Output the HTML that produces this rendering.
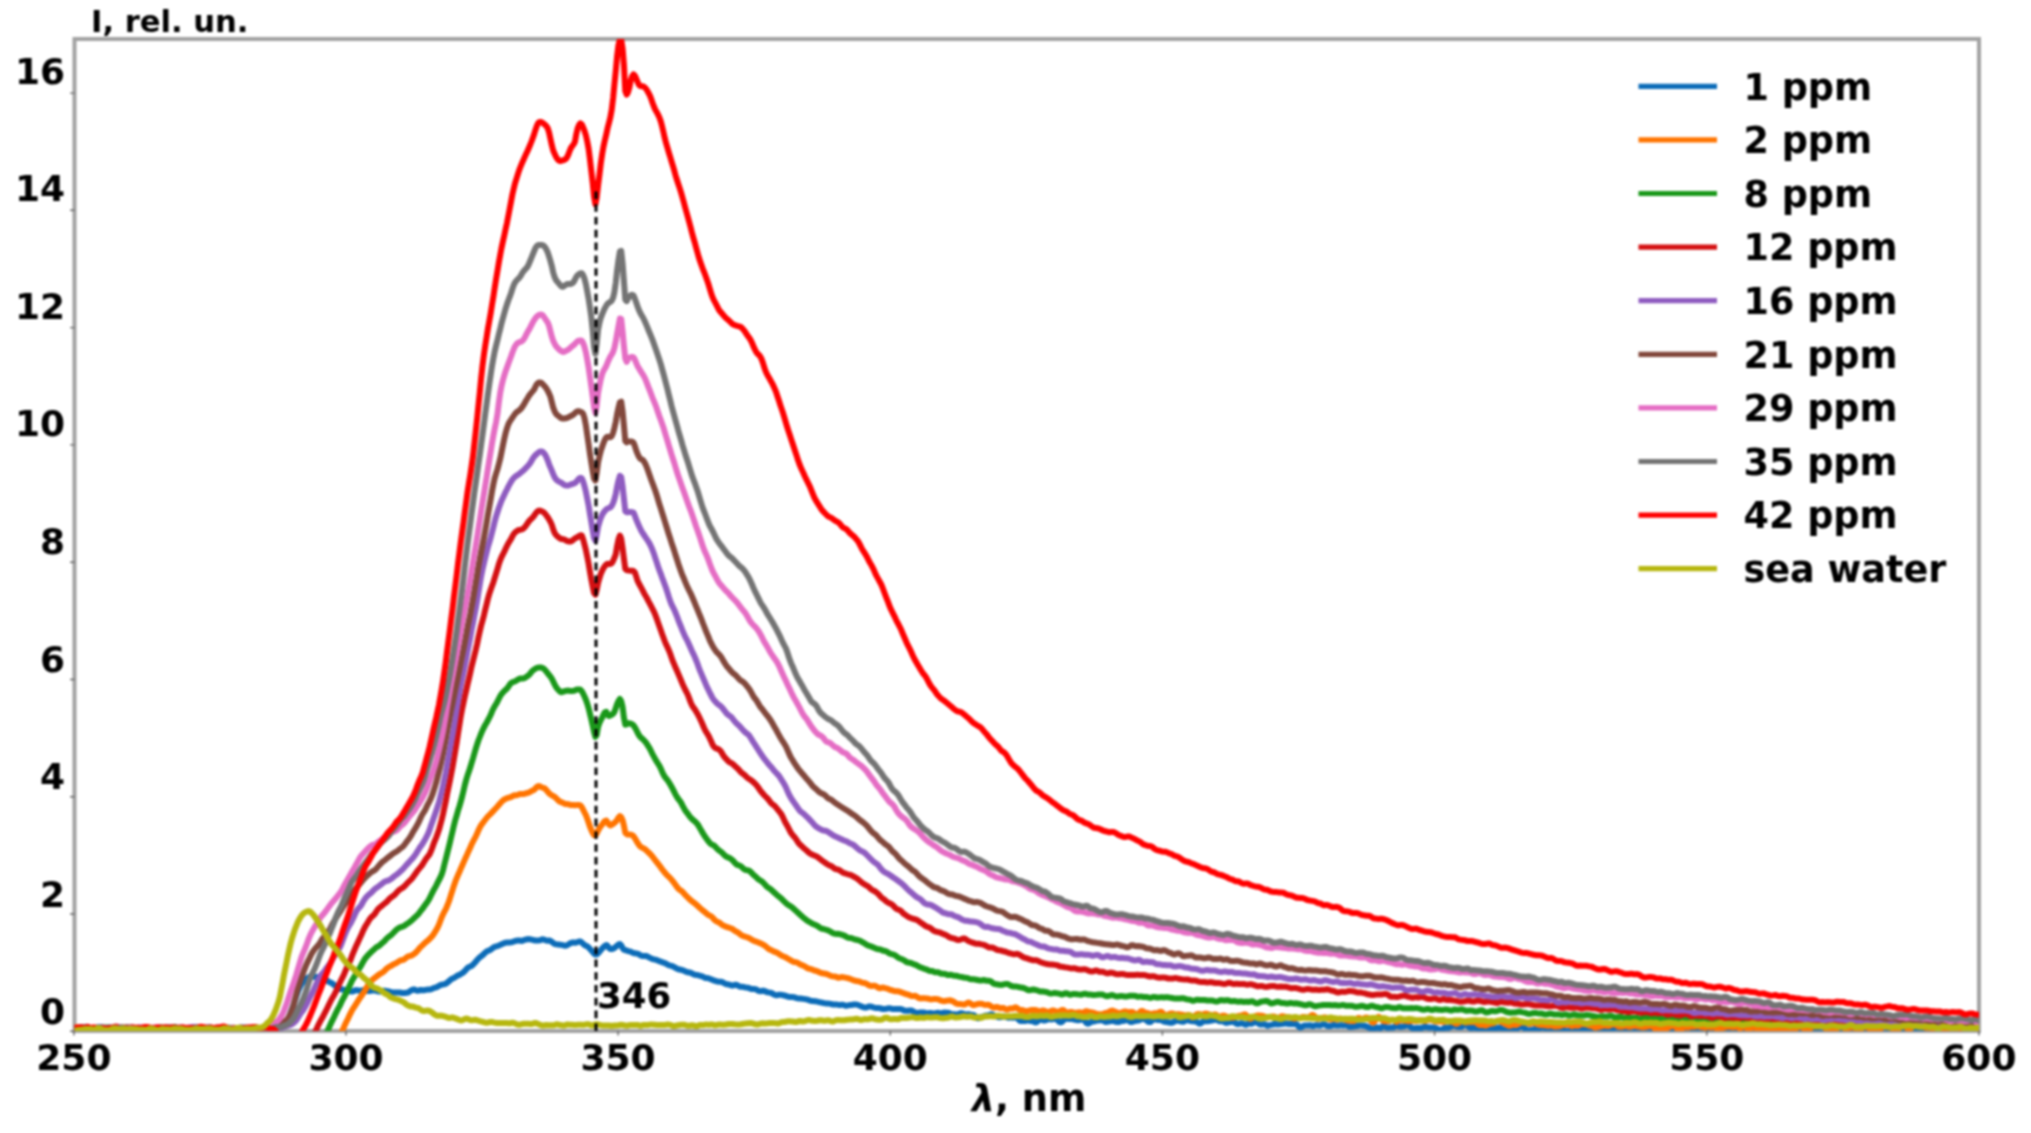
<!DOCTYPE html>
<html><head><meta charset="utf-8"><title>Fluorescence spectra</title>
<style>html,body{margin:0;padding:0;background:#fff;}body{width:2031px;height:1133px;overflow:hidden;}svg{display:block;filter:blur(1.1px);}</style>
</head><body>
<svg width="2031" height="1133" viewBox="0 0 2031 1133">
<defs><clipPath id="c"><rect x="74.5" y="39.0" width="1904.5" height="992.0"/></clipPath></defs>
<rect width="2031" height="1133" fill="#fff"/>
<rect x="74.5" y="39.0" width="1904.5" height="992.0" fill="none" stroke="#a2a2a2" stroke-width="4"/>
<g clip-path="url(#c)" fill="none" stroke-width="6.0" stroke-linejoin="round" stroke-linecap="round">
<path d="M74.5,1028.5 75.9,1028.4 77.2,1028.2 78.6,1027.9 79.9,1027.9 81.3,1028.1 82.7,1028.5 84.0,1028.7 85.4,1028.6 86.7,1028.5 88.1,1028.6 89.5,1028.6 90.8,1028.4 92.2,1028.3 93.5,1028.3 94.9,1028.2 96.3,1027.8 97.6,1027.4 99.0,1027.0 100.3,1026.9 101.7,1027.1 103.1,1027.4 104.4,1027.8 105.8,1028.1 107.1,1028.1 108.5,1027.7 109.9,1027.4 111.2,1027.6 112.6,1027.9 113.9,1027.9 115.3,1027.7 116.7,1027.6 118.0,1027.7 119.4,1028.1 120.7,1028.3 122.1,1028.5 123.5,1028.5 124.8,1028.6 126.2,1028.5 127.5,1028.4 128.9,1028.4 130.3,1028.2 131.6,1028.2 133.0,1028.4 134.3,1028.6 135.7,1028.5 137.1,1028.6 138.4,1028.7 139.8,1028.9 141.1,1029.1 142.5,1028.9 143.9,1028.6 145.2,1028.5 146.6,1028.6 147.9,1028.8 149.3,1028.8 150.7,1029.0 152.0,1029.1 153.4,1029.0 154.7,1028.7 156.1,1028.4 157.5,1028.2 158.8,1028.1 160.2,1027.9 161.5,1028.1 162.9,1028.5 164.3,1028.8 165.6,1028.7 167.0,1028.2 168.3,1028.0 169.7,1027.8 171.1,1027.7 172.4,1028.0 173.8,1028.5 175.1,1029.0 176.5,1028.9 177.9,1028.6 179.2,1028.5 180.6,1028.6 181.9,1028.8 183.3,1028.7 184.7,1028.5 186.0,1028.5 187.4,1028.3 188.7,1028.1 190.1,1028.0 191.5,1028.2 192.8,1028.6 194.2,1029.0 195.5,1029.1 196.9,1028.9 198.3,1028.9 199.6,1028.9 201.0,1028.9 202.3,1028.8 203.7,1028.5 205.1,1028.1 206.4,1027.7 207.8,1027.3 209.1,1027.2 210.5,1027.5 211.9,1028.1 213.2,1028.7 214.6,1028.9 215.9,1028.7 217.3,1028.4 218.7,1028.5 220.0,1028.6 221.4,1028.6 222.7,1028.7 224.1,1028.7 225.5,1028.6 226.8,1028.3 228.2,1028.2 229.5,1028.1 230.9,1028.1 232.3,1028.2 233.6,1028.4 235.0,1028.7 236.3,1028.7 237.7,1028.4 239.1,1028.1 240.4,1027.7 241.8,1027.4 243.1,1027.4 244.5,1027.6 245.9,1027.7 247.2,1027.8 248.6,1028.0 249.9,1028.2 251.3,1028.4 252.7,1028.5 254.0,1028.4 255.4,1028.5 256.7,1028.9 258.1,1029.1 259.5,1028.8 260.8,1028.4 262.2,1028.3 263.5,1028.3 264.9,1028.4 266.3,1028.4 267.6,1028.1 269.0,1027.9 270.3,1027.8 271.7,1028.1 273.1,1028.6 274.4,1028.9 275.8,1028.8 277.1,1028.5 278.5,1028.2 279.9,1027.9 281.2,1027.5 282.6,1026.9 283.9,1025.8 285.3,1024.2 286.7,1022.3 288.0,1019.7 289.4,1016.4 290.7,1012.6 292.1,1008.8 293.5,1005.0 294.8,1001.1 296.2,996.9 297.5,993.0 298.9,989.3 300.3,986.2 301.6,983.8 303.0,982.0 304.3,980.5 305.7,979.2 307.1,978.3 308.4,977.4 309.8,976.7 311.1,976.3 312.5,976.5 313.9,976.8 315.2,977.0 316.6,977.0 317.9,977.0 319.3,977.1 320.7,977.4 322.0,977.8 323.4,978.3 324.7,978.8 326.1,979.7 327.5,980.8 328.8,981.8 330.2,982.4 331.5,983.0 332.9,983.9 334.3,985.1 335.6,986.1 337.0,986.9 338.3,987.7 339.7,988.5 341.1,989.2 342.4,989.5 343.8,989.8 345.1,989.9 346.5,990.0 347.9,990.4 349.2,990.9 350.6,991.4 351.9,991.6 353.3,991.2 354.7,990.5 356.0,990.2 357.4,990.3 358.7,990.6 360.1,990.7 361.5,990.6 362.8,990.2 364.2,990.2 365.5,990.6 366.9,991.0 368.3,991.1 369.6,991.0 371.0,990.7 372.3,990.6 373.7,990.6 375.1,990.6 376.4,990.8 377.8,991.3 379.1,991.5 380.5,991.4 381.9,991.1 383.2,990.8 384.6,990.7 385.9,990.9 387.3,991.1 388.7,991.4 390.0,991.8 391.4,992.2 392.7,992.4 394.1,992.4 395.5,992.4 396.8,992.5 398.2,992.4 399.5,992.4 400.9,992.7 402.3,993.0 403.6,993.1 405.0,993.0 406.3,992.8 407.7,992.6 409.1,991.8 410.4,990.9 411.8,990.1 413.1,989.6 414.5,989.5 415.9,990.2 417.2,990.7 418.6,990.6 419.9,990.1 421.3,990.0 422.7,990.2 424.0,990.2 425.4,989.9 426.7,989.7 428.1,989.6 429.5,989.6 430.8,989.3 432.2,988.7 433.5,988.1 434.9,987.7 436.3,987.3 437.6,986.7 439.0,985.9 440.3,985.2 441.7,984.7 443.1,984.4 444.4,984.2 445.8,983.7 447.1,982.8 448.5,981.6 449.9,980.4 451.2,979.2 452.6,978.5 453.9,978.0 455.3,977.1 456.7,976.1 458.0,975.3 459.4,974.8 460.7,974.1 462.1,973.2 463.5,972.2 464.8,971.0 466.2,969.4 467.5,968.0 468.9,967.0 470.3,966.5 471.6,965.8 473.0,964.7 474.3,963.3 475.7,961.7 477.1,960.1 478.4,958.6 479.8,957.3 481.1,956.3 482.5,955.3 483.9,954.0 485.2,952.6 486.6,951.5 487.9,950.8 489.3,950.4 490.7,949.6 492.0,948.6 493.4,947.5 494.7,946.8 496.1,946.4 497.5,946.1 498.8,945.5 500.2,944.9 501.5,944.3 502.9,943.7 504.3,943.1 505.6,942.7 507.0,942.6 508.3,942.5 509.7,942.4 511.1,942.3 512.4,942.1 513.8,941.5 515.1,941.0 516.5,940.7 517.9,940.5 519.2,940.5 520.6,940.8 521.9,940.9 523.3,940.4 524.7,939.8 526.0,939.5 527.4,939.2 528.7,939.1 530.1,939.3 531.5,939.6 532.8,939.9 534.2,940.3 535.5,940.5 536.9,940.5 538.3,940.4 539.6,940.3 541.0,939.8 542.3,939.3 543.7,939.4 545.1,940.0 546.4,940.6 547.8,940.7 549.1,940.5 550.5,940.9 551.9,941.9 553.2,943.0 554.6,943.8 555.9,944.2 557.3,944.4 558.7,944.5 560.0,944.7 561.4,944.9 562.7,945.2 564.1,945.5 565.5,945.7 566.8,945.3 568.2,944.5 569.5,943.7 570.9,943.0 572.3,942.6 573.6,942.5 575.0,942.7 576.3,942.6 577.7,942.0 579.1,941.5 580.4,941.6 581.8,942.5 583.1,943.8 584.5,945.0 585.9,945.7 587.2,946.3 588.6,947.4 589.9,948.9 591.3,950.3 592.7,951.9 594.0,953.5 595.4,954.5 596.7,954.5 598.1,953.3 599.5,951.7 600.8,950.1 602.2,948.5 603.5,947.1 604.9,945.8 606.3,945.0 607.6,946.0 609.0,947.9 610.3,949.0 611.7,949.1 613.1,948.7 614.4,947.9 615.8,946.8 617.1,945.6 618.5,944.5 619.9,944.1 621.2,945.4 622.6,948.0 623.9,949.9 625.3,950.1 626.7,950.5 628.0,951.1 629.4,951.4 630.7,951.7 632.1,952.4 633.5,953.0 634.8,953.3 636.2,953.4 637.5,953.6 638.9,954.3 640.3,955.2 641.6,955.8 643.0,956.0 644.3,956.0 645.7,956.0 647.1,956.3 648.4,957.0 649.8,957.8 651.1,958.4 652.5,959.0 653.9,959.4 655.2,959.6 656.6,960.0 657.9,960.6 659.3,961.2 660.7,961.7 662.0,962.1 663.4,962.6 664.7,963.0 666.1,963.7 667.5,964.6 668.8,965.2 670.2,965.6 671.5,965.9 672.9,966.4 674.3,967.1 675.6,967.9 677.0,968.7 678.3,969.2 679.7,969.5 681.1,969.8 682.4,970.2 683.8,970.6 685.1,971.3 686.5,971.9 687.9,972.3 689.2,972.5 690.6,972.8 691.9,973.4 693.3,974.2 694.7,974.7 696.0,974.9 697.4,975.0 698.7,975.4 700.1,975.8 701.5,976.2 702.8,976.6 704.2,977.4 705.5,978.0 706.9,978.1 708.3,978.2 709.6,978.7 711.0,979.3 712.3,979.9 713.7,980.3 715.1,980.8 716.4,981.3 717.8,981.6 719.1,981.8 720.5,981.7 721.9,981.9 723.2,982.6 724.6,983.4 725.9,984.0 727.3,984.2 728.7,984.5 730.0,984.9 731.4,985.4 732.7,985.5 734.1,985.1 735.5,984.8 736.8,985.0 738.2,985.7 739.5,986.5 740.9,986.8 742.3,986.8 743.6,986.9 745.0,987.3 746.3,987.6 747.7,987.7 749.1,988.1 750.4,988.6 751.8,989.0 753.1,989.1 754.5,989.1 755.9,989.3 757.2,990.0 758.6,990.9 759.9,991.2 761.3,991.0 762.7,990.7 764.0,990.8 765.4,991.3 766.7,992.0 768.1,992.4 769.5,992.6 770.8,992.8 772.2,993.3 773.5,994.2 774.9,994.9 776.3,995.2 777.6,995.0 779.0,994.7 780.3,994.7 781.7,994.9 783.1,995.2 784.4,995.5 785.8,995.9 787.1,996.4 788.5,996.8 789.9,997.0 791.2,997.1 792.6,997.1 793.9,997.2 795.3,997.6 796.7,998.1 798.0,998.4 799.4,998.5 800.7,998.6 802.1,998.7 803.5,998.9 804.8,999.1 806.2,999.3 807.5,999.6 808.9,1000.2 810.3,1000.7 811.6,1001.0 813.0,1001.1 814.3,1001.2 815.7,1001.3 817.1,1001.6 818.4,1001.9 819.8,1002.2 821.1,1002.4 822.5,1002.8 823.9,1003.1 825.2,1003.3 826.6,1003.4 827.9,1003.4 829.3,1003.6 830.7,1003.9 832.0,1004.3 833.4,1004.5 834.7,1004.5 836.1,1004.4 837.5,1004.6 838.8,1004.9 840.2,1004.9 841.5,1004.8 842.9,1004.8 844.3,1005.2 845.6,1005.7 847.0,1005.7 848.3,1005.4 849.7,1005.1 851.1,1005.0 852.4,1004.8 853.8,1004.5 855.1,1004.5 856.5,1004.6 857.9,1004.9 859.2,1005.5 860.6,1006.1 861.9,1006.6 863.3,1007.1 864.7,1007.5 866.0,1007.5 867.4,1007.1 868.7,1006.5 870.1,1006.4 871.5,1006.7 872.8,1007.2 874.2,1007.6 875.5,1007.9 876.9,1007.9 878.3,1007.9 879.6,1008.1 881.0,1008.5 882.3,1008.9 883.7,1009.0 885.1,1008.9 886.4,1008.7 887.8,1008.4 889.1,1008.2 890.5,1008.4 891.9,1008.8 893.2,1009.1 894.6,1009.1 895.9,1008.9 897.3,1008.9 898.7,1008.9 900.0,1008.9 901.4,1009.1 902.7,1009.8 904.1,1010.5 905.5,1010.7 906.8,1010.7 908.2,1010.7 909.5,1010.5 910.9,1010.4 912.3,1010.9 913.6,1011.7 915.0,1012.4 916.3,1012.8 917.7,1012.9 919.1,1012.7 920.4,1012.5 921.8,1012.4 923.1,1012.4 924.5,1012.7 925.9,1013.1 927.2,1013.3 928.6,1013.1 929.9,1012.9 931.3,1013.1 932.7,1013.3 934.0,1013.4 935.4,1013.2 936.7,1012.9 938.1,1012.8 939.5,1013.1 940.8,1013.3 942.2,1013.1 943.5,1012.7 944.9,1012.6 946.3,1012.7 947.6,1012.7 949.0,1013.0 950.3,1013.6 951.7,1014.2 953.1,1014.2 954.4,1014.2 955.8,1014.4 957.1,1014.4 958.5,1014.1 959.9,1013.5 961.2,1013.2 962.6,1013.5 963.9,1014.0 965.3,1014.4 966.7,1014.4 968.0,1014.2 969.4,1014.3 970.7,1014.7 972.1,1014.9 973.5,1015.0 974.8,1015.8 976.2,1017.2 977.5,1018.3 978.9,1018.2 980.3,1017.4 981.6,1017.0 983.0,1016.7 984.3,1016.1 985.7,1015.6 987.1,1015.6 988.4,1015.4 989.8,1014.7 991.1,1014.2 992.5,1014.6 993.9,1015.4 995.2,1016.0 996.6,1016.5 997.9,1017.0 999.3,1017.3 1000.7,1017.2 1002.0,1016.9 1003.4,1016.6 1004.7,1016.5 1006.1,1017.0 1007.5,1017.6 1008.8,1017.7 1010.2,1017.4 1011.5,1017.5 1012.9,1017.7 1014.3,1017.6 1015.6,1017.2 1017.0,1017.7 1018.3,1019.2 1019.7,1020.7 1021.1,1021.0 1022.4,1020.8 1023.8,1021.0 1025.1,1021.0 1026.5,1020.6 1027.9,1020.4 1029.2,1020.7 1030.6,1021.0 1031.9,1021.0 1033.3,1021.4 1034.7,1022.2 1036.0,1022.4 1037.4,1021.6 1038.7,1020.4 1040.1,1019.6 1041.5,1019.8 1042.8,1020.3 1044.2,1020.6 1045.5,1020.4 1046.9,1019.7 1048.3,1019.2 1049.6,1019.2 1051.0,1019.4 1052.3,1019.3 1053.7,1019.1 1055.1,1018.9 1056.4,1019.3 1057.8,1020.5 1059.1,1021.7 1060.5,1022.4 1061.9,1022.1 1063.2,1020.6 1064.6,1019.1 1065.9,1018.4 1067.3,1018.6 1068.7,1019.0 1070.0,1019.1 1071.4,1019.0 1072.7,1019.1 1074.1,1019.5 1075.5,1019.9 1076.8,1020.2 1078.2,1020.2 1079.5,1020.0 1080.9,1019.6 1082.3,1019.2 1083.6,1019.6 1085.0,1021.1 1086.3,1022.9 1087.7,1023.7 1089.1,1023.3 1090.4,1022.4 1091.8,1021.8 1093.1,1021.6 1094.5,1021.3 1095.9,1020.9 1097.2,1020.6 1098.6,1020.5 1099.9,1020.3 1101.3,1020.1 1102.7,1020.3 1104.0,1021.2 1105.4,1022.0 1106.7,1021.9 1108.1,1021.5 1109.5,1021.4 1110.8,1021.1 1112.2,1020.8 1113.5,1021.0 1114.9,1021.5 1116.3,1021.9 1117.6,1022.0 1119.0,1021.9 1120.3,1021.4 1121.7,1021.0 1123.1,1021.0 1124.4,1020.7 1125.8,1020.0 1127.1,1019.8 1128.5,1020.6 1129.9,1021.6 1131.2,1022.1 1132.6,1021.8 1133.9,1021.2 1135.3,1020.9 1136.7,1020.8 1138.0,1020.6 1139.4,1020.3 1140.7,1019.5 1142.1,1018.9 1143.5,1018.9 1144.8,1019.3 1146.2,1020.2 1147.5,1021.3 1148.9,1022.1 1150.3,1022.1 1151.6,1021.0 1153.0,1019.9 1154.3,1019.4 1155.7,1019.4 1157.1,1019.8 1158.4,1020.1 1159.8,1020.0 1161.1,1020.1 1162.5,1020.8 1163.9,1021.5 1165.2,1021.8 1166.6,1022.1 1167.9,1022.3 1169.3,1022.6 1170.7,1022.8 1172.0,1022.7 1173.4,1022.2 1174.7,1021.4 1176.1,1020.7 1177.5,1020.7 1178.8,1020.9 1180.2,1021.2 1181.5,1021.5 1182.9,1021.8 1184.3,1021.3 1185.6,1020.3 1187.0,1019.8 1188.3,1020.2 1189.7,1020.8 1191.1,1021.0 1192.4,1021.2 1193.8,1021.4 1195.1,1021.6 1196.5,1021.8 1197.9,1022.6 1199.2,1023.5 1200.6,1023.5 1201.9,1022.4 1203.3,1021.4 1204.7,1021.3 1206.0,1021.3 1207.4,1021.2 1208.7,1021.0 1210.1,1020.9 1211.5,1020.6 1212.8,1020.3 1214.2,1019.8 1215.5,1019.5 1216.9,1019.9 1218.3,1020.8 1219.6,1021.3 1221.0,1021.2 1222.3,1021.1 1223.7,1021.7 1225.1,1022.6 1226.4,1022.9 1227.8,1022.5 1229.1,1022.2 1230.5,1022.0 1231.9,1021.7 1233.2,1021.6 1234.6,1022.3 1235.9,1023.4 1237.3,1023.9 1238.7,1023.9 1240.0,1023.5 1241.4,1023.3 1242.7,1023.4 1244.1,1024.1 1245.5,1024.8 1246.8,1024.5 1248.2,1023.7 1249.5,1023.4 1250.9,1023.7 1252.3,1023.5 1253.6,1022.6 1255.0,1021.9 1256.3,1022.2 1257.7,1023.1 1259.1,1024.0 1260.4,1024.6 1261.8,1024.5 1263.1,1024.2 1264.5,1024.2 1265.9,1025.0 1267.2,1025.7 1268.6,1025.5 1269.9,1025.1 1271.3,1024.9 1272.7,1024.6 1274.0,1024.1 1275.4,1024.0 1276.7,1024.3 1278.1,1024.4 1279.5,1024.2 1280.8,1024.0 1282.2,1023.9 1283.5,1023.7 1284.9,1023.4 1286.3,1023.4 1287.6,1023.8 1289.0,1024.0 1290.3,1023.9 1291.7,1023.9 1293.1,1023.9 1294.4,1023.8 1295.8,1023.9 1297.1,1024.7 1298.5,1026.3 1299.9,1027.4 1301.2,1027.3 1302.6,1026.4 1303.9,1025.7 1305.3,1025.5 1306.7,1025.5 1308.0,1025.4 1309.4,1025.3 1310.7,1025.5 1312.1,1025.9 1313.5,1025.9 1314.8,1025.5 1316.2,1025.2 1317.5,1025.3 1318.9,1025.6 1320.3,1025.5 1321.6,1025.0 1323.0,1024.2 1324.3,1024.2 1325.7,1025.1 1327.1,1025.9 1328.4,1026.1 1329.8,1026.0 1331.1,1025.8 1332.5,1025.3 1333.9,1025.0 1335.2,1025.3 1336.6,1025.6 1337.9,1025.6 1339.3,1025.4 1340.7,1025.3 1342.0,1025.3 1343.4,1025.6 1344.7,1025.4 1346.1,1025.1 1347.5,1025.6 1348.8,1026.6 1350.2,1026.9 1351.5,1026.7 1352.9,1026.5 1354.3,1026.4 1355.6,1026.1 1357.0,1026.0 1358.3,1025.8 1359.7,1025.5 1361.1,1025.5 1362.4,1025.7 1363.8,1025.8 1365.1,1025.9 1366.5,1026.3 1367.9,1027.1 1369.2,1027.6 1370.6,1028.1 1371.9,1028.5 1373.3,1028.6 1374.7,1028.3 1376.0,1027.7 1377.4,1027.4 1378.7,1027.8 1380.1,1028.2 1381.5,1027.5 1382.8,1026.2 1384.2,1026.0 1385.5,1026.8 1386.9,1027.6 1388.3,1027.8 1389.6,1027.6 1391.0,1027.6 1392.3,1027.5 1393.7,1027.2 1395.1,1026.6 1396.4,1026.0 1397.8,1026.0 1399.1,1026.5 1400.5,1026.8 1401.9,1026.7 1403.2,1026.4 1404.6,1026.1 1405.9,1025.6 1407.3,1025.3 1408.7,1025.5 1410.0,1026.5 1411.4,1027.6 1412.7,1028.2 1414.1,1028.2 1415.5,1028.1 1416.8,1027.9 1418.2,1027.9 1419.5,1028.1 1420.9,1028.1 1422.3,1027.6 1423.6,1027.2 1425.0,1027.0 1426.3,1027.1 1427.7,1027.3 1429.1,1027.6 1430.4,1027.6 1431.8,1027.5 1433.1,1027.4 1434.5,1027.7 1435.9,1028.1 1437.2,1028.7 1438.6,1029.5 1439.9,1029.9 1441.3,1029.8 1442.7,1029.0 1444.0,1028.1 1445.4,1027.7 1446.7,1027.8 1448.1,1027.8 1449.5,1027.4 1450.8,1026.7 1452.2,1026.0 1453.5,1025.7 1454.9,1025.9 1456.3,1026.4 1457.6,1026.8 1459.0,1027.0 1460.3,1027.1 1461.7,1026.8 1463.1,1025.9 1464.4,1025.2 1465.8,1025.1 1467.1,1025.6 1468.5,1026.8 1469.9,1027.8 1471.2,1028.0 1472.6,1027.8 1473.9,1027.6 1475.3,1027.7 1476.7,1028.1 1478.0,1028.8 1479.4,1029.5 1480.7,1029.9 1482.1,1029.4 1483.5,1028.6 1484.8,1028.2 1486.2,1028.4 1487.5,1028.9 1488.9,1029.2 1490.3,1029.3 1491.6,1028.8 1493.0,1028.1 1494.3,1028.1 1495.7,1028.3 1497.1,1028.1 1498.4,1027.7 1499.8,1027.5 1501.1,1028.0 1502.5,1029.4 1503.9,1030.4 1505.2,1029.9 1506.6,1028.6 1507.9,1027.9 1509.3,1028.2 1510.7,1028.5 1512.0,1028.5 1513.4,1028.7 1514.7,1029.3 1516.1,1029.2 1517.5,1028.3 1518.8,1027.2 1520.2,1026.5 1521.5,1026.5 1522.9,1027.0 1524.3,1028.0 1525.6,1029.1 1527.0,1030.2 1528.3,1030.8 1529.7,1030.5 1531.1,1029.9 1532.4,1029.8 1533.8,1029.6 1535.1,1028.8 1536.5,1028.1 1537.9,1027.9 1539.2,1028.0 1540.6,1027.9 1541.9,1027.4 1543.3,1027.3 1544.7,1028.0 1546.0,1028.8 1547.4,1029.3 1548.7,1029.5 1550.1,1029.4 1551.5,1028.9 1552.8,1028.3 1554.2,1028.2 1555.5,1028.6 1556.9,1028.9 1558.3,1028.9 1559.6,1028.7 1561.0,1029.0 1562.3,1029.6 1563.7,1030.1 1565.1,1030.7 1566.4,1031.5 1567.8,1031.4 1569.1,1030.8 1570.5,1031.0 1571.9,1031.6 1573.2,1031.4 1574.6,1030.4 1575.9,1029.5 1577.3,1029.0 1578.7,1029.0 1580.0,1029.3 1581.4,1029.4 1582.7,1029.1 1584.1,1028.6 1585.5,1028.3 1586.8,1028.5 1588.2,1028.9 1589.5,1029.7 1590.9,1030.4 1592.3,1030.7 1593.6,1030.6 1595.0,1030.3 1596.3,1030.0 1597.7,1029.7 1599.1,1029.7 1600.4,1029.8 1601.8,1030.0 1603.1,1030.1 1604.5,1029.8 1605.9,1029.2 1607.2,1028.8 1608.6,1029.0 1609.9,1029.3 1611.3,1029.6 1612.7,1029.4 1614.0,1028.4 1615.4,1027.4 1616.7,1027.2 1618.1,1027.9 1619.5,1029.2 1620.8,1030.2 1622.2,1030.1 1623.5,1029.6 1624.9,1029.9 1626.3,1030.8 1627.6,1031.2 1629.0,1031.6 1630.3,1032.4 1631.7,1032.9 1633.1,1032.5 1634.4,1031.6 1635.8,1030.9 1637.1,1030.2 1638.5,1029.5 1639.9,1029.0 1641.2,1029.0 1642.6,1029.3 1643.9,1030.0 1645.3,1030.9 1646.7,1031.2 1648.0,1030.7 1649.4,1030.2 1650.7,1030.3 1652.1,1030.7 1653.5,1030.5 1654.8,1029.6 1656.2,1028.6 1657.5,1028.2 1658.9,1028.8 1660.3,1029.5 1661.6,1029.6 1663.0,1029.4 1664.3,1029.6 1665.7,1030.0 1667.1,1030.0 1668.4,1029.5 1669.8,1028.8 1671.1,1028.5 1672.5,1028.8 1673.9,1029.2 1675.2,1029.2 1676.6,1029.2 1677.9,1029.5 1679.3,1029.6 1680.7,1029.6 1682.0,1029.7 1683.4,1029.7 1684.7,1029.2 1686.1,1028.8 1687.5,1028.8 1688.8,1029.1 1690.2,1029.7 1691.5,1030.6 1692.9,1031.2 1694.3,1031.4 1695.6,1031.4 1697.0,1031.9 1698.3,1032.5 1699.7,1032.6 1701.1,1032.2 1702.4,1031.4 1703.8,1030.8 1705.1,1030.3 1706.5,1029.9 1707.9,1029.7 1709.2,1029.4 1710.6,1028.9 1711.9,1028.6 1713.3,1029.1 1714.7,1030.3 1716.0,1031.3 1717.4,1031.5 1718.7,1030.9 1720.1,1030.3 1721.5,1030.1 1722.8,1030.5 1724.2,1031.1 1725.5,1031.7 1726.9,1031.7 1728.3,1030.5 1729.6,1029.2 1731.0,1028.4 1732.3,1028.5 1733.7,1029.4 1735.1,1030.4 1736.4,1030.5 1737.8,1030.5 1739.1,1030.9 1740.5,1031.2 1741.9,1030.7 1743.2,1030.2 1744.6,1030.4 1745.9,1031.2 1747.3,1032.1 1748.7,1032.8 1750.0,1033.1 1751.4,1033.1 1752.7,1032.5 1754.1,1031.4 1755.5,1030.3 1756.8,1030.2 1758.2,1030.6 1759.5,1030.9 1760.9,1030.9 1762.3,1030.7 1763.6,1031.0 1765.0,1031.6 1766.3,1032.1 1767.7,1032.2 1769.1,1032.2 1770.4,1031.7 1771.8,1030.3 1773.1,1029.1 1774.5,1028.8 1775.9,1029.2 1777.2,1030.0 1778.6,1030.7 1779.9,1031.1 1781.3,1030.9 1782.7,1030.9 1784.0,1031.1 1785.4,1030.7 1786.7,1030.3 1788.1,1030.5 1789.5,1030.7 1790.8,1030.8 1792.2,1030.7 1793.5,1030.4 1794.9,1030.3 1796.3,1030.7 1797.6,1031.0 1799.0,1031.1 1800.3,1031.4 1801.7,1032.2 1803.1,1032.7 1804.4,1032.5 1805.8,1032.0 1807.1,1031.7 1808.5,1031.7 1809.9,1032.1 1811.2,1032.5 1812.6,1032.4 1813.9,1031.6 1815.3,1030.8 1816.7,1030.8 1818.0,1031.5 1819.4,1032.3 1820.7,1032.7 1822.1,1032.9 1823.5,1032.9 1824.8,1032.4 1826.2,1031.0 1827.5,1029.6 1828.9,1029.1 1830.3,1029.8 1831.6,1030.8 1833.0,1031.6 1834.3,1032.3 1835.7,1032.9 1837.1,1033.1 1838.4,1032.6 1839.8,1031.7 1841.1,1031.1 1842.5,1030.9 1843.9,1030.9 1845.2,1030.9 1846.6,1031.2 1847.9,1031.1 1849.3,1030.6 1850.7,1030.2 1852.0,1030.5 1853.4,1031.1 1854.7,1031.5 1856.1,1031.5 1857.5,1031.1 1858.8,1030.8 1860.2,1030.9 1861.5,1031.1 1862.9,1030.8 1864.3,1029.9 1865.6,1029.2 1867.0,1029.7 1868.3,1031.1 1869.7,1032.0 1871.1,1031.9 1872.4,1031.3 1873.8,1031.4 1875.1,1032.2 1876.5,1032.6 1877.9,1031.8 1879.2,1030.8 1880.6,1031.0 1881.9,1032.3 1883.3,1033.6 1884.7,1033.7 1886.0,1033.0 1887.4,1032.0 1888.7,1031.4 1890.1,1031.0 1891.5,1030.7 1892.8,1030.8 1894.2,1031.5 1895.5,1031.9 1896.9,1031.8 1898.3,1031.0 1899.6,1030.2 1901.0,1029.7 1902.3,1029.6 1903.7,1029.3 1905.1,1028.9 1906.4,1028.7 1907.8,1028.5 1909.1,1028.2 1910.5,1028.3 1911.9,1029.1 1913.2,1030.5 1914.6,1031.7 1915.9,1031.7 1917.3,1031.0 1918.7,1030.7 1920.0,1031.0 1921.4,1031.3 1922.7,1031.6 1924.1,1031.6 1925.5,1030.8 1926.8,1029.8 1928.2,1029.7 1929.5,1030.2 1930.9,1030.2 1932.3,1029.9 1933.6,1030.1 1935.0,1030.8 1936.3,1031.3 1937.7,1031.3 1939.1,1031.2 1940.4,1030.7 1941.8,1030.1 1943.1,1030.1 1944.5,1030.1 1945.9,1029.6 1947.2,1029.4 1948.6,1030.3 1949.9,1031.4 1951.3,1031.7 1952.7,1031.6 1954.0,1031.7 1955.4,1032.0 1956.7,1032.4 1958.1,1032.7 1959.5,1032.3 1960.8,1031.4 1962.2,1030.6 1963.5,1030.2 1964.9,1030.0 1966.3,1030.7 1967.6,1032.2 1969.0,1033.2 1970.3,1033.0 1971.7,1032.7 1973.1,1033.1 1974.4,1033.4 1975.8,1032.8 1977.1,1031.3 1978.5,1030.1" stroke="#0c6cb8"/>
<path d="M74.5,1027.3 75.9,1027.1 77.2,1027.2 78.6,1027.6 79.9,1027.9 81.3,1028.4 82.7,1029.0 84.0,1029.5 85.4,1029.5 86.7,1029.3 88.1,1028.9 89.5,1028.6 90.8,1028.4 92.2,1028.3 93.5,1028.0 94.9,1027.9 96.3,1028.0 97.6,1028.5 99.0,1028.8 100.3,1028.6 101.7,1028.2 103.1,1027.8 104.4,1027.8 105.8,1028.3 107.1,1029.2 108.5,1029.6 109.9,1029.3 111.2,1028.8 112.6,1028.7 113.9,1028.8 115.3,1028.9 116.7,1028.9 118.0,1028.8 119.4,1028.6 120.7,1028.2 122.1,1027.7 123.5,1027.5 124.8,1027.4 126.2,1027.5 127.5,1027.7 128.9,1028.0 130.3,1028.2 131.6,1028.1 133.0,1027.8 134.3,1027.8 135.7,1028.2 137.1,1028.9 138.4,1029.4 139.8,1029.3 141.1,1029.1 142.5,1028.8 143.9,1028.6 145.2,1028.4 146.6,1028.1 147.9,1028.3 149.3,1029.0 150.7,1029.2 152.0,1028.8 153.4,1028.4 154.7,1028.3 156.1,1028.0 157.5,1027.9 158.8,1028.1 160.2,1028.5 161.5,1029.0 162.9,1029.3 164.3,1029.4 165.6,1029.3 167.0,1028.7 168.3,1028.1 169.7,1027.7 171.1,1027.8 172.4,1028.2 173.8,1028.4 175.1,1028.4 176.5,1028.2 177.9,1028.0 179.2,1027.9 180.6,1028.1 181.9,1028.4 183.3,1028.7 184.7,1028.6 186.0,1028.3 187.4,1028.2 188.7,1028.5 190.1,1029.0 191.5,1029.6 192.8,1029.9 194.2,1029.6 195.5,1028.9 196.9,1028.2 198.3,1027.8 199.6,1027.6 201.0,1027.7 202.3,1027.9 203.7,1028.3 205.1,1028.4 206.4,1028.4 207.8,1028.3 209.1,1028.5 210.5,1029.1 211.9,1029.6 213.2,1029.8 214.6,1029.7 215.9,1029.5 217.3,1029.4 218.7,1029.5 220.0,1029.5 221.4,1029.4 222.7,1029.4 224.1,1029.6 225.5,1029.5 226.8,1029.4 228.2,1029.1 229.5,1028.7 230.9,1028.3 232.3,1028.0 233.6,1027.9 235.0,1028.0 236.3,1028.2 237.7,1028.4 239.1,1028.5 240.4,1028.8 241.8,1029.3 243.1,1029.5 244.5,1029.2 245.9,1028.8 247.2,1028.6 248.6,1028.6 249.9,1028.5 251.3,1028.5 252.7,1029.0 254.0,1029.2 255.4,1029.0 256.7,1028.8 258.1,1028.9 259.5,1028.9 260.8,1028.8 262.2,1028.6 263.5,1028.8 264.9,1028.9 266.3,1028.8 267.6,1028.6 269.0,1028.7 270.3,1029.0 271.7,1029.1 273.1,1029.2 274.4,1029.8 275.8,1031.7 277.1,1034.7 278.5,1038.0 279.9,1041.1 281.2,1044.7 282.6,1048.8 283.9,1053.0 285.3,1057.1 286.7,1060.8 288.0,1064.7 289.4,1068.7 290.7,1072.4 292.1,1075.5 293.5,1077.8 294.8,1079.8 296.2,1081.9 297.5,1083.9 298.9,1085.5 300.3,1086.5 301.6,1087.3 303.0,1088.2 304.3,1089.2 305.7,1089.9 307.1,1090.0 308.4,1089.8 309.8,1089.9 311.1,1090.1 312.5,1089.9 313.9,1089.2 315.2,1088.2 316.6,1087.0 317.9,1085.9 319.3,1084.9 320.7,1084.1 322.0,1083.1 323.4,1081.9 324.7,1080.4 326.1,1078.7 327.5,1076.8 328.8,1074.4 330.2,1070.5 331.5,1065.4 332.9,1059.9 334.3,1054.1 335.6,1048.5 337.0,1043.5 338.3,1039.5 339.7,1036.2 341.1,1033.4 342.4,1030.5 343.8,1027.4 345.1,1024.3 346.5,1021.5 347.9,1018.8 349.2,1015.9 350.6,1013.1 351.9,1010.6 353.3,1008.2 354.7,1006.2 356.0,1004.1 357.4,1001.9 358.7,999.8 360.1,997.8 361.5,995.8 362.8,993.7 364.2,991.8 365.5,989.5 366.9,987.0 368.3,984.8 369.6,982.9 371.0,981.2 372.3,979.8 373.7,978.7 375.1,977.6 376.4,976.5 377.8,975.5 379.1,974.5 380.5,973.6 381.9,972.8 383.2,972.0 384.6,970.8 385.9,969.3 387.3,968.1 388.7,967.1 390.0,966.4 391.4,965.7 392.7,964.8 394.1,964.1 395.5,963.5 396.8,962.7 398.2,961.8 399.5,960.9 400.9,960.3 402.3,960.1 403.6,959.7 405.0,958.8 406.3,957.6 407.7,956.7 409.1,956.2 410.4,955.8 411.8,955.3 413.1,954.6 414.5,953.6 415.9,952.4 417.2,951.0 418.6,949.3 419.9,947.7 421.3,946.4 422.7,945.1 424.0,943.7 425.4,942.5 426.7,941.4 428.1,940.3 429.5,939.0 430.8,937.6 432.2,936.1 433.5,934.4 434.9,932.2 436.3,929.9 437.6,927.5 439.0,924.5 440.3,920.9 441.7,917.2 443.1,914.2 444.4,911.7 445.8,909.1 447.1,906.0 448.5,902.5 449.9,898.5 451.2,894.2 452.6,889.9 453.9,885.7 455.3,881.7 456.7,878.2 458.0,875.1 459.4,872.0 460.7,868.9 462.1,865.7 463.5,862.6 464.8,859.6 466.2,856.6 467.5,853.6 468.9,850.6 470.3,847.5 471.6,844.4 473.0,841.7 474.3,839.2 475.7,836.6 477.1,833.6 478.4,830.4 479.8,827.6 481.1,825.3 482.5,823.3 483.9,821.5 485.2,819.8 486.6,818.0 487.9,816.4 489.3,815.1 490.7,813.8 492.0,812.4 493.4,810.9 494.7,809.5 496.1,808.0 497.5,806.5 498.8,804.9 500.2,803.4 501.5,801.9 502.9,800.5 504.3,799.5 505.6,798.8 507.0,798.2 508.3,797.8 509.7,797.4 511.1,797.0 512.4,796.2 513.8,795.5 515.1,795.3 516.5,795.2 517.9,794.8 519.2,794.3 520.6,794.0 521.9,794.0 523.3,794.0 524.7,793.7 526.0,793.3 527.4,793.0 528.7,792.6 530.1,791.9 531.5,791.0 532.8,790.4 534.2,789.8 535.5,788.4 536.9,786.9 538.3,786.1 539.6,786.3 541.0,787.0 542.3,787.6 543.7,787.9 545.1,788.7 546.4,790.1 547.8,791.8 549.1,793.3 550.5,794.4 551.9,795.3 553.2,796.0 554.6,796.8 555.9,798.0 557.3,799.4 558.7,800.8 560.0,801.7 561.4,802.2 562.7,802.7 564.1,803.4 565.5,804.0 566.8,804.1 568.2,804.2 569.5,804.6 570.9,805.0 572.3,805.1 573.6,805.1 575.0,805.2 576.3,805.1 577.7,804.9 579.1,804.9 580.4,805.5 581.8,807.2 583.1,809.7 584.5,812.5 585.9,815.2 587.2,818.5 588.6,822.5 589.9,826.5 591.3,829.9 592.7,833.0 594.0,835.1 595.4,835.4 596.7,833.5 598.1,830.5 599.5,828.0 600.8,826.3 602.2,824.5 603.5,822.6 604.9,821.0 606.3,820.5 607.6,822.2 609.0,824.5 610.3,825.4 611.7,824.8 613.1,823.9 614.4,822.8 615.8,821.7 617.1,819.9 618.5,817.6 619.9,816.2 621.2,817.2 622.6,820.3 623.9,825.5 625.3,832.8 626.7,834.1 628.0,834.6 629.4,834.6 630.7,834.7 632.1,835.1 633.5,836.2 634.8,838.1 636.2,840.5 637.5,842.8 638.9,844.8 640.3,846.5 641.6,847.4 643.0,848.0 644.3,848.8 645.7,849.8 647.1,851.1 648.4,852.4 649.8,853.6 651.1,855.0 652.5,856.7 653.9,858.5 655.2,860.3 656.6,861.9 657.9,863.6 659.3,865.4 660.7,867.3 662.0,869.2 663.4,870.9 664.7,872.5 666.1,874.2 667.5,875.6 668.8,876.8 670.2,878.1 671.5,879.7 672.9,881.4 674.3,883.2 675.6,885.0 677.0,887.0 678.3,888.6 679.7,889.8 681.1,890.6 682.4,891.7 683.8,893.3 685.1,894.8 686.5,896.2 687.9,897.6 689.2,898.9 690.6,900.1 691.9,901.2 693.3,902.3 694.7,903.3 696.0,904.4 697.4,905.6 698.7,906.9 700.1,908.1 701.5,909.4 702.8,910.5 704.2,911.5 705.5,912.6 706.9,913.8 708.3,914.9 709.6,915.6 711.0,916.2 712.3,917.3 713.7,918.9 715.1,920.4 716.4,921.3 717.8,921.9 719.1,922.5 720.5,923.5 721.9,924.7 723.2,925.5 724.6,926.1 725.9,926.6 727.3,927.1 728.7,927.5 730.0,928.0 731.4,928.5 732.7,929.2 734.1,930.3 735.5,931.2 736.8,931.8 738.2,932.6 739.5,933.7 740.9,934.8 742.3,935.6 743.6,936.2 745.0,936.6 746.3,937.0 747.7,937.5 749.1,938.1 750.4,938.8 751.8,939.7 753.1,940.5 754.5,941.1 755.9,941.5 757.2,942.0 758.6,942.6 759.9,943.1 761.3,943.7 762.7,944.5 764.0,945.2 765.4,946.1 766.7,947.3 768.1,948.5 769.5,949.4 770.8,949.9 772.2,950.6 773.5,951.3 774.9,951.8 776.3,952.3 777.6,953.0 779.0,953.9 780.3,954.9 781.7,955.7 783.1,956.3 784.4,956.8 785.8,957.3 787.1,958.2 788.5,959.1 789.9,959.8 791.2,960.6 792.6,961.4 793.9,962.0 795.3,962.1 796.7,962.4 798.0,963.0 799.4,963.9 800.7,964.7 802.1,965.2 803.5,965.8 804.8,966.4 806.2,967.3 807.5,968.2 808.9,968.7 810.3,968.9 811.6,969.3 813.0,969.9 814.3,970.5 815.7,970.8 817.1,971.2 818.4,971.8 819.8,972.5 821.1,973.0 822.5,973.3 823.9,973.6 825.2,973.7 826.6,974.0 827.9,974.6 829.3,975.2 830.7,975.8 832.0,976.2 833.4,976.4 834.7,976.4 836.1,976.8 837.5,977.5 838.8,977.7 840.2,977.4 841.5,977.1 842.9,977.2 844.3,977.4 845.6,977.7 847.0,977.9 848.3,978.3 849.7,978.7 851.1,979.3 852.4,979.8 853.8,980.3 855.1,980.8 856.5,981.1 857.9,981.2 859.2,981.4 860.6,982.0 861.9,982.6 863.3,982.9 864.7,983.0 866.0,983.5 867.4,984.3 868.7,985.2 870.1,985.8 871.5,986.0 872.8,985.8 874.2,985.7 875.5,986.0 876.9,986.8 878.3,987.8 879.6,988.3 881.0,988.0 882.3,987.6 883.7,987.7 885.1,988.1 886.4,988.4 887.8,988.8 889.1,989.4 890.5,990.0 891.9,990.3 893.2,990.7 894.6,991.0 895.9,991.2 897.3,991.2 898.7,991.4 900.0,991.8 901.4,992.3 902.7,992.8 904.1,993.3 905.5,993.9 906.8,994.3 908.2,994.6 909.5,995.1 910.9,995.8 912.3,996.1 913.6,995.9 915.0,995.8 916.3,996.3 917.7,997.4 919.1,998.2 920.4,998.4 921.8,998.3 923.1,998.2 924.5,998.2 925.9,998.4 927.2,998.5 928.6,998.8 929.9,999.2 931.3,999.4 932.7,999.1 934.0,998.9 935.4,999.0 936.7,999.1 938.1,999.3 939.5,999.9 940.8,1000.5 942.2,1000.9 943.5,1001.2 944.9,1001.1 946.3,1000.8 947.6,1000.6 949.0,1000.5 950.3,1000.3 951.7,1000.8 953.1,1001.3 954.4,1002.2 955.8,1003.2 957.1,1003.8 958.5,1003.9 959.9,1003.9 961.2,1004.1 962.6,1004.4 963.9,1004.5 965.3,1004.2 966.7,1003.3 968.0,1002.6 969.4,1002.7 970.7,1003.6 972.1,1004.7 973.5,1005.2 974.8,1004.9 976.2,1004.4 977.5,1004.0 978.9,1003.8 980.3,1003.7 981.6,1003.8 983.0,1004.2 984.3,1004.7 985.7,1004.9 987.1,1004.8 988.4,1004.7 989.8,1005.4 991.1,1006.4 992.5,1007.1 993.9,1007.5 995.2,1007.4 996.6,1006.9 997.9,1007.1 999.3,1007.9 1000.7,1008.3 1002.0,1007.9 1003.4,1008.0 1004.7,1008.7 1006.1,1009.4 1007.5,1009.5 1008.8,1008.9 1010.2,1008.5 1011.5,1008.6 1012.9,1008.5 1014.3,1007.8 1015.6,1007.3 1017.0,1007.9 1018.3,1009.2 1019.7,1010.0 1021.1,1010.1 1022.4,1010.1 1023.8,1010.7 1025.1,1011.1 1026.5,1011.1 1027.9,1011.0 1029.2,1010.6 1030.6,1010.2 1031.9,1010.0 1033.3,1009.9 1034.7,1010.0 1036.0,1010.2 1037.4,1010.6 1038.7,1011.2 1040.1,1011.3 1041.5,1010.8 1042.8,1010.4 1044.2,1010.6 1045.5,1011.3 1046.9,1011.8 1048.3,1011.9 1049.6,1011.6 1051.0,1011.1 1052.3,1010.5 1053.7,1010.5 1055.1,1011.0 1056.4,1011.4 1057.8,1011.7 1059.1,1011.7 1060.5,1010.9 1061.9,1009.9 1063.2,1009.9 1064.6,1011.0 1065.9,1012.5 1067.3,1013.2 1068.7,1012.7 1070.0,1012.0 1071.4,1011.9 1072.7,1012.4 1074.1,1012.8 1075.5,1012.8 1076.8,1012.6 1078.2,1012.4 1079.5,1012.3 1080.9,1012.6 1082.3,1012.9 1083.6,1012.5 1085.0,1011.6 1086.3,1011.2 1087.7,1011.5 1089.1,1012.0 1090.4,1012.3 1091.8,1012.3 1093.1,1012.6 1094.5,1013.2 1095.9,1013.6 1097.2,1014.0 1098.6,1014.2 1099.9,1014.3 1101.3,1014.2 1102.7,1014.0 1104.0,1013.5 1105.4,1012.9 1106.7,1012.7 1108.1,1012.4 1109.5,1011.6 1110.8,1010.9 1112.2,1010.6 1113.5,1011.1 1114.9,1011.7 1116.3,1012.2 1117.6,1012.7 1119.0,1013.2 1120.3,1013.2 1121.7,1012.6 1123.1,1011.9 1124.4,1011.5 1125.8,1011.5 1127.1,1011.9 1128.5,1012.2 1129.9,1012.1 1131.2,1011.9 1132.6,1012.0 1133.9,1012.8 1135.3,1013.9 1136.7,1014.7 1138.0,1014.2 1139.4,1012.7 1140.7,1011.4 1142.1,1011.0 1143.5,1011.6 1144.8,1012.5 1146.2,1013.0 1147.5,1013.1 1148.9,1013.5 1150.3,1014.0 1151.6,1014.2 1153.0,1013.7 1154.3,1013.3 1155.7,1013.2 1157.1,1013.2 1158.4,1012.6 1159.8,1011.9 1161.1,1011.8 1162.5,1012.8 1163.9,1014.5 1165.2,1015.4 1166.6,1015.3 1167.9,1014.7 1169.3,1014.2 1170.7,1013.6 1172.0,1013.5 1173.4,1013.8 1174.7,1014.3 1176.1,1014.4 1177.5,1014.2 1178.8,1014.2 1180.2,1014.4 1181.5,1014.6 1182.9,1015.0 1184.3,1015.4 1185.6,1015.5 1187.0,1015.2 1188.3,1014.9 1189.7,1015.1 1191.1,1016.3 1192.4,1017.3 1193.8,1017.1 1195.1,1015.8 1196.5,1014.6 1197.9,1014.0 1199.2,1014.0 1200.6,1014.5 1201.9,1014.7 1203.3,1014.4 1204.7,1013.8 1206.0,1013.6 1207.4,1014.0 1208.7,1014.4 1210.1,1014.7 1211.5,1015.1 1212.8,1015.3 1214.2,1014.7 1215.5,1014.4 1216.9,1015.3 1218.3,1016.7 1219.6,1017.3 1221.0,1016.7 1222.3,1015.8 1223.7,1015.6 1225.1,1016.0 1226.4,1016.6 1227.8,1017.2 1229.1,1017.6 1230.5,1017.4 1231.9,1017.4 1233.2,1017.5 1234.6,1017.2 1235.9,1016.7 1237.3,1016.3 1238.7,1015.9 1240.0,1015.6 1241.4,1015.4 1242.7,1015.1 1244.1,1014.5 1245.5,1014.6 1246.8,1015.8 1248.2,1017.6 1249.5,1018.7 1250.9,1018.5 1252.3,1017.8 1253.6,1016.9 1255.0,1016.4 1256.3,1015.9 1257.7,1015.5 1259.1,1015.4 1260.4,1015.7 1261.8,1015.8 1263.1,1016.0 1264.5,1016.5 1265.9,1017.1 1267.2,1017.4 1268.6,1017.2 1269.9,1016.9 1271.3,1016.7 1272.7,1016.5 1274.0,1016.5 1275.4,1017.0 1276.7,1017.8 1278.1,1018.1 1279.5,1017.5 1280.8,1016.6 1282.2,1016.2 1283.5,1016.5 1284.9,1016.8 1286.3,1016.9 1287.6,1017.2 1289.0,1017.5 1290.3,1017.6 1291.7,1017.8 1293.1,1018.3 1294.4,1018.5 1295.8,1018.3 1297.1,1018.0 1298.5,1018.0 1299.9,1018.0 1301.2,1017.6 1302.6,1017.0 1303.9,1016.9 1305.3,1017.1 1306.7,1017.6 1308.0,1017.7 1309.4,1017.1 1310.7,1015.8 1312.1,1015.0 1313.5,1015.4 1314.8,1016.5 1316.2,1017.8 1317.5,1018.7 1318.9,1018.7 1320.3,1018.2 1321.6,1017.9 1323.0,1017.7 1324.3,1017.5 1325.7,1017.5 1327.1,1018.1 1328.4,1018.9 1329.8,1019.3 1331.1,1019.3 1332.5,1019.0 1333.9,1018.8 1335.2,1019.0 1336.6,1019.4 1337.9,1019.5 1339.3,1019.0 1340.7,1018.6 1342.0,1018.9 1343.4,1019.4 1344.7,1019.6 1346.1,1019.9 1347.5,1020.5 1348.8,1020.8 1350.2,1020.6 1351.5,1020.7 1352.9,1021.0 1354.3,1020.8 1355.6,1019.8 1357.0,1018.7 1358.3,1017.9 1359.7,1018.0 1361.1,1018.8 1362.4,1019.1 1363.8,1018.6 1365.1,1017.8 1366.5,1017.6 1367.9,1017.9 1369.2,1019.0 1370.6,1020.6 1371.9,1022.2 1373.3,1022.6 1374.7,1021.4 1376.0,1019.3 1377.4,1017.4 1378.7,1016.8 1380.1,1017.7 1381.5,1019.4 1382.8,1020.7 1384.2,1021.2 1385.5,1021.3 1386.9,1021.3 1388.3,1021.3 1389.6,1020.9 1391.0,1019.9 1392.3,1019.5 1393.7,1020.1 1395.1,1021.3 1396.4,1021.9 1397.8,1021.3 1399.1,1020.4 1400.5,1020.1 1401.9,1020.3 1403.2,1020.5 1404.6,1020.7 1405.9,1020.9 1407.3,1021.1 1408.7,1021.3 1410.0,1021.1 1411.4,1020.8 1412.7,1020.6 1414.1,1020.8 1415.5,1021.1 1416.8,1021.1 1418.2,1020.7 1419.5,1020.3 1420.9,1020.2 1422.3,1020.5 1423.6,1020.9 1425.0,1021.1 1426.3,1020.6 1427.7,1019.9 1429.1,1019.5 1430.4,1019.6 1431.8,1019.9 1433.1,1020.4 1434.5,1021.1 1435.9,1021.6 1437.2,1021.6 1438.6,1021.5 1439.9,1021.4 1441.3,1021.4 1442.7,1021.7 1444.0,1021.9 1445.4,1021.7 1446.7,1021.2 1448.1,1021.1 1449.5,1021.5 1450.8,1021.8 1452.2,1021.8 1453.5,1022.3 1454.9,1023.2 1456.3,1023.8 1457.6,1023.4 1459.0,1022.5 1460.3,1021.5 1461.7,1020.8 1463.1,1021.2 1464.4,1022.1 1465.8,1022.6 1467.1,1022.4 1468.5,1022.0 1469.9,1022.0 1471.2,1022.1 1472.6,1022.0 1473.9,1021.7 1475.3,1021.8 1476.7,1022.7 1478.0,1024.1 1479.4,1024.9 1480.7,1024.9 1482.1,1024.8 1483.5,1025.0 1484.8,1025.4 1486.2,1025.5 1487.5,1024.9 1488.9,1024.2 1490.3,1023.7 1491.6,1023.6 1493.0,1023.4 1494.3,1022.8 1495.7,1021.7 1497.1,1020.9 1498.4,1020.8 1499.8,1021.3 1501.1,1022.0 1502.5,1022.5 1503.9,1022.9 1505.2,1023.8 1506.6,1024.7 1507.9,1025.4 1509.3,1025.8 1510.7,1025.6 1512.0,1024.9 1513.4,1024.7 1514.7,1024.9 1516.1,1024.9 1517.5,1024.4 1518.8,1023.6 1520.2,1022.9 1521.5,1022.6 1522.9,1022.6 1524.3,1022.6 1525.6,1022.6 1527.0,1023.0 1528.3,1023.8 1529.7,1024.0 1531.1,1023.5 1532.4,1022.8 1533.8,1022.7 1535.1,1023.2 1536.5,1023.9 1537.9,1024.4 1539.2,1024.8 1540.6,1024.9 1541.9,1024.9 1543.3,1025.0 1544.7,1025.2 1546.0,1025.4 1547.4,1025.7 1548.7,1025.7 1550.1,1025.5 1551.5,1025.6 1552.8,1026.0 1554.2,1026.5 1555.5,1026.6 1556.9,1026.5 1558.3,1026.3 1559.6,1026.2 1561.0,1025.8 1562.3,1025.0 1563.7,1024.6 1565.1,1024.9 1566.4,1024.9 1567.8,1024.5 1569.1,1024.6 1570.5,1025.5 1571.9,1026.2 1573.2,1025.9 1574.6,1025.2 1575.9,1025.3 1577.3,1025.8 1578.7,1025.6 1580.0,1024.6 1581.4,1023.8 1582.7,1024.0 1584.1,1024.3 1585.5,1024.1 1586.8,1024.4 1588.2,1025.3 1589.5,1025.8 1590.9,1025.8 1592.3,1026.1 1593.6,1026.9 1595.0,1027.5 1596.3,1027.4 1597.7,1027.0 1599.1,1026.9 1600.4,1026.6 1601.8,1026.2 1603.1,1025.8 1604.5,1025.4 1605.9,1025.6 1607.2,1026.1 1608.6,1026.1 1609.9,1025.6 1611.3,1025.0 1612.7,1024.3 1614.0,1024.2 1615.4,1024.7 1616.7,1025.5 1618.1,1026.3 1619.5,1026.8 1620.8,1026.8 1622.2,1026.7 1623.5,1026.4 1624.9,1026.0 1626.3,1025.9 1627.6,1026.3 1629.0,1026.8 1630.3,1026.8 1631.7,1026.2 1633.1,1025.6 1634.4,1025.7 1635.8,1026.1 1637.1,1026.4 1638.5,1026.5 1639.9,1026.7 1641.2,1027.1 1642.6,1027.3 1643.9,1027.2 1645.3,1027.1 1646.7,1026.8 1648.0,1026.4 1649.4,1026.2 1650.7,1026.0 1652.1,1026.4 1653.5,1027.4 1654.8,1028.4 1656.2,1028.7 1657.5,1028.5 1658.9,1028.3 1660.3,1028.1 1661.6,1028.1 1663.0,1028.4 1664.3,1028.8 1665.7,1028.8 1667.1,1028.1 1668.4,1027.3 1669.8,1027.0 1671.1,1026.4 1672.5,1025.6 1673.9,1025.6 1675.2,1026.8 1676.6,1028.2 1677.9,1028.9 1679.3,1029.2 1680.7,1029.1 1682.0,1028.5 1683.4,1027.8 1684.7,1027.3 1686.1,1027.3 1687.5,1027.6 1688.8,1027.3 1690.2,1026.8 1691.5,1026.7 1692.9,1026.7 1694.3,1026.7 1695.6,1026.6 1697.0,1026.1 1698.3,1025.8 1699.7,1026.3 1701.1,1027.0 1702.4,1027.2 1703.8,1027.4 1705.1,1027.7 1706.5,1027.4 1707.9,1026.9 1709.2,1026.9 1710.6,1027.4 1711.9,1027.4 1713.3,1027.1 1714.7,1027.3 1716.0,1028.1 1717.4,1028.5 1718.7,1028.2 1720.1,1027.8 1721.5,1027.8 1722.8,1027.9 1724.2,1027.6 1725.5,1027.2 1726.9,1026.9 1728.3,1026.8 1729.6,1026.8 1731.0,1027.1 1732.3,1027.3 1733.7,1027.3 1735.1,1027.0 1736.4,1026.9 1737.8,1027.3 1739.1,1028.0 1740.5,1028.2 1741.9,1027.7 1743.2,1026.8 1744.6,1026.7 1745.9,1027.6 1747.3,1028.9 1748.7,1029.5 1750.0,1029.0 1751.4,1028.1 1752.7,1027.5 1754.1,1027.3 1755.5,1027.9 1756.8,1029.0 1758.2,1029.5 1759.5,1029.6 1760.9,1029.7 1762.3,1029.8 1763.6,1029.4 1765.0,1028.5 1766.3,1027.6 1767.7,1027.7 1769.1,1028.8 1770.4,1029.6 1771.8,1029.3 1773.1,1028.7 1774.5,1028.3 1775.9,1028.5 1777.2,1029.1 1778.6,1029.4 1779.9,1029.3 1781.3,1029.3 1782.7,1029.3 1784.0,1029.1 1785.4,1028.6 1786.7,1028.4 1788.1,1028.9 1789.5,1029.2 1790.8,1028.9 1792.2,1028.8 1793.5,1029.0 1794.9,1029.0 1796.3,1028.3 1797.6,1027.4 1799.0,1027.0 1800.3,1026.9 1801.7,1027.2 1803.1,1027.9 1804.4,1029.0 1805.8,1030.2 1807.1,1031.0 1808.5,1030.4 1809.9,1029.0 1811.2,1027.5 1812.6,1026.7 1813.9,1026.4 1815.3,1026.3 1816.7,1026.4 1818.0,1026.5 1819.4,1026.5 1820.7,1026.1 1822.1,1026.0 1823.5,1026.5 1824.8,1027.7 1826.2,1028.7 1827.5,1029.3 1828.9,1029.2 1830.3,1028.8 1831.6,1028.4 1833.0,1028.8 1834.3,1029.5 1835.7,1029.4 1837.1,1028.4 1838.4,1027.3 1839.8,1026.8 1841.1,1026.6 1842.5,1027.1 1843.9,1027.8 1845.2,1028.2 1846.6,1028.2 1847.9,1028.1 1849.3,1027.8 1850.7,1027.6 1852.0,1027.4 1853.4,1027.4 1854.7,1027.8 1856.1,1028.4 1857.5,1029.0 1858.8,1029.3 1860.2,1029.0 1861.5,1028.4 1862.9,1027.5 1864.3,1026.9 1865.6,1026.9 1867.0,1027.5 1868.3,1027.9 1869.7,1028.0 1871.1,1028.1 1872.4,1028.1 1873.8,1028.3 1875.1,1028.4 1876.5,1028.2 1877.9,1028.2 1879.2,1028.6 1880.6,1028.5 1881.9,1027.5 1883.3,1026.3 1884.7,1025.9 1886.0,1026.3 1887.4,1027.0 1888.7,1027.2 1890.1,1027.3 1891.5,1027.9 1892.8,1028.5 1894.2,1028.5 1895.5,1028.6 1896.9,1029.0 1898.3,1028.8 1899.6,1028.0 1901.0,1026.9 1902.3,1026.1 1903.7,1026.2 1905.1,1026.9 1906.4,1027.7 1907.8,1028.4 1909.1,1028.7 1910.5,1028.4 1911.9,1027.5 1913.2,1026.4 1914.6,1025.8 1915.9,1025.9 1917.3,1026.3 1918.7,1026.6 1920.0,1026.5 1921.4,1026.4 1922.7,1026.6 1924.1,1027.2 1925.5,1027.6 1926.8,1027.8 1928.2,1027.8 1929.5,1027.7 1930.9,1027.8 1932.3,1028.5 1933.6,1029.1 1935.0,1029.5 1936.3,1029.9 1937.7,1030.2 1939.1,1030.0 1940.4,1029.6 1941.8,1029.4 1943.1,1028.9 1944.5,1028.4 1945.9,1028.2 1947.2,1028.4 1948.6,1028.5 1949.9,1028.5 1951.3,1028.3 1952.7,1027.9 1954.0,1027.8 1955.4,1028.5 1956.7,1029.1 1958.1,1029.0 1959.5,1028.8 1960.8,1029.0 1962.2,1029.4 1963.5,1029.0 1964.9,1028.2 1966.3,1027.5 1967.6,1026.9 1969.0,1026.7 1970.3,1027.1 1971.7,1027.7 1973.1,1027.9 1974.4,1028.2 1975.8,1028.9 1977.1,1029.7 1978.5,1030.0" stroke="#ff7400"/>
<path d="M74.5,1028.1 75.9,1028.4 77.2,1028.5 78.6,1028.4 79.9,1028.5 81.3,1028.8 82.7,1028.6 84.0,1027.7 85.4,1026.9 86.7,1026.9 88.1,1027.4 89.5,1028.1 90.8,1028.4 92.2,1028.4 93.5,1028.2 94.9,1028.1 96.3,1028.1 97.6,1028.4 99.0,1029.0 100.3,1029.4 101.7,1029.1 103.1,1028.3 104.4,1027.7 105.8,1027.4 107.1,1027.4 108.5,1027.6 109.9,1028.0 111.2,1028.2 112.6,1028.1 113.9,1027.7 115.3,1027.4 116.7,1027.6 118.0,1028.0 119.4,1028.5 120.7,1028.8 122.1,1028.9 123.5,1028.9 124.8,1028.6 126.2,1028.0 127.5,1027.6 128.9,1027.8 130.3,1028.6 131.6,1029.2 133.0,1029.2 134.3,1028.8 135.7,1028.5 137.1,1028.3 138.4,1028.4 139.8,1028.7 141.1,1028.7 142.5,1028.6 143.9,1028.6 145.2,1028.6 146.6,1028.7 147.9,1028.8 149.3,1029.1 150.7,1029.2 152.0,1029.3 153.4,1029.4 154.7,1029.3 156.1,1028.9 157.5,1028.4 158.8,1027.9 160.2,1027.5 161.5,1027.5 162.9,1027.8 164.3,1027.9 165.6,1028.0 167.0,1027.9 168.3,1027.9 169.7,1028.3 171.1,1028.8 172.4,1029.3 173.8,1029.5 175.1,1029.4 176.5,1029.1 177.9,1028.8 179.2,1028.7 180.6,1028.6 181.9,1028.4 183.3,1028.4 184.7,1028.5 186.0,1028.6 187.4,1028.5 188.7,1028.3 190.1,1028.1 191.5,1028.0 192.8,1027.9 194.2,1028.0 195.5,1027.9 196.9,1027.7 198.3,1027.7 199.6,1028.1 201.0,1028.4 202.3,1028.6 203.7,1028.7 205.1,1029.1 206.4,1029.5 207.8,1029.3 209.1,1028.9 210.5,1028.5 211.9,1028.4 213.2,1028.3 214.6,1028.2 215.9,1028.3 217.3,1028.3 218.7,1028.2 220.0,1028.1 221.4,1028.1 222.7,1028.3 224.1,1028.5 225.5,1028.4 226.8,1028.0 228.2,1027.8 229.5,1027.8 230.9,1028.0 232.3,1028.1 233.6,1028.4 235.0,1028.6 236.3,1028.7 237.7,1028.8 239.1,1028.9 240.4,1028.7 241.8,1028.3 243.1,1028.0 244.5,1028.2 245.9,1028.9 247.2,1029.6 248.6,1030.0 249.9,1029.8 251.3,1029.2 252.7,1028.8 254.0,1028.8 255.4,1029.1 256.7,1029.2 258.1,1029.0 259.5,1028.6 260.8,1028.6 262.2,1028.8 263.5,1029.0 264.9,1029.0 266.3,1028.9 267.6,1028.7 269.0,1028.3 270.3,1028.1 271.7,1028.1 273.1,1028.5 274.4,1029.3 275.8,1031.1 277.1,1034.5 278.5,1038.6 279.9,1042.1 281.2,1045.6 282.6,1049.4 283.9,1053.5 285.3,1057.9 286.7,1062.5 288.0,1066.8 289.4,1070.7 290.7,1073.9 292.1,1076.1 293.5,1077.6 294.8,1078.9 296.2,1080.1 297.5,1081.1 298.9,1081.7 300.3,1081.9 301.6,1082.2 303.0,1082.3 304.3,1081.8 305.7,1080.6 307.1,1079.3 308.4,1078.3 309.8,1077.3 311.1,1075.7 312.5,1073.5 313.9,1071.3 315.2,1068.6 316.6,1064.5 317.9,1059.5 319.3,1054.4 320.7,1049.4 322.0,1044.7 323.4,1040.8 324.7,1037.7 326.1,1034.5 327.5,1031.2 328.8,1028.0 330.2,1025.0 331.5,1022.1 332.9,1019.3 334.3,1016.5 335.6,1013.6 337.0,1010.8 338.3,1008.4 339.7,1005.9 341.1,1002.8 342.4,999.9 343.8,997.5 345.1,995.1 346.5,992.4 347.9,989.5 349.2,986.6 350.6,983.7 351.9,980.8 353.3,978.4 354.7,976.2 356.0,974.1 357.4,971.8 358.7,969.5 360.1,967.2 361.5,964.9 362.8,962.4 364.2,960.0 365.5,958.0 366.9,956.4 368.3,954.9 369.6,953.5 371.0,952.2 372.3,950.9 373.7,949.7 375.1,948.4 376.4,947.2 377.8,946.5 379.1,945.8 380.5,944.6 381.9,943.3 383.2,942.2 384.6,941.0 385.9,939.4 387.3,938.0 388.7,936.9 390.0,935.9 391.4,934.8 392.7,933.5 394.1,932.1 395.5,930.7 396.8,929.4 398.2,928.4 399.5,927.7 400.9,927.2 402.3,926.7 403.6,926.2 405.0,925.4 406.3,924.3 407.7,923.4 409.1,922.5 410.4,921.4 411.8,920.3 413.1,919.0 414.5,917.7 415.9,916.4 417.2,915.2 418.6,913.8 419.9,912.0 421.3,910.2 422.7,908.5 424.0,906.5 425.4,904.6 426.7,902.9 428.1,900.8 429.5,898.4 430.8,895.7 432.2,892.9 433.5,890.3 434.9,887.9 436.3,885.3 437.6,882.7 439.0,880.0 440.3,877.5 441.7,874.3 443.1,869.8 444.4,864.4 445.8,859.0 447.1,853.7 448.5,848.2 449.9,842.5 451.2,836.9 452.6,831.1 453.9,825.4 455.3,820.0 456.7,815.3 458.0,810.7 459.4,806.3 460.7,801.8 462.1,796.6 463.5,790.9 464.8,785.1 466.2,779.9 467.5,775.5 468.9,771.6 470.3,767.3 471.6,762.8 473.0,758.3 474.3,753.7 475.7,748.9 477.1,744.4 478.4,740.5 479.8,737.0 481.1,733.7 482.5,730.4 483.9,727.5 485.2,725.0 486.6,722.7 487.9,720.3 489.3,717.7 490.7,714.8 492.0,711.6 493.4,708.6 494.7,706.2 496.1,704.0 497.5,701.5 498.8,698.8 500.2,696.2 501.5,694.2 502.9,692.5 504.3,691.0 505.6,689.8 507.0,688.6 508.3,686.8 509.7,684.7 511.1,683.0 512.4,682.2 513.8,681.8 515.1,681.3 516.5,680.5 517.9,679.6 519.2,678.9 520.6,678.5 521.9,678.6 523.3,678.5 524.7,678.0 526.0,677.1 527.4,676.2 528.7,675.2 530.1,673.7 531.5,671.9 532.8,670.4 534.2,669.5 535.5,668.6 536.9,667.9 538.3,667.6 539.6,667.5 541.0,667.5 542.3,667.8 543.7,668.6 545.1,670.0 546.4,671.6 547.8,673.4 549.1,675.1 550.5,676.7 551.9,678.8 553.2,681.5 554.6,684.4 555.9,686.8 557.3,688.8 558.7,690.3 560.0,691.5 561.4,692.2 562.7,691.9 564.1,691.3 565.5,690.9 566.8,690.7 568.2,690.6 569.5,690.8 570.9,690.9 572.3,690.9 573.6,690.8 575.0,690.3 576.3,689.7 577.7,689.4 579.1,689.4 580.4,689.7 581.8,691.2 583.1,693.7 584.5,696.5 585.9,699.7 587.2,703.5 588.6,708.1 589.9,713.5 591.3,719.4 592.7,725.5 594.0,731.9 595.4,736.9 596.7,734.9 598.1,726.8 599.5,722.8 600.8,720.1 602.2,717.6 603.5,714.8 604.9,712.3 606.3,711.8 607.6,715.0 609.0,715.9 610.3,715.4 611.7,714.7 613.1,713.8 614.4,711.9 615.8,707.9 617.1,704.0 618.5,701.0 619.9,699.0 621.2,701.1 622.6,707.0 623.9,717.5 625.3,724.6 626.7,724.3 628.0,723.3 629.4,723.3 630.7,723.6 632.1,724.2 633.5,725.4 634.8,727.3 636.2,729.7 637.5,732.5 638.9,735.1 640.3,737.0 641.6,738.2 643.0,739.3 644.3,740.7 645.7,742.3 647.1,744.3 648.4,746.4 649.8,748.6 651.1,751.3 652.5,754.1 653.9,756.6 655.2,759.0 656.6,761.4 657.9,763.5 659.3,765.7 660.7,768.3 662.0,771.4 663.4,774.4 664.7,776.7 666.1,778.5 667.5,780.2 668.8,782.2 670.2,784.4 671.5,786.8 672.9,789.3 674.3,792.0 675.6,794.7 677.0,797.0 678.3,799.0 679.7,800.7 681.1,802.7 682.4,805.3 683.8,807.9 685.1,810.2 686.5,812.1 687.9,813.9 689.2,815.8 690.6,817.5 691.9,818.9 693.3,820.1 694.7,821.3 696.0,822.5 697.4,824.0 698.7,826.0 700.1,828.4 701.5,830.9 702.8,833.1 704.2,835.3 705.5,837.3 706.9,839.2 708.3,841.1 709.6,842.8 711.0,844.1 712.3,844.7 713.7,845.3 715.1,846.5 716.4,848.0 717.8,849.4 719.1,850.5 720.5,851.4 721.9,852.5 723.2,853.9 724.6,855.3 725.9,856.4 727.3,857.2 728.7,857.7 730.0,858.3 731.4,859.2 732.7,860.4 734.1,861.9 735.5,863.5 736.8,864.6 738.2,865.1 739.5,865.5 740.9,866.3 742.3,867.5 743.6,868.8 745.0,869.7 746.3,870.1 747.7,870.3 749.1,870.7 750.4,871.7 751.8,873.0 753.1,874.5 754.5,875.7 755.9,876.8 757.2,878.2 758.6,879.4 759.9,880.2 761.3,881.1 762.7,882.2 764.0,883.5 765.4,885.0 766.7,886.5 768.1,887.6 769.5,888.4 770.8,889.4 772.2,890.6 773.5,891.9 774.9,893.1 776.3,894.3 777.6,895.6 779.0,896.7 780.3,897.7 781.7,898.9 783.1,900.3 784.4,901.6 785.8,903.0 787.1,904.1 788.5,905.1 789.9,905.9 791.2,906.7 792.6,907.8 793.9,909.0 795.3,910.3 796.7,911.5 798.0,912.7 799.4,914.0 800.7,915.2 802.1,916.4 803.5,917.7 804.8,918.8 806.2,919.8 807.5,920.8 808.9,921.6 810.3,922.5 811.6,923.3 813.0,923.9 814.3,924.5 815.7,925.1 817.1,925.8 818.4,926.6 819.8,927.7 821.1,928.5 822.5,928.8 823.9,929.1 825.2,929.5 826.6,929.9 827.9,930.3 829.3,930.9 830.7,931.8 832.0,932.6 833.4,933.3 834.7,933.7 836.1,933.9 837.5,933.8 838.8,933.9 840.2,934.3 841.5,934.7 842.9,935.1 844.3,935.6 845.6,936.4 847.0,937.3 848.3,937.8 849.7,937.9 851.1,938.0 852.4,938.5 853.8,939.1 855.1,939.5 856.5,939.8 857.9,940.1 859.2,940.5 860.6,941.1 861.9,941.8 863.3,942.6 864.7,943.5 866.0,944.4 867.4,945.2 868.7,945.7 870.1,946.2 871.5,946.6 872.8,947.1 874.2,947.8 875.5,948.4 876.9,948.9 878.3,949.2 879.6,949.3 881.0,949.7 882.3,950.3 883.7,950.8 885.1,951.0 886.4,951.4 887.8,952.3 889.1,953.2 890.5,953.8 891.9,954.2 893.2,954.5 894.6,955.0 895.9,955.9 897.3,957.0 898.7,957.9 900.0,958.5 901.4,959.0 902.7,959.5 904.1,960.3 905.5,961.3 906.8,962.2 908.2,962.6 909.5,962.7 910.9,963.0 912.3,963.6 913.6,964.2 915.0,964.6 916.3,965.1 917.7,965.9 919.1,966.8 920.4,967.4 921.8,967.8 923.1,968.3 924.5,968.9 925.9,969.2 927.2,969.8 928.6,970.5 929.9,971.0 931.3,970.9 932.7,971.2 934.0,971.9 935.4,972.3 936.7,972.2 938.1,972.3 939.5,972.8 940.8,973.5 942.2,973.8 943.5,973.8 944.9,973.9 946.3,974.4 947.6,975.0 949.0,975.0 950.3,974.7 951.7,975.0 953.1,975.5 954.4,975.7 955.8,975.7 957.1,976.0 958.5,976.4 959.9,976.7 961.2,976.9 962.6,977.2 963.9,977.5 965.3,977.7 966.7,977.9 968.0,978.2 969.4,978.8 970.7,979.2 972.1,979.3 973.5,979.3 974.8,979.4 976.2,979.7 977.5,980.0 978.9,980.3 980.3,980.5 981.6,980.4 983.0,980.1 984.3,980.1 985.7,980.5 987.1,980.8 988.4,980.8 989.8,980.9 991.1,981.5 992.5,982.7 993.9,983.7 995.2,984.1 996.6,984.3 997.9,984.5 999.3,984.7 1000.7,984.9 1002.0,984.8 1003.4,984.5 1004.7,984.1 1006.1,983.9 1007.5,984.0 1008.8,984.5 1010.2,985.3 1011.5,986.0 1012.9,986.4 1014.3,986.4 1015.6,986.4 1017.0,986.6 1018.3,987.0 1019.7,987.3 1021.1,987.5 1022.4,987.7 1023.8,988.0 1025.1,988.6 1026.5,989.3 1027.9,990.0 1029.2,990.3 1030.6,990.1 1031.9,989.7 1033.3,989.5 1034.7,989.8 1036.0,990.1 1037.4,990.4 1038.7,991.0 1040.1,991.5 1041.5,991.5 1042.8,991.6 1044.2,991.7 1045.5,991.9 1046.9,992.2 1048.3,992.8 1049.6,993.4 1051.0,993.6 1052.3,993.4 1053.7,993.1 1055.1,993.0 1056.4,993.2 1057.8,993.4 1059.1,993.7 1060.5,994.1 1061.9,994.5 1063.2,994.2 1064.6,993.5 1065.9,993.2 1067.3,993.5 1068.7,994.2 1070.0,994.7 1071.4,994.5 1072.7,994.0 1074.1,993.9 1075.5,994.0 1076.8,994.2 1078.2,994.4 1079.5,994.6 1080.9,994.7 1082.3,994.4 1083.6,993.9 1085.0,993.7 1086.3,994.0 1087.7,994.5 1089.1,994.6 1090.4,994.6 1091.8,994.8 1093.1,995.0 1094.5,995.1 1095.9,994.9 1097.2,994.7 1098.6,994.6 1099.9,994.6 1101.3,994.5 1102.7,994.6 1104.0,995.2 1105.4,995.8 1106.7,996.2 1108.1,996.1 1109.5,995.7 1110.8,995.2 1112.2,995.0 1113.5,995.5 1114.9,996.1 1116.3,996.4 1117.6,996.5 1119.0,996.3 1120.3,996.1 1121.7,996.1 1123.1,996.2 1124.4,996.4 1125.8,996.5 1127.1,996.4 1128.5,996.1 1129.9,995.8 1131.2,995.7 1132.6,995.8 1133.9,995.8 1135.3,995.9 1136.7,996.4 1138.0,996.8 1139.4,996.6 1140.7,996.4 1142.1,996.6 1143.5,997.0 1144.8,997.1 1146.2,997.1 1147.5,997.2 1148.9,997.6 1150.3,997.9 1151.6,997.6 1153.0,997.0 1154.3,996.9 1155.7,997.2 1157.1,997.5 1158.4,997.6 1159.8,997.4 1161.1,997.2 1162.5,997.3 1163.9,997.4 1165.2,997.3 1166.6,997.2 1167.9,997.3 1169.3,997.6 1170.7,997.8 1172.0,998.0 1173.4,998.3 1174.7,998.4 1176.1,998.4 1177.5,998.4 1178.8,998.6 1180.2,998.5 1181.5,998.3 1182.9,998.2 1184.3,998.5 1185.6,999.0 1187.0,999.4 1188.3,999.6 1189.7,999.7 1191.1,1000.1 1192.4,1000.7 1193.8,1000.8 1195.1,1000.3 1196.5,999.7 1197.9,999.7 1199.2,1000.0 1200.6,1000.1 1201.9,1000.0 1203.3,1000.0 1204.7,1000.0 1206.0,1000.3 1207.4,1000.5 1208.7,1000.4 1210.1,1000.4 1211.5,1000.4 1212.8,1000.7 1214.2,1001.1 1215.5,1001.5 1216.9,1001.5 1218.3,1001.1 1219.6,1000.5 1221.0,1000.1 1222.3,1000.3 1223.7,1000.5 1225.1,1000.5 1226.4,1000.3 1227.8,1000.2 1229.1,1000.6 1230.5,1001.1 1231.9,1001.3 1233.2,1001.1 1234.6,1001.0 1235.9,1001.3 1237.3,1001.6 1238.7,1001.7 1240.0,1001.6 1241.4,1001.5 1242.7,1001.8 1244.1,1001.9 1245.5,1001.8 1246.8,1001.8 1248.2,1002.0 1249.5,1001.8 1250.9,1001.4 1252.3,1001.3 1253.6,1001.9 1255.0,1002.7 1256.3,1003.3 1257.7,1003.3 1259.1,1002.7 1260.4,1002.0 1261.8,1001.6 1263.1,1001.4 1264.5,1001.2 1265.9,1001.0 1267.2,1001.1 1268.6,1001.8 1269.9,1002.8 1271.3,1003.4 1272.7,1003.3 1274.0,1002.8 1275.4,1002.3 1276.7,1002.0 1278.1,1001.8 1279.5,1002.2 1280.8,1002.8 1282.2,1003.0 1283.5,1002.9 1284.9,1003.1 1286.3,1003.5 1287.6,1003.6 1289.0,1003.3 1290.3,1003.0 1291.7,1003.1 1293.1,1003.4 1294.4,1003.5 1295.8,1003.3 1297.1,1003.4 1298.5,1003.7 1299.9,1004.0 1301.2,1004.3 1302.6,1004.7 1303.9,1005.1 1305.3,1005.3 1306.7,1005.1 1308.0,1004.6 1309.4,1004.2 1310.7,1004.4 1312.1,1005.1 1313.5,1005.8 1314.8,1006.3 1316.2,1006.2 1317.5,1005.9 1318.9,1005.6 1320.3,1005.4 1321.6,1005.2 1323.0,1004.9 1324.3,1004.9 1325.7,1004.9 1327.1,1005.0 1328.4,1005.0 1329.8,1005.0 1331.1,1005.2 1332.5,1005.3 1333.9,1005.2 1335.2,1005.1 1336.6,1005.3 1337.9,1005.6 1339.3,1005.6 1340.7,1005.4 1342.0,1005.1 1343.4,1005.0 1344.7,1005.4 1346.1,1005.8 1347.5,1005.8 1348.8,1005.8 1350.2,1005.7 1351.5,1005.7 1352.9,1006.0 1354.3,1006.5 1355.6,1006.8 1357.0,1006.7 1358.3,1006.6 1359.7,1006.3 1361.1,1005.8 1362.4,1005.8 1363.8,1006.2 1365.1,1006.8 1366.5,1007.1 1367.9,1007.1 1369.2,1006.6 1370.6,1005.9 1371.9,1005.7 1373.3,1006.1 1374.7,1006.6 1376.0,1007.0 1377.4,1007.2 1378.7,1007.5 1380.1,1008.1 1381.5,1008.3 1382.8,1007.9 1384.2,1007.3 1385.5,1007.0 1386.9,1007.0 1388.3,1007.1 1389.6,1007.3 1391.0,1007.7 1392.3,1008.0 1393.7,1008.1 1395.1,1008.2 1396.4,1008.1 1397.8,1007.6 1399.1,1007.1 1400.5,1007.3 1401.9,1007.9 1403.2,1008.3 1404.6,1008.3 1405.9,1008.2 1407.3,1008.2 1408.7,1008.3 1410.0,1008.2 1411.4,1008.1 1412.7,1008.2 1414.1,1008.3 1415.5,1008.1 1416.8,1008.1 1418.2,1008.4 1419.5,1008.7 1420.9,1009.1 1422.3,1009.6 1423.6,1009.8 1425.0,1009.6 1426.3,1009.2 1427.7,1008.9 1429.1,1009.2 1430.4,1009.7 1431.8,1010.1 1433.1,1009.8 1434.5,1009.3 1435.9,1009.2 1437.2,1009.5 1438.6,1009.8 1439.9,1009.8 1441.3,1009.9 1442.7,1009.9 1444.0,1009.7 1445.4,1009.6 1446.7,1009.6 1448.1,1009.8 1449.5,1010.2 1450.8,1010.5 1452.2,1010.4 1453.5,1009.8 1454.9,1009.5 1456.3,1009.7 1457.6,1009.9 1459.0,1009.7 1460.3,1009.4 1461.7,1009.3 1463.1,1009.6 1464.4,1010.2 1465.8,1010.7 1467.1,1010.8 1468.5,1010.6 1469.9,1010.6 1471.2,1010.6 1472.6,1010.7 1473.9,1011.1 1475.3,1011.5 1476.7,1011.5 1478.0,1011.2 1479.4,1010.7 1480.7,1010.3 1482.1,1010.3 1483.5,1011.0 1484.8,1011.9 1486.2,1012.4 1487.5,1012.3 1488.9,1011.8 1490.3,1011.3 1491.6,1011.0 1493.0,1011.1 1494.3,1011.2 1495.7,1011.2 1497.1,1011.0 1498.4,1010.5 1499.8,1010.0 1501.1,1009.9 1502.5,1010.1 1503.9,1010.7 1505.2,1011.4 1506.6,1011.9 1507.9,1012.3 1509.3,1012.6 1510.7,1012.7 1512.0,1012.6 1513.4,1012.6 1514.7,1012.5 1516.1,1012.3 1517.5,1011.9 1518.8,1011.6 1520.2,1011.7 1521.5,1012.1 1522.9,1012.4 1524.3,1012.6 1525.6,1012.9 1527.0,1013.5 1528.3,1013.8 1529.7,1013.9 1531.1,1013.6 1532.4,1013.2 1533.8,1013.0 1535.1,1013.0 1536.5,1013.1 1537.9,1013.4 1539.2,1013.6 1540.6,1013.6 1541.9,1013.6 1543.3,1014.0 1544.7,1014.5 1546.0,1014.6 1547.4,1014.3 1548.7,1013.9 1550.1,1013.6 1551.5,1013.8 1552.8,1014.2 1554.2,1014.6 1555.5,1014.6 1556.9,1014.6 1558.3,1014.5 1559.6,1014.6 1561.0,1014.9 1562.3,1015.0 1563.7,1014.6 1565.1,1014.4 1566.4,1014.6 1567.8,1015.2 1569.1,1015.6 1570.5,1015.5 1571.9,1015.0 1573.2,1014.6 1574.6,1014.5 1575.9,1014.8 1577.3,1015.3 1578.7,1015.5 1580.0,1015.5 1581.4,1015.4 1582.7,1015.5 1584.1,1015.5 1585.5,1015.2 1586.8,1014.9 1588.2,1015.1 1589.5,1015.3 1590.9,1015.6 1592.3,1016.0 1593.6,1016.1 1595.0,1016.3 1596.3,1016.6 1597.7,1017.0 1599.1,1017.0 1600.4,1016.5 1601.8,1016.2 1603.1,1016.2 1604.5,1016.5 1605.9,1016.6 1607.2,1016.5 1608.6,1016.2 1609.9,1016.0 1611.3,1015.9 1612.7,1016.4 1614.0,1017.1 1615.4,1017.3 1616.7,1017.2 1618.1,1017.0 1619.5,1016.8 1620.8,1016.8 1622.2,1017.3 1623.5,1017.8 1624.9,1017.8 1626.3,1017.6 1627.6,1017.5 1629.0,1017.5 1630.3,1017.7 1631.7,1017.9 1633.1,1018.0 1634.4,1017.9 1635.8,1017.9 1637.1,1018.0 1638.5,1018.4 1639.9,1018.6 1641.2,1018.3 1642.6,1017.7 1643.9,1017.4 1645.3,1017.7 1646.7,1017.8 1648.0,1017.4 1649.4,1017.0 1650.7,1017.3 1652.1,1017.7 1653.5,1017.9 1654.8,1018.2 1656.2,1018.6 1657.5,1018.9 1658.9,1018.8 1660.3,1018.7 1661.6,1019.0 1663.0,1019.4 1664.3,1019.3 1665.7,1018.7 1667.1,1018.3 1668.4,1018.3 1669.8,1018.7 1671.1,1019.0 1672.5,1019.3 1673.9,1019.5 1675.2,1019.6 1676.6,1019.6 1677.9,1019.4 1679.3,1019.3 1680.7,1019.5 1682.0,1019.7 1683.4,1019.5 1684.7,1019.4 1686.1,1019.5 1687.5,1019.3 1688.8,1019.0 1690.2,1019.2 1691.5,1019.8 1692.9,1020.4 1694.3,1020.7 1695.6,1020.5 1697.0,1020.1 1698.3,1019.8 1699.7,1019.6 1701.1,1019.8 1702.4,1020.2 1703.8,1020.5 1705.1,1020.5 1706.5,1020.4 1707.9,1020.2 1709.2,1019.9 1710.6,1019.6 1711.9,1019.5 1713.3,1019.6 1714.7,1020.0 1716.0,1020.3 1717.4,1020.5 1718.7,1020.5 1720.1,1020.3 1721.5,1020.1 1722.8,1019.9 1724.2,1019.9 1725.5,1020.0 1726.9,1020.2 1728.3,1020.3 1729.6,1020.1 1731.0,1019.8 1732.3,1019.8 1733.7,1020.4 1735.1,1021.0 1736.4,1021.6 1737.8,1021.9 1739.1,1021.9 1740.5,1021.6 1741.9,1021.0 1743.2,1020.5 1744.6,1020.5 1745.9,1020.8 1747.3,1021.2 1748.7,1021.4 1750.0,1021.4 1751.4,1021.5 1752.7,1021.7 1754.1,1021.8 1755.5,1021.7 1756.8,1021.5 1758.2,1021.2 1759.5,1021.3 1760.9,1021.5 1762.3,1021.8 1763.6,1021.9 1765.0,1022.1 1766.3,1022.3 1767.7,1022.0 1769.1,1021.7 1770.4,1021.6 1771.8,1021.8 1773.1,1022.3 1774.5,1022.9 1775.9,1023.1 1777.2,1023.0 1778.6,1022.8 1779.9,1022.7 1781.3,1022.5 1782.7,1022.3 1784.0,1022.3 1785.4,1022.5 1786.7,1022.7 1788.1,1022.7 1789.5,1022.4 1790.8,1022.5 1792.2,1023.2 1793.5,1023.8 1794.9,1023.6 1796.3,1022.8 1797.6,1022.4 1799.0,1022.3 1800.3,1022.4 1801.7,1022.7 1803.1,1023.0 1804.4,1023.2 1805.8,1022.9 1807.1,1022.5 1808.5,1022.2 1809.9,1022.0 1811.2,1022.0 1812.6,1022.2 1813.9,1022.7 1815.3,1023.0 1816.7,1023.2 1818.0,1023.8 1819.4,1024.2 1820.7,1024.1 1822.1,1023.7 1823.5,1023.2 1824.8,1023.1 1826.2,1023.4 1827.5,1024.0 1828.9,1024.5 1830.3,1024.9 1831.6,1024.7 1833.0,1024.3 1834.3,1023.8 1835.7,1023.1 1837.1,1022.7 1838.4,1022.9 1839.8,1023.3 1841.1,1023.8 1842.5,1024.3 1843.9,1024.8 1845.2,1024.9 1846.6,1024.6 1847.9,1024.3 1849.3,1024.2 1850.7,1024.0 1852.0,1023.9 1853.4,1024.1 1854.7,1024.4 1856.1,1024.8 1857.5,1024.9 1858.8,1024.7 1860.2,1024.2 1861.5,1023.9 1862.9,1023.8 1864.3,1024.0 1865.6,1024.2 1867.0,1024.5 1868.3,1024.7 1869.7,1024.6 1871.1,1024.3 1872.4,1024.3 1873.8,1024.7 1875.1,1025.1 1876.5,1025.3 1877.9,1025.4 1879.2,1025.5 1880.6,1025.6 1881.9,1025.5 1883.3,1025.0 1884.7,1024.7 1886.0,1024.6 1887.4,1024.6 1888.7,1024.7 1890.1,1024.8 1891.5,1025.0 1892.8,1024.9 1894.2,1024.5 1895.5,1024.4 1896.9,1024.7 1898.3,1024.9 1899.6,1025.0 1901.0,1025.0 1902.3,1025.1 1903.7,1025.3 1905.1,1025.3 1906.4,1025.0 1907.8,1024.7 1909.1,1024.7 1910.5,1025.0 1911.9,1025.2 1913.2,1025.2 1914.6,1024.7 1915.9,1024.0 1917.3,1023.6 1918.7,1023.8 1920.0,1024.4 1921.4,1024.9 1922.7,1025.2 1924.1,1025.4 1925.5,1025.3 1926.8,1024.9 1928.2,1024.7 1929.5,1024.9 1930.9,1025.1 1932.3,1025.1 1933.6,1025.4 1935.0,1025.8 1936.3,1025.8 1937.7,1025.7 1939.1,1025.8 1940.4,1026.1 1941.8,1026.1 1943.1,1026.0 1944.5,1026.1 1945.9,1026.4 1947.2,1026.6 1948.6,1026.4 1949.9,1025.8 1951.3,1025.7 1952.7,1026.1 1954.0,1026.7 1955.4,1026.9 1956.7,1026.9 1958.1,1026.8 1959.5,1026.4 1960.8,1026.1 1962.2,1026.0 1963.5,1026.1 1964.9,1026.3 1966.3,1026.2 1967.6,1025.8 1969.0,1025.4 1970.3,1025.3 1971.7,1025.6 1973.1,1025.9 1974.4,1025.9 1975.8,1025.9 1977.1,1026.2 1978.5,1026.6" stroke="#1a981a"/>
<path d="M74.5,1028.7 75.9,1028.7 77.2,1028.6 78.6,1028.3 79.9,1028.2 81.3,1028.5 82.7,1028.6 84.0,1028.2 85.4,1027.4 86.7,1026.8 88.1,1027.0 89.5,1027.7 90.8,1028.5 92.2,1028.8 93.5,1028.8 94.9,1028.8 96.3,1028.8 97.6,1028.7 99.0,1028.4 100.3,1028.0 101.7,1027.8 103.1,1028.1 104.4,1028.5 105.8,1028.5 107.1,1028.3 108.5,1028.2 109.9,1028.4 111.2,1028.4 112.6,1028.0 113.9,1027.2 115.3,1026.7 116.7,1026.6 118.0,1026.9 119.4,1027.4 120.7,1028.1 122.1,1028.3 123.5,1028.3 124.8,1028.4 126.2,1028.5 127.5,1028.4 128.9,1028.0 130.3,1027.5 131.6,1027.2 133.0,1027.3 134.3,1027.6 135.7,1027.8 137.1,1027.7 138.4,1027.6 139.8,1027.8 141.1,1028.1 142.5,1028.4 143.9,1028.4 145.2,1028.0 146.6,1027.8 147.9,1027.8 149.3,1028.0 150.7,1028.3 152.0,1028.8 153.4,1029.0 154.7,1028.9 156.1,1028.8 157.5,1028.7 158.8,1028.3 160.2,1027.9 161.5,1028.0 162.9,1028.4 164.3,1028.6 165.6,1028.7 167.0,1028.9 168.3,1029.0 169.7,1028.8 171.1,1028.4 172.4,1028.3 173.8,1028.5 175.1,1028.6 176.5,1028.3 177.9,1027.9 179.2,1027.6 180.6,1027.6 181.9,1027.8 183.3,1028.0 184.7,1028.1 186.0,1027.9 187.4,1027.7 188.7,1027.7 190.1,1027.9 191.5,1028.2 192.8,1028.3 194.2,1028.2 195.5,1028.0 196.9,1027.7 198.3,1027.6 199.6,1027.8 201.0,1028.1 202.3,1028.5 203.7,1028.7 205.1,1028.7 206.4,1028.9 207.8,1029.0 209.1,1029.0 210.5,1028.9 211.9,1028.6 213.2,1028.5 214.6,1028.5 215.9,1028.6 217.3,1028.9 218.7,1029.1 220.0,1028.8 221.4,1028.3 222.7,1028.0 224.1,1028.1 225.5,1028.5 226.8,1028.7 228.2,1028.6 229.5,1028.5 230.9,1028.5 232.3,1028.6 233.6,1029.0 235.0,1029.4 236.3,1029.6 237.7,1029.2 239.1,1028.7 240.4,1028.4 241.8,1028.5 243.1,1028.5 244.5,1028.4 245.9,1028.3 247.2,1028.4 248.6,1028.6 249.9,1028.9 251.3,1028.9 252.7,1028.4 254.0,1027.7 255.4,1027.2 256.7,1027.3 258.1,1027.8 259.5,1028.3 260.8,1028.5 262.2,1028.3 263.5,1028.1 264.9,1027.7 266.3,1027.4 267.6,1027.6 269.0,1028.1 270.3,1028.7 271.7,1029.1 273.1,1029.7 274.4,1030.6 275.8,1031.9 277.1,1034.8 278.5,1038.5 279.9,1042.2 281.2,1046.4 282.6,1050.9 283.9,1055.4 285.3,1059.6 286.7,1063.3 288.0,1066.5 289.4,1069.0 290.7,1070.9 292.1,1072.2 293.5,1073.3 294.8,1074.0 296.2,1074.2 297.5,1073.8 298.9,1072.7 300.3,1071.2 301.6,1069.3 303.0,1067.2 304.3,1064.8 305.7,1061.9 307.1,1056.5 308.4,1050.0 309.8,1043.9 311.1,1039.9 312.5,1037.3 313.9,1034.6 315.2,1031.7 316.6,1028.8 317.9,1025.9 319.3,1023.1 320.7,1020.5 322.0,1018.2 323.4,1015.7 324.7,1013.1 326.1,1010.5 327.5,1007.7 328.8,1004.8 330.2,1002.0 331.5,999.4 332.9,997.0 334.3,994.7 335.6,992.2 337.0,989.3 338.3,986.2 339.7,983.1 341.1,980.2 342.4,977.6 343.8,974.8 345.1,971.6 346.5,968.3 347.9,965.4 349.2,962.7 350.6,959.7 351.9,956.2 353.3,952.7 354.7,949.3 356.0,946.3 357.4,943.4 358.7,940.6 360.1,937.6 361.5,934.5 362.8,931.4 364.2,928.5 365.5,926.0 366.9,923.8 368.3,921.5 369.6,919.3 371.0,917.5 372.3,916.3 373.7,915.2 375.1,913.5 376.4,911.4 377.8,909.4 379.1,908.0 380.5,906.9 381.9,905.8 383.2,904.6 384.6,903.5 385.9,902.5 387.3,901.2 388.7,899.6 390.0,898.2 391.4,897.2 392.7,896.3 394.1,895.3 395.5,893.9 396.8,892.3 398.2,890.9 399.5,889.7 400.9,888.8 402.3,888.0 403.6,887.0 405.0,885.7 406.3,884.2 407.7,882.7 409.1,881.4 410.4,880.1 411.8,878.8 413.1,877.0 414.5,875.0 415.9,873.1 417.2,871.1 418.6,869.4 419.9,867.9 421.3,866.2 422.7,864.2 424.0,862.0 425.4,859.8 426.7,857.9 428.1,856.2 429.5,854.4 430.8,851.6 432.2,848.0 433.5,844.2 434.9,840.6 436.3,837.3 437.6,833.7 439.0,829.6 440.3,825.0 441.7,819.8 443.1,813.9 444.4,807.7 445.8,801.1 447.1,794.3 448.5,787.4 449.9,780.7 451.2,773.9 452.6,766.7 453.9,759.0 455.3,750.8 456.7,742.4 458.0,733.8 459.4,725.1 460.7,716.6 462.1,709.2 463.5,702.6 464.8,696.4 466.2,690.5 467.5,684.7 468.9,678.8 470.3,672.6 471.6,666.4 473.0,660.9 474.3,655.7 475.7,650.2 477.1,644.1 478.4,637.6 479.8,631.4 481.1,625.8 482.5,620.7 483.9,615.4 485.2,609.8 486.6,604.2 487.9,598.8 489.3,593.9 490.7,589.7 492.0,586.1 493.4,582.2 494.7,577.9 496.1,573.4 497.5,568.8 498.8,564.3 500.2,560.3 501.5,557.1 502.9,554.3 504.3,551.7 505.6,548.8 507.0,545.9 508.3,543.4 509.7,541.2 511.1,538.9 512.4,536.2 513.8,533.9 515.1,532.4 516.5,531.3 517.9,530.4 519.2,529.9 520.6,529.7 521.9,529.4 523.3,528.6 524.7,527.3 526.0,525.5 527.4,523.5 528.7,521.5 530.1,519.9 531.5,518.7 532.8,517.4 534.2,515.6 535.5,513.6 536.9,511.9 538.3,510.8 539.6,510.6 541.0,511.0 542.3,511.5 543.7,512.3 545.1,513.8 546.4,515.5 547.8,517.4 549.1,519.5 550.5,521.9 551.9,525.1 553.2,529.3 554.6,532.9 555.9,534.9 557.3,536.2 558.7,537.4 560.0,538.4 561.4,539.0 562.7,539.1 564.1,539.4 565.5,540.2 566.8,540.9 568.2,541.3 569.5,541.5 570.9,541.4 572.3,540.6 573.6,539.5 575.0,538.4 576.3,537.7 577.7,537.0 579.1,536.0 580.4,535.2 581.8,535.5 583.1,539.2 584.5,544.5 585.9,550.1 587.2,556.4 588.6,563.5 589.9,571.6 591.3,579.5 592.7,586.8 594.0,592.9 595.4,594.6 596.7,590.0 598.1,583.0 599.5,578.0 600.8,573.9 602.2,570.7 603.5,568.2 604.9,566.0 606.3,564.4 607.6,563.8 609.0,563.9 610.3,564.1 611.7,563.2 613.1,560.9 614.4,557.9 615.8,554.0 617.1,546.0 618.5,539.3 619.9,535.5 621.2,538.6 622.6,548.1 623.9,558.5 625.3,568.8 626.7,570.2 628.0,570.4 629.4,570.6 630.7,570.8 632.1,570.8 633.5,571.0 634.8,572.3 636.2,576.4 637.5,580.6 638.9,583.5 640.3,586.0 641.6,588.4 643.0,591.1 644.3,593.7 645.7,596.0 647.1,598.4 648.4,601.1 649.8,603.6 651.1,606.1 652.5,608.8 653.9,611.6 655.2,614.7 656.6,618.3 657.9,622.1 659.3,626.0 660.7,629.9 662.0,633.8 663.4,637.5 664.7,641.1 666.1,644.4 667.5,647.3 668.8,650.2 670.2,653.6 671.5,657.5 672.9,661.4 674.3,664.7 675.6,667.7 677.0,670.8 678.3,673.9 679.7,677.2 681.1,680.5 682.4,683.7 683.8,686.7 685.1,689.5 686.5,692.2 687.9,695.0 689.2,698.4 690.6,702.1 691.9,705.2 693.3,707.4 694.7,709.2 696.0,711.3 697.4,713.7 698.7,716.2 700.1,718.9 701.5,721.9 702.8,725.0 704.2,728.2 705.5,730.9 706.9,733.1 708.3,735.3 709.6,737.9 711.0,740.9 712.3,744.0 713.7,746.5 715.1,747.9 716.4,748.5 717.8,748.9 719.1,749.6 720.5,750.9 721.9,753.0 723.2,755.4 724.6,757.2 725.9,758.7 727.3,760.1 728.7,761.6 730.0,762.5 731.4,763.1 732.7,764.0 734.1,765.3 735.5,766.6 736.8,767.7 738.2,769.0 739.5,770.6 740.9,772.2 742.3,773.3 743.6,774.2 745.0,775.4 746.3,776.8 747.7,778.0 749.1,778.9 750.4,779.8 751.8,780.8 753.1,781.9 754.5,783.1 755.9,784.5 757.2,786.1 758.6,788.0 759.9,790.0 761.3,791.9 762.7,793.4 764.0,795.0 765.4,796.4 766.7,797.6 768.1,799.1 769.5,801.0 770.8,802.8 772.2,804.1 773.5,805.0 774.9,806.1 776.3,807.8 777.6,809.5 779.0,811.2 780.3,812.8 781.7,814.8 783.1,817.6 784.4,820.6 785.8,823.3 787.1,825.6 788.5,828.1 789.9,830.8 791.2,833.2 792.6,835.0 793.9,836.5 795.3,838.1 796.7,840.1 798.0,842.3 799.4,844.0 800.7,845.2 802.1,846.5 803.5,847.9 804.8,849.0 806.2,850.1 807.5,851.4 808.9,852.6 810.3,853.7 811.6,854.4 813.0,854.9 814.3,855.5 815.7,856.1 817.1,856.7 818.4,857.7 819.8,858.7 821.1,859.8 822.5,860.9 823.9,861.9 825.2,862.7 826.6,863.7 827.9,864.6 829.3,865.3 830.7,865.8 832.0,866.5 833.4,867.6 834.7,868.7 836.1,869.2 837.5,869.4 838.8,869.8 840.2,870.6 841.5,871.6 842.9,872.6 844.3,873.2 845.6,873.5 847.0,874.0 848.3,874.4 849.7,874.7 851.1,875.1 852.4,875.8 853.8,876.6 855.1,877.4 856.5,878.1 857.9,879.2 859.2,880.3 860.6,881.5 861.9,882.6 863.3,883.6 864.7,884.5 866.0,885.3 867.4,885.9 868.7,886.9 870.1,888.2 871.5,889.5 872.8,890.3 874.2,890.8 875.5,891.7 876.9,892.8 878.3,894.0 879.6,895.5 881.0,897.1 882.3,898.2 883.7,899.1 885.1,900.3 886.4,901.5 887.8,902.3 889.1,903.0 890.5,903.7 891.9,904.4 893.2,905.6 894.6,907.1 895.9,908.4 897.3,909.3 898.7,909.7 900.0,910.2 901.4,911.4 902.7,912.9 904.1,914.1 905.5,915.0 906.8,915.9 908.2,916.8 909.5,917.5 910.9,918.1 912.3,918.5 913.6,919.0 915.0,919.3 916.3,919.7 917.7,920.4 919.1,921.4 920.4,922.5 921.8,923.3 923.1,924.2 924.5,925.2 925.9,926.2 927.2,926.8 928.6,927.2 929.9,927.8 931.3,928.8 932.7,930.0 934.0,930.9 935.4,931.4 936.7,931.8 938.1,932.1 939.5,932.4 940.8,932.9 942.2,933.5 943.5,934.1 944.9,934.6 946.3,935.2 947.6,936.0 949.0,937.0 950.3,937.6 951.7,938.0 953.1,938.2 954.4,938.7 955.8,939.2 957.1,939.8 958.5,940.0 959.9,939.8 961.2,939.3 962.6,938.7 963.9,938.4 965.3,938.9 966.7,939.9 968.0,940.8 969.4,941.4 970.7,942.0 972.1,942.5 973.5,942.9 974.8,943.4 976.2,943.7 977.5,943.8 978.9,943.8 980.3,944.1 981.6,944.4 983.0,944.6 984.3,945.0 985.7,945.7 987.1,946.5 988.4,947.2 989.8,947.5 991.1,947.6 992.5,947.6 993.9,948.1 995.2,948.8 996.6,949.6 997.9,950.1 999.3,950.3 1000.7,950.4 1002.0,950.9 1003.4,951.3 1004.7,951.5 1006.1,951.9 1007.5,952.5 1008.8,953.0 1010.2,953.4 1011.5,953.7 1012.9,954.1 1014.3,954.3 1015.6,954.1 1017.0,953.8 1018.3,954.1 1019.7,954.9 1021.1,955.8 1022.4,956.7 1023.8,957.4 1025.1,957.9 1026.5,958.2 1027.9,958.7 1029.2,959.2 1030.6,959.5 1031.9,960.0 1033.3,960.3 1034.7,960.3 1036.0,960.2 1037.4,960.6 1038.7,961.2 1040.1,961.9 1041.5,962.5 1042.8,962.9 1044.2,963.3 1045.5,963.6 1046.9,964.0 1048.3,964.2 1049.6,964.4 1051.0,964.5 1052.3,964.6 1053.7,964.7 1055.1,964.9 1056.4,965.1 1057.8,965.5 1059.1,966.2 1060.5,966.5 1061.9,966.7 1063.2,966.9 1064.6,967.2 1065.9,967.4 1067.3,967.6 1068.7,967.9 1070.0,968.2 1071.4,968.4 1072.7,968.3 1074.1,968.2 1075.5,968.5 1076.8,969.0 1078.2,969.3 1079.5,969.4 1080.9,969.5 1082.3,969.4 1083.6,969.3 1085.0,969.3 1086.3,969.7 1087.7,970.3 1089.1,970.9 1090.4,971.3 1091.8,971.4 1093.1,971.3 1094.5,970.8 1095.9,970.4 1097.2,970.7 1098.6,971.5 1099.9,971.8 1101.3,971.7 1102.7,971.8 1104.0,972.2 1105.4,972.8 1106.7,973.3 1108.1,973.3 1109.5,972.8 1110.8,972.6 1112.2,972.8 1113.5,973.2 1114.9,973.7 1116.3,974.0 1117.6,974.2 1119.0,974.2 1120.3,974.0 1121.7,973.9 1123.1,974.0 1124.4,974.3 1125.8,974.7 1127.1,974.9 1128.5,974.9 1129.9,974.9 1131.2,974.9 1132.6,974.9 1133.9,975.0 1135.3,974.9 1136.7,974.8 1138.0,974.8 1139.4,974.9 1140.7,974.9 1142.1,974.9 1143.5,974.9 1144.8,975.2 1146.2,975.5 1147.5,975.9 1148.9,976.3 1150.3,976.5 1151.6,976.3 1153.0,976.1 1154.3,976.4 1155.7,976.9 1157.1,977.3 1158.4,977.6 1159.8,977.7 1161.1,977.6 1162.5,977.4 1163.9,977.4 1165.2,977.6 1166.6,978.0 1167.9,978.4 1169.3,978.5 1170.7,978.5 1172.0,978.5 1173.4,978.4 1174.7,978.1 1176.1,978.1 1177.5,978.4 1178.8,978.8 1180.2,979.0 1181.5,979.2 1182.9,979.4 1184.3,979.6 1185.6,979.6 1187.0,979.5 1188.3,979.6 1189.7,980.1 1191.1,980.4 1192.4,980.5 1193.8,980.5 1195.1,980.6 1196.5,980.8 1197.9,981.3 1199.2,981.7 1200.6,981.9 1201.9,982.0 1203.3,981.9 1204.7,982.0 1206.0,982.3 1207.4,982.4 1208.7,982.3 1210.1,982.1 1211.5,982.2 1212.8,982.5 1214.2,982.8 1215.5,983.1 1216.9,983.1 1218.3,982.9 1219.6,983.1 1221.0,983.4 1222.3,983.7 1223.7,983.9 1225.1,983.9 1226.4,983.6 1227.8,983.0 1229.1,982.7 1230.5,983.0 1231.9,983.6 1233.2,984.0 1234.6,984.0 1235.9,983.7 1237.3,983.8 1238.7,984.0 1240.0,984.0 1241.4,984.0 1242.7,983.9 1244.1,984.0 1245.5,984.4 1246.8,984.7 1248.2,984.6 1249.5,984.3 1250.9,984.3 1252.3,984.5 1253.6,985.0 1255.0,985.4 1256.3,985.9 1257.7,986.3 1259.1,986.2 1260.4,985.9 1261.8,985.9 1263.1,986.3 1264.5,986.7 1265.9,986.9 1267.2,986.8 1268.6,986.5 1269.9,986.2 1271.3,986.0 1272.7,985.9 1274.0,986.0 1275.4,986.4 1276.7,986.7 1278.1,986.8 1279.5,986.7 1280.8,986.6 1282.2,986.7 1283.5,986.8 1284.9,986.7 1286.3,986.8 1287.6,987.2 1289.0,987.5 1290.3,988.0 1291.7,988.2 1293.1,988.1 1294.4,987.9 1295.8,988.0 1297.1,988.3 1298.5,988.7 1299.9,989.2 1301.2,989.5 1302.6,989.7 1303.9,989.7 1305.3,989.4 1306.7,989.1 1308.0,989.1 1309.4,989.2 1310.7,989.4 1312.1,989.7 1313.5,989.8 1314.8,989.7 1316.2,989.6 1317.5,989.8 1318.9,989.9 1320.3,989.9 1321.6,989.7 1323.0,989.7 1324.3,989.7 1325.7,989.5 1327.1,989.3 1328.4,989.5 1329.8,990.0 1331.1,990.5 1332.5,990.7 1333.9,991.0 1335.2,991.5 1336.6,992.2 1337.9,992.5 1339.3,992.3 1340.7,991.9 1342.0,991.7 1343.4,991.8 1344.7,991.9 1346.1,991.7 1347.5,991.3 1348.8,991.0 1350.2,990.9 1351.5,991.1 1352.9,991.3 1354.3,991.5 1355.6,991.9 1357.0,992.3 1358.3,992.6 1359.7,992.5 1361.1,992.6 1362.4,992.9 1363.8,993.1 1365.1,993.4 1366.5,993.9 1367.9,994.3 1369.2,994.5 1370.6,994.8 1371.9,995.1 1373.3,995.1 1374.7,994.8 1376.0,994.6 1377.4,994.6 1378.7,994.6 1380.1,994.6 1381.5,994.5 1382.8,994.3 1384.2,994.1 1385.5,994.0 1386.9,994.2 1388.3,995.0 1389.6,996.0 1391.0,996.7 1392.3,996.8 1393.7,996.7 1395.1,996.8 1396.4,996.9 1397.8,996.9 1399.1,996.6 1400.5,996.2 1401.9,995.9 1403.2,995.7 1404.6,995.6 1405.9,995.9 1407.3,996.5 1408.7,996.9 1410.0,997.2 1411.4,997.6 1412.7,997.7 1414.1,997.4 1415.5,997.2 1416.8,997.3 1418.2,997.5 1419.5,997.3 1420.9,997.1 1422.3,997.0 1423.6,997.2 1425.0,997.8 1426.3,998.4 1427.7,998.8 1429.1,998.9 1430.4,998.9 1431.8,998.9 1433.1,998.6 1434.5,998.4 1435.9,998.6 1437.2,999.2 1438.6,999.8 1439.9,1000.0 1441.3,999.6 1442.7,999.2 1444.0,999.1 1445.4,999.6 1446.7,1000.0 1448.1,1000.1 1449.5,999.9 1450.8,1000.0 1452.2,1000.2 1453.5,1000.4 1454.9,1000.6 1456.3,1000.9 1457.6,1001.2 1459.0,1001.5 1460.3,1001.7 1461.7,1001.7 1463.1,1001.6 1464.4,1001.3 1465.8,1001.0 1467.1,1000.7 1468.5,1000.7 1469.9,1000.9 1471.2,1001.3 1472.6,1001.6 1473.9,1001.6 1475.3,1001.1 1476.7,1000.7 1478.0,1000.6 1479.4,1000.8 1480.7,1001.1 1482.1,1001.5 1483.5,1001.9 1484.8,1001.9 1486.2,1001.8 1487.5,1001.6 1488.9,1001.6 1490.3,1001.7 1491.6,1001.9 1493.0,1002.2 1494.3,1002.4 1495.7,1002.8 1497.1,1003.1 1498.4,1002.6 1499.8,1001.9 1501.1,1001.8 1502.5,1002.1 1503.9,1002.3 1505.2,1002.5 1506.6,1002.6 1507.9,1002.7 1509.3,1002.5 1510.7,1002.4 1512.0,1002.6 1513.4,1003.1 1514.7,1003.6 1516.1,1003.8 1517.5,1003.8 1518.8,1003.9 1520.2,1004.3 1521.5,1004.5 1522.9,1004.4 1524.3,1004.3 1525.6,1004.2 1527.0,1004.1 1528.3,1004.1 1529.7,1004.3 1531.1,1004.6 1532.4,1005.0 1533.8,1005.3 1535.1,1005.4 1536.5,1005.4 1537.9,1005.5 1539.2,1005.5 1540.6,1005.4 1541.9,1005.4 1543.3,1005.6 1544.7,1005.8 1546.0,1005.9 1547.4,1006.0 1548.7,1006.2 1550.1,1006.3 1551.5,1006.1 1552.8,1005.9 1554.2,1005.8 1555.5,1005.8 1556.9,1005.9 1558.3,1006.2 1559.6,1007.0 1561.0,1007.7 1562.3,1008.0 1563.7,1007.7 1565.1,1007.4 1566.4,1007.3 1567.8,1007.3 1569.1,1007.5 1570.5,1007.7 1571.9,1007.7 1573.2,1007.7 1574.6,1007.7 1575.9,1007.6 1577.3,1007.6 1578.7,1007.8 1580.0,1008.2 1581.4,1008.5 1582.7,1008.4 1584.1,1008.0 1585.5,1007.8 1586.8,1007.7 1588.2,1007.7 1589.5,1007.9 1590.9,1008.1 1592.3,1008.2 1593.6,1008.2 1595.0,1008.4 1596.3,1008.6 1597.7,1008.8 1599.1,1009.3 1600.4,1009.8 1601.8,1009.7 1603.1,1009.2 1604.5,1009.0 1605.9,1009.1 1607.2,1009.3 1608.6,1009.5 1609.9,1009.6 1611.3,1009.3 1612.7,1008.8 1614.0,1008.8 1615.4,1009.4 1616.7,1010.1 1618.1,1010.3 1619.5,1010.4 1620.8,1010.8 1622.2,1011.1 1623.5,1011.2 1624.9,1011.3 1626.3,1011.7 1627.6,1012.0 1629.0,1012.0 1630.3,1011.8 1631.7,1011.6 1633.1,1011.4 1634.4,1011.4 1635.8,1011.6 1637.1,1011.9 1638.5,1012.2 1639.9,1012.6 1641.2,1012.7 1642.6,1012.5 1643.9,1012.3 1645.3,1012.2 1646.7,1012.1 1648.0,1012.2 1649.4,1012.6 1650.7,1013.1 1652.1,1013.2 1653.5,1012.8 1654.8,1012.7 1656.2,1012.9 1657.5,1013.3 1658.9,1013.3 1660.3,1012.9 1661.6,1012.7 1663.0,1013.0 1664.3,1013.6 1665.7,1014.2 1667.1,1014.7 1668.4,1014.8 1669.8,1014.3 1671.1,1013.7 1672.5,1013.7 1673.9,1014.2 1675.2,1014.7 1676.6,1015.0 1677.9,1015.2 1679.3,1015.4 1680.7,1015.4 1682.0,1015.0 1683.4,1014.5 1684.7,1014.0 1686.1,1013.9 1687.5,1014.3 1688.8,1015.2 1690.2,1016.0 1691.5,1016.3 1692.9,1016.0 1694.3,1015.6 1695.6,1015.6 1697.0,1015.8 1698.3,1016.0 1699.7,1016.1 1701.1,1016.1 1702.4,1016.0 1703.8,1015.9 1705.1,1016.0 1706.5,1016.2 1707.9,1016.4 1709.2,1016.9 1710.6,1017.6 1711.9,1017.9 1713.3,1017.5 1714.7,1016.9 1716.0,1016.6 1717.4,1016.5 1718.7,1016.3 1720.1,1016.3 1721.5,1016.8 1722.8,1017.6 1724.2,1018.0 1725.5,1017.9 1726.9,1017.6 1728.3,1017.4 1729.6,1017.4 1731.0,1017.6 1732.3,1017.8 1733.7,1017.8 1735.1,1017.8 1736.4,1017.9 1737.8,1018.1 1739.1,1018.2 1740.5,1018.0 1741.9,1017.6 1743.2,1017.3 1744.6,1017.5 1745.9,1017.8 1747.3,1017.8 1748.7,1017.6 1750.0,1017.6 1751.4,1018.1 1752.7,1018.5 1754.1,1018.6 1755.5,1018.5 1756.8,1018.4 1758.2,1018.2 1759.5,1018.2 1760.9,1018.4 1762.3,1018.8 1763.6,1019.1 1765.0,1019.3 1766.3,1019.3 1767.7,1019.0 1769.1,1018.6 1770.4,1018.5 1771.8,1018.7 1773.1,1018.9 1774.5,1019.0 1775.9,1019.2 1777.2,1019.6 1778.6,1019.8 1779.9,1019.6 1781.3,1019.4 1782.7,1019.5 1784.0,1019.8 1785.4,1020.1 1786.7,1020.3 1788.1,1020.4 1789.5,1020.4 1790.8,1020.0 1792.2,1019.6 1793.5,1019.5 1794.9,1019.8 1796.3,1020.0 1797.6,1020.1 1799.0,1020.1 1800.3,1020.1 1801.7,1020.2 1803.1,1020.3 1804.4,1020.6 1805.8,1020.9 1807.1,1021.3 1808.5,1021.5 1809.9,1021.4 1811.2,1021.3 1812.6,1021.6 1813.9,1022.1 1815.3,1022.3 1816.7,1022.2 1818.0,1022.0 1819.4,1022.0 1820.7,1022.0 1822.1,1021.6 1823.5,1020.9 1824.8,1020.5 1826.2,1020.9 1827.5,1021.3 1828.9,1021.3 1830.3,1021.4 1831.6,1021.9 1833.0,1022.2 1834.3,1022.2 1835.7,1021.8 1837.1,1021.8 1838.4,1021.9 1839.8,1022.0 1841.1,1022.5 1842.5,1023.0 1843.9,1023.0 1845.2,1022.2 1846.6,1021.6 1847.9,1021.7 1849.3,1022.2 1850.7,1022.6 1852.0,1023.1 1853.4,1023.4 1854.7,1023.0 1856.1,1022.5 1857.5,1022.3 1858.8,1022.4 1860.2,1022.5 1861.5,1022.8 1862.9,1022.9 1864.3,1022.7 1865.6,1022.5 1867.0,1022.6 1868.3,1022.9 1869.7,1023.2 1871.1,1023.4 1872.4,1023.4 1873.8,1023.4 1875.1,1023.7 1876.5,1024.3 1877.9,1024.3 1879.2,1023.9 1880.6,1023.4 1881.9,1023.0 1883.3,1022.9 1884.7,1023.2 1886.0,1023.6 1887.4,1023.7 1888.7,1023.7 1890.1,1023.6 1891.5,1023.6 1892.8,1023.8 1894.2,1024.0 1895.5,1023.9 1896.9,1023.5 1898.3,1023.3 1899.6,1023.6 1901.0,1024.4 1902.3,1024.7 1903.7,1024.3 1905.1,1023.8 1906.4,1023.6 1907.8,1023.7 1909.1,1023.8 1910.5,1023.8 1911.9,1024.0 1913.2,1024.2 1914.6,1024.1 1915.9,1023.9 1917.3,1023.8 1918.7,1024.0 1920.0,1024.3 1921.4,1024.3 1922.7,1024.4 1924.1,1024.7 1925.5,1025.0 1926.8,1025.0 1928.2,1024.9 1929.5,1024.7 1930.9,1024.5 1932.3,1024.3 1933.6,1024.2 1935.0,1024.3 1936.3,1024.4 1937.7,1024.2 1939.1,1024.1 1940.4,1024.0 1941.8,1023.8 1943.1,1023.7 1944.5,1023.9 1945.9,1024.2 1947.2,1024.4 1948.6,1024.2 1949.9,1024.2 1951.3,1024.4 1952.7,1024.8 1954.0,1025.2 1955.4,1025.2 1956.7,1024.9 1958.1,1024.8 1959.5,1025.0 1960.8,1025.2 1962.2,1025.0 1963.5,1024.7 1964.9,1024.8 1966.3,1025.4 1967.6,1025.7 1969.0,1025.5 1970.3,1025.1 1971.7,1024.7 1973.1,1024.4 1974.4,1024.4 1975.8,1024.4 1977.1,1024.2 1978.5,1023.9" stroke="#d41012"/>
<path d="M74.5,1028.4 75.9,1028.4 77.2,1028.2 78.6,1027.8 79.9,1027.6 81.3,1027.6 82.7,1027.7 84.0,1027.5 85.4,1027.6 86.7,1027.9 88.1,1028.2 89.5,1028.4 90.8,1028.5 92.2,1028.4 93.5,1028.1 94.9,1027.9 96.3,1028.0 97.6,1028.3 99.0,1028.5 100.3,1028.5 101.7,1028.7 103.1,1029.1 104.4,1029.4 105.8,1029.5 107.1,1029.5 108.5,1029.4 109.9,1029.3 111.2,1029.2 112.6,1029.1 113.9,1029.1 115.3,1029.3 116.7,1029.4 118.0,1029.1 119.4,1028.6 120.7,1028.4 122.1,1028.3 123.5,1028.0 124.8,1027.6 126.2,1027.4 127.5,1027.6 128.9,1027.9 130.3,1028.3 131.6,1028.9 133.0,1029.4 134.3,1029.4 135.7,1028.9 137.1,1028.2 138.4,1027.8 139.8,1027.6 141.1,1027.6 142.5,1027.7 143.9,1028.0 145.2,1028.4 146.6,1028.6 147.9,1028.5 149.3,1028.2 150.7,1027.9 152.0,1027.7 153.4,1027.9 154.7,1028.4 156.1,1028.9 157.5,1029.0 158.8,1028.7 160.2,1028.6 161.5,1028.7 162.9,1028.7 164.3,1028.7 165.6,1028.6 167.0,1028.5 168.3,1028.7 169.7,1028.8 171.1,1028.8 172.4,1028.7 173.8,1028.6 175.1,1028.5 176.5,1028.5 177.9,1028.3 179.2,1028.1 180.6,1027.8 181.9,1027.5 183.3,1027.7 184.7,1028.1 186.0,1028.4 187.4,1028.4 188.7,1028.0 190.1,1027.5 191.5,1027.2 192.8,1027.1 194.2,1027.0 195.5,1026.9 196.9,1027.2 198.3,1027.8 199.6,1028.2 201.0,1028.5 202.3,1028.7 203.7,1029.0 205.1,1028.9 206.4,1028.9 207.8,1029.1 209.1,1029.1 210.5,1029.1 211.9,1029.1 213.2,1029.0 214.6,1028.9 215.9,1028.6 217.3,1028.5 218.7,1028.5 220.0,1028.4 221.4,1028.2 222.7,1028.2 224.1,1028.5 225.5,1028.6 226.8,1028.7 228.2,1028.6 229.5,1028.4 230.9,1028.4 232.3,1028.7 233.6,1029.3 235.0,1029.6 236.3,1029.7 237.7,1029.6 239.1,1029.5 240.4,1029.5 241.8,1029.6 243.1,1029.9 244.5,1030.0 245.9,1030.0 247.2,1029.8 248.6,1029.3 249.9,1029.0 251.3,1029.0 252.7,1029.0 254.0,1029.0 255.4,1029.1 256.7,1029.2 258.1,1029.0 259.5,1028.7 260.8,1028.7 262.2,1028.6 263.5,1028.3 264.9,1028.1 266.3,1028.1 267.6,1028.4 269.0,1028.9 270.3,1029.6 271.7,1029.9 273.1,1030.0 274.4,1029.9 275.8,1029.7 277.1,1029.4 278.5,1028.9 279.9,1028.5 281.2,1028.1 282.6,1027.5 283.9,1026.9 285.3,1026.4 286.7,1025.9 288.0,1025.5 289.4,1025.2 290.7,1024.7 292.1,1024.0 293.5,1023.1 294.8,1021.9 296.2,1020.4 297.5,1018.4 298.9,1016.1 300.3,1013.9 301.6,1012.1 303.0,1010.3 304.3,1008.2 305.7,1005.8 307.1,1003.2 308.4,1000.4 309.8,997.7 311.1,995.2 312.5,992.5 313.9,989.6 315.2,986.4 316.6,983.3 317.9,980.5 319.3,977.8 320.7,975.4 322.0,973.8 323.4,972.4 324.7,970.7 326.1,968.7 327.5,966.9 328.8,965.1 330.2,963.2 331.5,960.9 332.9,958.5 334.3,956.1 335.6,954.1 337.0,952.3 338.3,950.3 339.7,947.7 341.1,944.7 342.4,941.2 343.8,937.5 345.1,934.0 346.5,930.7 347.9,927.8 349.2,925.5 350.6,923.3 351.9,920.8 353.3,917.9 354.7,914.8 356.0,911.9 357.4,909.7 358.7,908.1 360.1,906.6 361.5,904.7 362.8,902.3 364.2,900.0 365.5,898.1 366.9,896.5 368.3,895.1 369.6,894.0 371.0,893.0 372.3,891.6 373.7,890.1 375.1,888.8 376.4,887.8 377.8,886.9 379.1,886.0 380.5,884.9 381.9,883.8 383.2,882.7 384.6,881.7 385.9,881.1 387.3,880.8 388.7,880.3 390.0,879.6 391.4,878.7 392.7,877.6 394.1,876.4 395.5,875.4 396.8,874.5 398.2,873.4 399.5,872.2 400.9,870.9 402.3,869.7 403.6,868.3 405.0,866.6 406.3,865.1 407.7,863.6 409.1,862.1 410.4,860.6 411.8,859.2 413.1,857.7 414.5,855.9 415.9,853.9 417.2,851.7 418.6,849.5 419.9,847.4 421.3,845.5 422.7,843.5 424.0,841.3 425.4,838.9 426.7,836.4 428.1,833.6 429.5,830.1 430.8,826.1 432.2,822.2 433.5,818.5 434.9,814.6 436.3,810.6 437.6,806.5 439.0,802.2 440.3,797.1 441.7,791.4 443.1,785.4 444.4,779.2 445.8,772.6 447.1,765.1 448.5,757.0 449.9,749.0 451.2,741.7 452.6,734.7 453.9,727.0 455.3,718.3 456.7,709.4 458.0,701.1 459.4,693.2 460.7,685.7 462.1,678.8 463.5,672.4 464.8,665.7 466.2,658.6 467.5,651.5 468.9,644.4 470.3,637.1 471.6,629.7 473.0,622.8 474.3,616.0 475.7,609.0 477.1,601.1 478.4,592.8 479.8,584.3 481.1,576.3 482.5,569.3 483.9,563.3 485.2,557.7 486.6,552.2 487.9,547.0 489.3,542.3 490.7,537.6 492.0,532.4 493.4,526.9 494.7,521.5 496.1,516.4 497.5,512.0 498.8,508.0 500.2,504.2 501.5,500.8 502.9,497.7 504.3,494.7 505.6,491.9 507.0,489.3 508.3,486.7 509.7,484.1 511.1,481.7 512.4,479.6 513.8,477.9 515.1,476.7 516.5,475.7 517.9,474.9 519.2,474.0 520.6,472.8 521.9,471.7 523.3,470.6 524.7,469.3 526.0,467.8 527.4,466.4 528.7,465.0 530.1,463.2 531.5,460.9 532.8,458.5 534.2,456.5 535.5,455.1 536.9,453.9 538.3,452.6 539.6,451.7 541.0,451.4 542.3,451.7 543.7,452.8 545.1,454.6 546.4,457.1 547.8,460.6 549.1,464.3 550.5,467.7 551.9,470.9 553.2,474.3 554.6,477.3 555.9,479.2 557.3,480.6 558.7,481.5 560.0,482.1 561.4,482.8 562.7,483.8 564.1,484.8 565.5,485.4 566.8,485.6 568.2,485.5 569.5,485.0 570.9,484.4 572.3,484.0 573.6,483.6 575.0,483.0 576.3,481.8 577.7,480.0 579.1,478.5 580.4,477.8 581.8,478.3 583.1,481.4 584.5,486.1 585.9,491.8 587.2,498.3 588.6,505.5 589.9,513.7 591.3,522.0 592.7,530.4 594.0,537.9 595.4,540.5 596.7,534.8 598.1,526.7 599.5,521.9 600.8,517.9 602.2,514.8 603.5,512.6 604.9,510.8 606.3,509.4 607.6,508.5 609.0,508.0 610.3,507.4 611.7,505.8 613.1,503.0 614.4,499.3 615.8,493.6 617.1,486.7 618.5,480.5 619.9,475.9 621.2,477.0 622.6,486.5 623.9,498.4 625.3,511.1 626.7,512.3 628.0,512.2 629.4,512.1 630.7,512.1 632.1,512.2 633.5,512.6 634.8,515.4 636.2,519.4 637.5,522.6 638.9,525.7 640.3,528.7 641.6,531.4 643.0,533.5 644.3,535.5 645.7,537.6 647.1,539.7 648.4,541.6 649.8,543.9 651.1,546.7 652.5,550.0 653.9,553.7 655.2,557.8 656.6,561.9 657.9,566.0 659.3,569.9 660.7,573.6 662.0,577.3 663.4,580.9 664.7,584.5 666.1,588.3 667.5,592.6 668.8,596.9 670.2,601.0 671.5,604.4 672.9,607.2 674.3,609.9 675.6,613.0 677.0,616.5 678.3,620.1 679.7,623.6 681.1,627.0 682.4,630.4 683.8,633.6 685.1,636.6 686.5,639.2 687.9,641.9 689.2,644.8 690.6,648.0 691.9,651.0 693.3,653.9 694.7,656.8 696.0,660.0 697.4,663.5 698.7,667.2 700.1,670.9 701.5,674.2 702.8,677.3 704.2,680.4 705.5,683.6 706.9,686.9 708.3,689.7 709.6,692.3 711.0,695.0 712.3,697.6 713.7,699.7 715.1,701.3 716.4,702.8 717.8,704.1 719.1,705.0 720.5,706.0 721.9,707.4 723.2,709.0 724.6,710.8 725.9,712.6 727.3,714.1 728.7,715.2 730.0,716.1 731.4,717.2 732.7,718.8 734.1,720.6 735.5,722.3 736.8,723.7 738.2,724.8 739.5,726.1 740.9,727.7 742.3,729.3 743.6,730.7 745.0,732.0 746.3,733.2 747.7,734.1 749.1,735.4 750.4,737.5 751.8,739.7 753.1,741.8 754.5,743.9 755.9,746.1 757.2,748.2 758.6,750.3 759.9,752.4 761.3,754.5 762.7,756.6 764.0,758.4 765.4,760.1 766.7,761.8 768.1,763.6 769.5,765.2 770.8,766.6 772.2,768.2 773.5,769.9 774.9,771.5 776.3,773.0 777.6,774.4 779.0,775.9 780.3,777.9 781.7,780.2 783.1,782.3 784.4,784.5 785.8,787.1 787.1,790.2 788.5,793.3 789.9,796.1 791.2,798.4 792.6,800.5 793.9,802.4 795.3,804.4 796.7,806.3 798.0,808.3 799.4,810.2 800.7,811.6 802.1,812.6 803.5,813.6 804.8,814.9 806.2,816.2 807.5,817.4 808.9,818.9 810.3,820.4 811.6,821.8 813.0,823.3 814.3,824.9 815.7,826.2 817.1,827.2 818.4,828.1 819.8,828.9 821.1,829.6 822.5,830.2 823.9,830.5 825.2,830.7 826.6,831.2 827.9,831.8 829.3,832.7 830.7,833.7 832.0,834.7 833.4,835.5 834.7,836.2 836.1,836.8 837.5,837.4 838.8,838.0 840.2,838.7 841.5,839.3 842.9,840.0 844.3,840.6 845.6,841.0 847.0,841.6 848.3,842.3 849.7,843.2 851.1,843.8 852.4,844.3 853.8,845.1 855.1,846.2 856.5,847.5 857.9,848.7 859.2,849.8 860.6,850.6 861.9,851.3 863.3,851.9 864.7,852.8 866.0,854.1 867.4,855.5 868.7,856.8 870.1,858.3 871.5,859.7 872.8,861.0 874.2,862.1 875.5,863.0 876.9,863.9 878.3,865.2 879.6,867.0 881.0,868.8 882.3,870.3 883.7,871.5 885.1,872.4 886.4,873.1 887.8,873.8 889.1,874.6 890.5,875.5 891.9,876.5 893.2,877.5 894.6,878.3 895.9,879.2 897.3,880.3 898.7,881.3 900.0,882.2 901.4,883.2 902.7,884.4 904.1,885.7 905.5,887.1 906.8,888.5 908.2,889.9 909.5,891.1 910.9,892.2 912.3,893.4 913.6,894.6 915.0,895.8 916.3,896.9 917.7,897.7 919.1,898.4 920.4,899.3 921.8,900.5 923.1,901.9 924.5,903.2 925.9,904.0 927.2,904.4 928.6,904.5 929.9,904.7 931.3,905.1 932.7,905.9 934.0,906.7 935.4,907.4 936.7,908.3 938.1,909.2 939.5,910.1 940.8,911.0 942.2,912.1 943.5,912.8 944.9,913.1 946.3,913.5 947.6,914.0 949.0,914.2 950.3,914.3 951.7,914.5 953.1,915.2 954.4,916.0 955.8,916.5 957.1,916.8 958.5,917.3 959.9,918.1 961.2,919.1 962.6,919.8 963.9,920.4 965.3,920.7 966.7,920.8 968.0,921.0 969.4,921.3 970.7,921.4 972.1,921.6 973.5,921.7 974.8,921.9 976.2,922.1 977.5,922.5 978.9,923.0 980.3,923.8 981.6,924.8 983.0,926.0 984.3,926.8 985.7,926.9 987.1,926.8 988.4,927.0 989.8,927.5 991.1,928.0 992.5,928.2 993.9,928.5 995.2,928.7 996.6,928.9 997.9,928.9 999.3,929.1 1000.7,929.7 1002.0,930.4 1003.4,931.0 1004.7,931.5 1006.1,932.1 1007.5,932.6 1008.8,932.7 1010.2,932.9 1011.5,933.3 1012.9,933.7 1014.3,933.9 1015.6,934.4 1017.0,935.2 1018.3,935.9 1019.7,936.7 1021.1,937.6 1022.4,938.4 1023.8,939.0 1025.1,939.7 1026.5,940.6 1027.9,941.3 1029.2,941.6 1030.6,941.8 1031.9,942.4 1033.3,943.1 1034.7,943.7 1036.0,944.2 1037.4,944.8 1038.7,945.5 1040.1,946.1 1041.5,946.4 1042.8,946.5 1044.2,946.6 1045.5,947.1 1046.9,947.8 1048.3,948.4 1049.6,948.7 1051.0,948.9 1052.3,949.2 1053.7,949.4 1055.1,949.4 1056.4,949.4 1057.8,949.8 1059.1,950.4 1060.5,950.7 1061.9,950.7 1063.2,950.8 1064.6,951.1 1065.9,951.2 1067.3,951.3 1068.7,951.4 1070.0,951.6 1071.4,952.3 1072.7,953.3 1074.1,954.2 1075.5,954.6 1076.8,954.6 1078.2,954.5 1079.5,954.4 1080.9,954.2 1082.3,954.3 1083.6,954.6 1085.0,954.7 1086.3,954.7 1087.7,954.7 1089.1,954.9 1090.4,955.2 1091.8,955.7 1093.1,955.8 1094.5,955.4 1095.9,955.1 1097.2,955.0 1098.6,955.3 1099.9,956.0 1101.3,956.9 1102.7,957.3 1104.0,957.0 1105.4,956.5 1106.7,956.1 1108.1,956.1 1109.5,956.6 1110.8,957.2 1112.2,957.2 1113.5,956.9 1114.9,956.9 1116.3,957.4 1117.6,957.7 1119.0,957.9 1120.3,957.9 1121.7,957.8 1123.1,957.9 1124.4,958.2 1125.8,958.3 1127.1,958.3 1128.5,958.5 1129.9,959.0 1131.2,959.5 1132.6,959.9 1133.9,960.3 1135.3,960.4 1136.7,960.2 1138.0,959.8 1139.4,959.8 1140.7,960.5 1142.1,961.6 1143.5,962.1 1144.8,961.8 1146.2,961.6 1147.5,961.8 1148.9,962.1 1150.3,962.2 1151.6,962.1 1153.0,962.3 1154.3,962.9 1155.7,963.8 1157.1,964.2 1158.4,964.2 1159.8,964.3 1161.1,964.6 1162.5,964.9 1163.9,965.0 1165.2,965.0 1166.6,965.2 1167.9,965.3 1169.3,965.2 1170.7,965.3 1172.0,965.8 1173.4,966.4 1174.7,966.6 1176.1,966.5 1177.5,966.3 1178.8,966.1 1180.2,966.1 1181.5,966.3 1182.9,966.7 1184.3,967.2 1185.6,967.5 1187.0,967.5 1188.3,967.7 1189.7,968.2 1191.1,968.6 1192.4,968.8 1193.8,968.8 1195.1,969.0 1196.5,969.1 1197.9,969.5 1199.2,970.0 1200.6,970.5 1201.9,970.8 1203.3,970.8 1204.7,970.4 1206.0,970.1 1207.4,970.0 1208.7,970.2 1210.1,970.5 1211.5,970.6 1212.8,970.5 1214.2,970.4 1215.5,970.6 1216.9,971.2 1218.3,971.6 1219.6,971.8 1221.0,971.9 1222.3,971.9 1223.7,971.6 1225.1,971.5 1226.4,971.7 1227.8,972.1 1229.1,972.2 1230.5,971.9 1231.9,971.9 1233.2,972.3 1234.6,972.8 1235.9,972.9 1237.3,973.0 1238.7,973.0 1240.0,973.1 1241.4,973.3 1242.7,973.4 1244.1,973.4 1245.5,973.5 1246.8,973.8 1248.2,974.0 1249.5,974.2 1250.9,974.4 1252.3,974.4 1253.6,974.3 1255.0,974.6 1256.3,975.3 1257.7,975.8 1259.1,976.0 1260.4,975.9 1261.8,976.1 1263.1,976.2 1264.5,976.3 1265.9,976.6 1267.2,976.9 1268.6,976.9 1269.9,976.7 1271.3,976.6 1272.7,976.7 1274.0,977.1 1275.4,977.3 1276.7,977.3 1278.1,977.1 1279.5,977.0 1280.8,977.1 1282.2,977.3 1283.5,977.7 1284.9,978.0 1286.3,978.4 1287.6,978.8 1289.0,979.0 1290.3,979.0 1291.7,979.0 1293.1,979.0 1294.4,978.8 1295.8,978.5 1297.1,978.7 1298.5,979.2 1299.9,979.6 1301.2,979.7 1302.6,979.6 1303.9,979.4 1305.3,979.3 1306.7,979.6 1308.0,980.0 1309.4,980.5 1310.7,980.6 1312.1,980.3 1313.5,980.1 1314.8,980.2 1316.2,980.6 1317.5,980.9 1318.9,981.2 1320.3,981.5 1321.6,981.3 1323.0,980.8 1324.3,980.3 1325.7,980.2 1327.1,980.5 1328.4,980.9 1329.8,981.3 1331.1,981.6 1332.5,981.9 1333.9,981.9 1335.2,981.7 1336.6,981.4 1337.9,981.6 1339.3,982.3 1340.7,982.8 1342.0,982.9 1343.4,982.8 1344.7,982.9 1346.1,983.1 1347.5,983.1 1348.8,982.8 1350.2,982.7 1351.5,983.1 1352.9,983.6 1354.3,983.9 1355.6,983.8 1357.0,983.5 1358.3,983.5 1359.7,983.9 1361.1,984.2 1362.4,984.3 1363.8,984.4 1365.1,984.6 1366.5,984.7 1367.9,984.7 1369.2,984.5 1370.6,984.3 1371.9,984.5 1373.3,984.9 1374.7,985.3 1376.0,985.7 1377.4,986.1 1378.7,986.5 1380.1,986.6 1381.5,986.3 1382.8,986.1 1384.2,986.3 1385.5,986.6 1386.9,986.8 1388.3,986.9 1389.6,987.2 1391.0,987.6 1392.3,987.8 1393.7,987.7 1395.1,987.6 1396.4,987.6 1397.8,987.6 1399.1,987.5 1400.5,987.4 1401.9,987.7 1403.2,988.4 1404.6,989.4 1405.9,990.2 1407.3,990.3 1408.7,990.1 1410.0,989.8 1411.4,989.8 1412.7,989.8 1414.1,989.7 1415.5,989.6 1416.8,989.9 1418.2,990.6 1419.5,991.2 1420.9,991.8 1422.3,992.1 1423.6,991.9 1425.0,991.2 1426.3,990.7 1427.7,990.6 1429.1,990.8 1430.4,991.1 1431.8,991.7 1433.1,992.2 1434.5,992.4 1435.9,992.4 1437.2,992.3 1438.6,992.4 1439.9,992.6 1441.3,992.8 1442.7,992.8 1444.0,992.8 1445.4,993.0 1446.7,993.5 1448.1,993.9 1449.5,993.7 1450.8,993.5 1452.2,993.4 1453.5,993.1 1454.9,992.9 1456.3,993.4 1457.6,994.3 1459.0,994.9 1460.3,995.2 1461.7,995.0 1463.1,994.4 1464.4,994.0 1465.8,994.1 1467.1,994.6 1468.5,994.9 1469.9,994.8 1471.2,994.7 1472.6,994.6 1473.9,994.3 1475.3,994.3 1476.7,994.7 1478.0,995.0 1479.4,994.9 1480.7,994.7 1482.1,994.9 1483.5,995.3 1484.8,995.7 1486.2,996.1 1487.5,996.2 1488.9,996.3 1490.3,996.5 1491.6,996.8 1493.0,997.1 1494.3,997.1 1495.7,997.0 1497.1,996.8 1498.4,996.7 1499.8,996.5 1501.1,996.3 1502.5,996.2 1503.9,996.3 1505.2,996.6 1506.6,997.0 1507.9,997.2 1509.3,997.1 1510.7,996.9 1512.0,996.9 1513.4,997.4 1514.7,998.0 1516.1,998.2 1517.5,997.9 1518.8,997.5 1520.2,997.2 1521.5,997.1 1522.9,997.2 1524.3,997.5 1525.6,998.0 1527.0,998.4 1528.3,998.5 1529.7,998.4 1531.1,998.3 1532.4,998.2 1533.8,998.3 1535.1,998.5 1536.5,998.7 1537.9,999.0 1539.2,999.3 1540.6,999.8 1541.9,1000.1 1543.3,1000.1 1544.7,1000.1 1546.0,1000.2 1547.4,1000.4 1548.7,1000.2 1550.1,999.6 1551.5,999.2 1552.8,999.4 1554.2,1000.2 1555.5,1001.4 1556.9,1002.4 1558.3,1002.7 1559.6,1002.5 1561.0,1002.3 1562.3,1002.1 1563.7,1002.2 1565.1,1002.4 1566.4,1002.4 1567.8,1002.1 1569.1,1001.8 1570.5,1001.6 1571.9,1001.7 1573.2,1002.2 1574.6,1002.4 1575.9,1002.4 1577.3,1002.4 1578.7,1002.7 1580.0,1003.0 1581.4,1003.3 1582.7,1003.3 1584.1,1003.0 1585.5,1002.7 1586.8,1002.8 1588.2,1003.0 1589.5,1003.1 1590.9,1003.3 1592.3,1003.5 1593.6,1003.7 1595.0,1003.9 1596.3,1003.9 1597.7,1003.9 1599.1,1004.3 1600.4,1005.0 1601.8,1005.2 1603.1,1004.9 1604.5,1004.8 1605.9,1005.1 1607.2,1005.2 1608.6,1004.9 1609.9,1004.9 1611.3,1005.1 1612.7,1005.2 1614.0,1005.1 1615.4,1005.0 1616.7,1005.3 1618.1,1005.9 1619.5,1006.5 1620.8,1006.7 1622.2,1006.7 1623.5,1006.7 1624.9,1006.8 1626.3,1006.9 1627.6,1007.1 1629.0,1007.2 1630.3,1007.1 1631.7,1007.2 1633.1,1007.4 1634.4,1007.5 1635.8,1007.8 1637.1,1008.1 1638.5,1008.3 1639.9,1008.4 1641.2,1008.5 1642.6,1008.4 1643.9,1008.3 1645.3,1008.5 1646.7,1008.5 1648.0,1008.6 1649.4,1009.1 1650.7,1009.5 1652.1,1009.3 1653.5,1008.9 1654.8,1008.9 1656.2,1009.1 1657.5,1009.1 1658.9,1009.3 1660.3,1009.8 1661.6,1010.3 1663.0,1010.4 1664.3,1010.2 1665.7,1010.0 1667.1,1010.0 1668.4,1010.3 1669.8,1010.3 1671.1,1010.2 1672.5,1010.4 1673.9,1010.7 1675.2,1010.7 1676.6,1010.8 1677.9,1010.8 1679.3,1010.6 1680.7,1010.5 1682.0,1010.5 1683.4,1010.5 1684.7,1010.5 1686.1,1010.6 1687.5,1010.8 1688.8,1011.1 1690.2,1011.4 1691.5,1011.9 1692.9,1012.6 1694.3,1013.1 1695.6,1013.0 1697.0,1012.7 1698.3,1012.6 1699.7,1012.6 1701.1,1012.5 1702.4,1012.6 1703.8,1012.9 1705.1,1013.3 1706.5,1013.2 1707.9,1012.9 1709.2,1012.8 1710.6,1013.1 1711.9,1013.6 1713.3,1013.8 1714.7,1013.5 1716.0,1013.2 1717.4,1013.2 1718.7,1013.4 1720.1,1013.6 1721.5,1013.6 1722.8,1013.5 1724.2,1013.7 1725.5,1014.2 1726.9,1014.5 1728.3,1014.5 1729.6,1014.3 1731.0,1014.3 1732.3,1014.3 1733.7,1014.2 1735.1,1014.3 1736.4,1014.6 1737.8,1014.9 1739.1,1015.1 1740.5,1015.3 1741.9,1015.3 1743.2,1015.1 1744.6,1015.2 1745.9,1015.4 1747.3,1015.6 1748.7,1015.4 1750.0,1015.1 1751.4,1015.2 1752.7,1015.7 1754.1,1016.1 1755.5,1016.3 1756.8,1016.5 1758.2,1016.5 1759.5,1016.3 1760.9,1016.3 1762.3,1016.4 1763.6,1016.7 1765.0,1016.7 1766.3,1016.4 1767.7,1016.4 1769.1,1016.4 1770.4,1016.4 1771.8,1016.3 1773.1,1016.2 1774.5,1016.5 1775.9,1017.0 1777.2,1017.1 1778.6,1017.1 1779.9,1017.3 1781.3,1017.9 1782.7,1018.1 1784.0,1017.7 1785.4,1017.2 1786.7,1017.1 1788.1,1017.3 1789.5,1017.7 1790.8,1018.1 1792.2,1018.1 1793.5,1017.8 1794.9,1017.4 1796.3,1017.3 1797.6,1017.5 1799.0,1017.8 1800.3,1018.0 1801.7,1018.2 1803.1,1018.5 1804.4,1018.9 1805.8,1018.9 1807.1,1018.6 1808.5,1018.5 1809.9,1018.7 1811.2,1019.0 1812.6,1018.9 1813.9,1018.8 1815.3,1018.9 1816.7,1019.0 1818.0,1019.0 1819.4,1019.0 1820.7,1019.3 1822.1,1019.8 1823.5,1020.2 1824.8,1020.2 1826.2,1020.0 1827.5,1019.6 1828.9,1019.5 1830.3,1019.4 1831.6,1019.2 1833.0,1018.9 1834.3,1018.7 1835.7,1018.8 1837.1,1019.0 1838.4,1019.3 1839.8,1019.5 1841.1,1019.6 1842.5,1019.7 1843.9,1019.8 1845.2,1020.1 1846.6,1020.4 1847.9,1020.3 1849.3,1020.0 1850.7,1019.8 1852.0,1019.8 1853.4,1020.0 1854.7,1020.2 1856.1,1020.5 1857.5,1020.9 1858.8,1021.2 1860.2,1021.1 1861.5,1021.1 1862.9,1021.6 1864.3,1022.2 1865.6,1022.4 1867.0,1022.0 1868.3,1021.5 1869.7,1021.1 1871.1,1021.1 1872.4,1021.1 1873.8,1021.0 1875.1,1020.9 1876.5,1021.0 1877.9,1021.1 1879.2,1021.1 1880.6,1021.0 1881.9,1021.3 1883.3,1021.7 1884.7,1021.6 1886.0,1021.4 1887.4,1021.3 1888.7,1021.3 1890.1,1021.2 1891.5,1021.3 1892.8,1021.9 1894.2,1022.3 1895.5,1022.1 1896.9,1021.9 1898.3,1022.1 1899.6,1022.4 1901.0,1022.3 1902.3,1021.8 1903.7,1021.5 1905.1,1021.8 1906.4,1022.3 1907.8,1022.6 1909.1,1022.4 1910.5,1022.0 1911.9,1022.0 1913.2,1022.4 1914.6,1022.8 1915.9,1022.8 1917.3,1022.6 1918.7,1022.7 1920.0,1023.3 1921.4,1023.9 1922.7,1024.2 1924.1,1023.9 1925.5,1023.3 1926.8,1022.7 1928.2,1022.4 1929.5,1022.3 1930.9,1022.3 1932.3,1022.4 1933.6,1022.5 1935.0,1022.8 1936.3,1023.1 1937.7,1023.3 1939.1,1023.5 1940.4,1023.7 1941.8,1023.9 1943.1,1023.9 1944.5,1023.7 1945.9,1023.5 1947.2,1023.6 1948.6,1023.6 1949.9,1023.8 1951.3,1024.3 1952.7,1024.5 1954.0,1024.2 1955.4,1023.5 1956.7,1023.0 1958.1,1023.2 1959.5,1023.6 1960.8,1023.9 1962.2,1024.0 1963.5,1024.1 1964.9,1024.2 1966.3,1024.3 1967.6,1024.3 1969.0,1024.1 1970.3,1023.8 1971.7,1023.5 1973.1,1023.2 1974.4,1022.9 1975.8,1022.7 1977.1,1023.0 1978.5,1023.5" stroke="#8f5cc0"/>
<path d="M74.5,1028.2 75.9,1028.1 77.2,1027.9 78.6,1027.8 79.9,1027.5 81.3,1027.3 82.7,1027.5 84.0,1027.9 85.4,1028.2 86.7,1028.2 88.1,1028.6 89.5,1029.0 90.8,1029.2 92.2,1029.1 93.5,1029.3 94.9,1029.5 96.3,1029.3 97.6,1028.7 99.0,1028.3 100.3,1028.3 101.7,1028.2 103.1,1028.2 104.4,1028.7 105.8,1029.3 107.1,1029.6 108.5,1029.3 109.9,1028.7 111.2,1028.2 112.6,1028.1 113.9,1028.3 115.3,1028.4 116.7,1028.5 118.0,1028.7 119.4,1029.2 120.7,1029.7 122.1,1030.0 123.5,1029.6 124.8,1028.6 126.2,1027.7 127.5,1027.4 128.9,1027.6 130.3,1027.8 131.6,1027.8 133.0,1027.8 134.3,1028.1 135.7,1028.4 137.1,1028.5 138.4,1028.6 139.8,1028.9 141.1,1029.1 142.5,1029.0 143.9,1028.8 145.2,1028.4 146.6,1028.3 147.9,1028.6 149.3,1028.8 150.7,1028.8 152.0,1028.7 153.4,1028.6 154.7,1028.6 156.1,1028.6 157.5,1028.4 158.8,1027.9 160.2,1027.7 161.5,1027.9 162.9,1028.0 164.3,1028.1 165.6,1028.1 167.0,1028.0 168.3,1027.9 169.7,1027.8 171.1,1027.6 172.4,1027.4 173.8,1027.1 175.1,1027.0 176.5,1027.4 177.9,1028.1 179.2,1028.7 180.6,1029.1 181.9,1029.6 183.3,1029.9 184.7,1029.9 186.0,1029.5 187.4,1029.1 188.7,1028.8 190.1,1028.9 191.5,1029.0 192.8,1028.7 194.2,1028.2 195.5,1028.0 196.9,1028.2 198.3,1028.3 199.6,1028.2 201.0,1028.4 202.3,1028.7 203.7,1028.9 205.1,1028.8 206.4,1028.5 207.8,1028.2 209.1,1028.3 210.5,1028.8 211.9,1029.1 213.2,1028.8 214.6,1028.4 215.9,1028.5 217.3,1029.1 218.7,1029.4 220.0,1029.2 221.4,1028.5 222.7,1028.1 224.1,1028.0 225.5,1028.2 226.8,1028.5 228.2,1028.9 229.5,1028.9 230.9,1028.3 232.3,1027.8 233.6,1027.7 235.0,1027.9 236.3,1027.9 237.7,1028.1 239.1,1028.5 240.4,1028.8 241.8,1028.8 243.1,1028.6 244.5,1028.4 245.9,1028.4 247.2,1028.6 248.6,1028.7 249.9,1028.7 251.3,1028.5 252.7,1028.5 254.0,1028.6 255.4,1028.9 256.7,1029.1 258.1,1029.2 259.5,1029.3 260.8,1029.2 262.2,1028.8 263.5,1028.5 264.9,1028.3 266.3,1028.0 267.6,1027.7 269.0,1027.5 270.3,1027.4 271.7,1027.1 273.1,1026.8 274.4,1026.9 275.8,1027.2 277.1,1027.2 278.5,1026.5 279.9,1025.2 281.2,1024.0 282.6,1023.0 283.9,1022.0 285.3,1021.0 286.7,1019.9 288.0,1018.2 289.4,1015.9 290.7,1013.0 292.1,1009.4 293.5,1005.2 294.8,1000.1 296.2,994.8 297.5,989.7 298.9,985.0 300.3,980.8 301.6,977.1 303.0,973.6 304.3,969.8 305.7,966.3 307.1,963.1 308.4,960.4 309.8,957.6 311.1,954.7 312.5,952.2 313.9,950.2 315.2,948.5 316.6,947.0 317.9,945.6 319.3,943.8 320.7,941.6 322.0,939.4 323.4,937.5 324.7,936.0 326.1,934.7 327.5,933.1 328.8,930.9 330.2,928.3 331.5,925.8 332.9,923.3 334.3,920.9 335.6,918.7 337.0,916.5 338.3,914.4 339.7,912.3 341.1,910.1 342.4,907.9 343.8,905.8 345.1,903.9 346.5,902.1 347.9,900.2 349.2,898.3 350.6,896.3 351.9,894.1 353.3,891.9 354.7,889.9 356.0,888.2 357.4,886.8 358.7,885.2 360.1,883.6 361.5,881.9 362.8,880.3 364.2,878.8 365.5,877.3 366.9,875.9 368.3,874.7 369.6,873.5 371.0,872.4 372.3,871.5 373.7,870.8 375.1,869.9 376.4,868.6 377.8,866.9 379.1,865.4 380.5,863.9 381.9,862.4 383.2,861.3 384.6,860.4 385.9,859.2 387.3,858.0 388.7,857.0 390.0,856.0 391.4,854.9 392.7,853.8 394.1,852.9 395.5,852.1 396.8,851.4 398.2,850.4 399.5,849.1 400.9,848.1 402.3,847.1 403.6,845.8 405.0,844.1 406.3,842.3 407.7,840.4 409.1,838.7 410.4,836.7 411.8,834.2 413.1,831.8 414.5,829.6 415.9,827.4 417.2,825.0 418.6,822.4 419.9,819.5 421.3,816.4 422.7,813.9 424.0,811.9 425.4,809.6 426.7,806.7 428.1,803.9 429.5,801.3 430.8,798.6 432.2,795.2 433.5,791.3 434.9,786.9 436.3,782.2 437.6,777.1 439.0,771.6 440.3,765.9 441.7,759.7 443.1,752.9 444.4,745.9 445.8,738.7 447.1,731.2 448.5,723.6 449.9,716.2 451.2,709.5 452.6,703.1 453.9,696.4 455.3,689.5 456.7,682.8 458.0,676.3 459.4,669.7 460.7,662.8 462.1,656.0 463.5,649.2 464.8,642.2 466.2,634.9 467.5,627.6 468.9,620.8 470.3,614.1 471.6,607.0 473.0,599.4 474.3,591.4 475.7,583.3 477.1,574.9 478.4,566.7 479.8,559.2 481.1,552.1 482.5,545.1 483.9,538.0 485.2,530.7 486.6,522.9 487.9,514.8 489.3,506.9 490.7,499.1 492.0,491.4 493.4,484.1 494.7,478.1 496.1,473.5 497.5,469.1 498.8,464.3 500.2,458.8 501.5,452.3 502.9,445.3 504.3,438.6 505.6,433.0 507.0,428.2 508.3,424.4 509.7,421.6 511.1,419.6 512.4,417.6 513.8,415.6 515.1,413.8 516.5,412.3 517.9,411.3 519.2,410.3 520.6,409.1 521.9,407.5 523.3,405.4 524.7,403.0 526.0,400.7 527.4,398.5 528.7,396.3 530.1,394.3 531.5,392.6 532.8,391.1 534.2,389.4 535.5,386.6 536.9,384.0 538.3,382.9 539.6,382.4 541.0,382.6 542.3,383.7 543.7,385.3 545.1,386.7 546.4,388.5 547.8,390.9 549.1,393.6 550.5,396.9 551.9,402.4 553.2,407.7 554.6,411.2 555.9,413.6 557.3,415.1 558.7,416.1 560.0,417.2 561.4,418.2 562.7,418.6 564.1,418.5 565.5,418.3 566.8,418.0 568.2,417.4 569.5,416.7 570.9,416.0 572.3,415.3 573.6,414.3 575.0,413.2 576.3,411.9 577.7,411.2 579.1,411.3 580.4,411.9 581.8,412.3 583.1,413.7 584.5,418.1 585.9,425.5 587.2,434.6 588.6,444.1 589.9,453.6 591.3,462.6 592.7,471.2 594.0,478.5 595.4,480.6 596.7,473.0 598.1,462.3 599.5,456.0 600.8,450.9 602.2,446.7 603.5,443.0 604.9,439.6 606.3,437.4 607.6,436.7 609.0,437.1 610.3,437.3 611.7,436.1 613.1,432.8 614.4,427.9 615.8,421.6 617.1,414.2 618.5,407.7 619.9,402.2 621.2,401.7 622.6,411.5 623.9,425.0 625.3,441.0 626.7,442.3 628.0,441.5 629.4,441.4 630.7,441.5 632.1,441.7 633.5,442.5 634.8,445.8 636.2,450.4 637.5,453.8 638.9,456.7 640.3,458.6 641.6,459.4 643.0,460.2 644.3,462.0 645.7,464.7 647.1,468.1 648.4,471.8 649.8,475.7 651.1,479.5 652.5,483.3 653.9,486.9 655.2,490.5 656.6,494.7 657.9,499.2 659.3,503.8 660.7,508.2 662.0,512.4 663.4,516.7 664.7,521.0 666.1,525.5 667.5,530.0 668.8,534.3 670.2,538.5 671.5,542.7 672.9,546.8 674.3,551.0 675.6,555.3 677.0,559.5 678.3,563.7 679.7,567.8 681.1,571.7 682.4,575.2 683.8,578.3 685.1,581.6 686.5,584.9 687.9,587.9 689.2,590.6 690.6,593.3 691.9,596.2 693.3,599.5 694.7,602.9 696.0,606.1 697.4,609.4 698.7,612.7 700.1,616.0 701.5,619.4 702.8,623.0 704.2,626.5 705.5,630.0 706.9,633.3 708.3,636.6 709.6,639.9 711.0,642.9 712.3,645.4 713.7,647.8 715.1,650.0 716.4,651.8 717.8,653.2 719.1,654.5 720.5,656.1 721.9,658.2 723.2,660.6 724.6,662.9 725.9,665.0 727.3,666.9 728.7,668.4 730.0,670.0 731.4,671.7 732.7,673.0 734.1,674.0 735.5,675.1 736.8,676.5 738.2,678.0 739.5,679.5 740.9,680.6 742.3,681.4 743.6,682.4 745.0,683.7 746.3,685.3 747.7,687.0 749.1,688.8 750.4,690.9 751.8,693.4 753.1,695.9 754.5,698.0 755.9,699.7 757.2,701.7 758.6,704.1 759.9,706.3 761.3,708.1 762.7,709.7 764.0,711.5 765.4,713.3 766.7,715.0 768.1,716.7 769.5,718.6 770.8,720.7 772.2,722.9 773.5,725.3 774.9,727.7 776.3,730.1 777.6,732.6 779.0,735.1 780.3,737.5 781.7,739.8 783.1,741.9 784.4,744.0 785.8,746.3 787.1,749.1 788.5,752.3 789.9,755.5 791.2,758.0 792.6,760.2 793.9,762.3 795.3,764.5 796.7,766.5 798.0,768.5 799.4,770.3 800.7,771.8 802.1,773.4 803.5,775.0 804.8,776.6 806.2,778.3 807.5,779.8 808.9,781.3 810.3,783.0 811.6,784.8 813.0,786.4 814.3,787.6 815.7,788.8 817.1,790.0 818.4,791.3 819.8,792.4 821.1,793.2 822.5,793.8 823.9,794.5 825.2,795.4 826.6,796.8 827.9,798.1 829.3,798.9 830.7,799.4 832.0,800.3 833.4,801.4 834.7,802.6 836.1,803.5 837.5,804.4 838.8,805.3 840.2,806.2 841.5,807.0 842.9,807.9 844.3,808.8 845.6,809.6 847.0,810.4 848.3,811.3 849.7,812.3 851.1,813.3 852.4,814.2 853.8,815.0 855.1,815.9 856.5,817.0 857.9,818.3 859.2,819.5 860.6,820.5 861.9,821.5 863.3,822.5 864.7,823.7 866.0,824.9 867.4,826.4 868.7,828.0 870.1,829.8 871.5,831.4 872.8,832.7 874.2,833.7 875.5,834.6 876.9,836.1 878.3,837.8 879.6,839.4 881.0,840.6 882.3,841.6 883.7,842.9 885.1,844.1 886.4,845.1 887.8,846.0 889.1,847.1 890.5,848.9 891.9,850.8 893.2,852.0 894.6,853.0 895.9,854.3 897.3,856.1 898.7,857.9 900.0,859.3 901.4,860.4 902.7,861.6 904.1,863.0 905.5,864.2 906.8,865.3 908.2,866.3 909.5,867.5 910.9,868.8 912.3,870.1 913.6,870.9 915.0,871.7 916.3,873.0 917.7,874.7 919.1,876.1 920.4,877.2 921.8,878.2 923.1,879.2 924.5,880.1 925.9,881.2 927.2,882.4 928.6,883.5 929.9,884.4 931.3,885.3 932.7,886.5 934.0,887.2 935.4,887.5 936.7,887.8 938.1,888.5 939.5,889.4 940.8,890.2 942.2,890.7 943.5,891.1 944.9,891.7 946.3,892.6 947.6,893.5 949.0,894.0 950.3,894.3 951.7,894.5 953.1,894.8 954.4,895.3 955.8,895.8 957.1,896.1 958.5,896.3 959.9,896.8 961.2,897.3 962.6,897.9 963.9,898.6 965.3,899.1 966.7,899.7 968.0,900.4 969.4,900.9 970.7,901.2 972.1,901.6 973.5,902.1 974.8,902.2 976.2,902.0 977.5,902.1 978.9,902.4 980.3,902.8 981.6,903.5 983.0,904.4 984.3,905.3 985.7,906.0 987.1,906.5 988.4,906.9 989.8,907.2 991.1,907.7 992.5,908.3 993.9,909.0 995.2,909.8 996.6,910.5 997.9,910.9 999.3,911.1 1000.7,911.3 1002.0,911.6 1003.4,912.3 1004.7,913.3 1006.1,914.4 1007.5,915.3 1008.8,916.0 1010.2,916.8 1011.5,917.1 1012.9,917.0 1014.3,916.7 1015.6,916.9 1017.0,917.4 1018.3,918.1 1019.7,918.6 1021.1,919.2 1022.4,919.9 1023.8,920.7 1025.1,921.3 1026.5,921.8 1027.9,922.5 1029.2,923.3 1030.6,924.3 1031.9,925.0 1033.3,925.2 1034.7,925.4 1036.0,925.8 1037.4,926.7 1038.7,927.7 1040.1,928.3 1041.5,928.7 1042.8,929.3 1044.2,930.2 1045.5,930.8 1046.9,930.8 1048.3,931.0 1049.6,931.6 1051.0,932.7 1052.3,933.9 1053.7,934.5 1055.1,934.6 1056.4,934.6 1057.8,934.8 1059.1,935.2 1060.5,935.6 1061.9,936.1 1063.2,936.5 1064.6,936.8 1065.9,937.3 1067.3,938.2 1068.7,938.7 1070.0,939.0 1071.4,939.2 1072.7,939.3 1074.1,939.1 1075.5,938.9 1076.8,939.0 1078.2,939.3 1079.5,939.6 1080.9,939.7 1082.3,939.5 1083.6,939.5 1085.0,939.8 1086.3,940.4 1087.7,941.0 1089.1,941.4 1090.4,941.7 1091.8,942.1 1093.1,942.3 1094.5,942.4 1095.9,942.6 1097.2,942.9 1098.6,943.1 1099.9,943.2 1101.3,943.5 1102.7,943.8 1104.0,944.1 1105.4,944.2 1106.7,944.3 1108.1,944.4 1109.5,944.5 1110.8,944.8 1112.2,944.9 1113.5,945.0 1114.9,944.9 1116.3,944.6 1117.6,944.6 1119.0,944.9 1120.3,945.5 1121.7,945.8 1123.1,946.1 1124.4,946.4 1125.8,946.9 1127.1,947.3 1128.5,947.1 1129.9,946.2 1131.2,945.3 1132.6,945.2 1133.9,945.6 1135.3,946.1 1136.7,946.2 1138.0,946.1 1139.4,946.2 1140.7,946.5 1142.1,946.6 1143.5,946.9 1144.8,947.6 1146.2,948.2 1147.5,948.4 1148.9,948.5 1150.3,948.7 1151.6,949.2 1153.0,949.9 1154.3,950.3 1155.7,950.2 1157.1,950.1 1158.4,950.4 1159.8,950.8 1161.1,950.9 1162.5,950.5 1163.9,950.1 1165.2,950.4 1166.6,951.1 1167.9,952.0 1169.3,952.6 1170.7,953.0 1172.0,953.7 1173.4,954.4 1174.7,954.4 1176.1,953.8 1177.5,953.4 1178.8,953.3 1180.2,953.9 1181.5,955.0 1182.9,956.1 1184.3,956.3 1185.6,955.9 1187.0,955.7 1188.3,955.7 1189.7,955.6 1191.1,955.3 1192.4,955.7 1193.8,956.5 1195.1,957.3 1196.5,957.6 1197.9,957.6 1199.2,957.6 1200.6,957.6 1201.9,957.8 1203.3,958.2 1204.7,958.2 1206.0,958.0 1207.4,957.7 1208.7,957.5 1210.1,957.7 1211.5,958.3 1212.8,958.9 1214.2,958.9 1215.5,958.8 1216.9,958.9 1218.3,958.9 1219.6,958.6 1221.0,958.7 1222.3,959.3 1223.7,959.8 1225.1,959.6 1226.4,959.2 1227.8,959.5 1229.1,960.3 1230.5,960.9 1231.9,961.1 1233.2,961.0 1234.6,960.9 1235.9,960.8 1237.3,960.8 1238.7,961.0 1240.0,961.4 1241.4,961.9 1242.7,962.4 1244.1,962.6 1245.5,962.7 1246.8,962.8 1248.2,963.0 1249.5,963.3 1250.9,963.6 1252.3,963.5 1253.6,963.5 1255.0,963.9 1256.3,964.4 1257.7,964.1 1259.1,963.5 1260.4,963.5 1261.8,963.9 1263.1,964.5 1264.5,965.0 1265.9,965.3 1267.2,965.4 1268.6,965.2 1269.9,964.8 1271.3,964.8 1272.7,965.3 1274.0,966.0 1275.4,966.4 1276.7,966.5 1278.1,966.0 1279.5,965.4 1280.8,965.2 1282.2,965.9 1283.5,966.6 1284.9,967.0 1286.3,967.4 1287.6,968.0 1289.0,968.4 1290.3,968.3 1291.7,968.1 1293.1,968.4 1294.4,969.0 1295.8,969.4 1297.1,969.7 1298.5,969.9 1299.9,969.9 1301.2,969.8 1302.6,970.1 1303.9,970.4 1305.3,970.6 1306.7,970.4 1308.0,970.2 1309.4,970.1 1310.7,970.3 1312.1,970.5 1313.5,970.6 1314.8,970.5 1316.2,970.5 1317.5,970.7 1318.9,970.9 1320.3,971.2 1321.6,971.3 1323.0,971.3 1324.3,971.2 1325.7,971.3 1327.1,971.6 1328.4,971.8 1329.8,971.9 1331.1,972.2 1332.5,972.5 1333.9,972.8 1335.2,973.4 1336.6,974.1 1337.9,974.5 1339.3,974.4 1340.7,974.0 1342.0,973.9 1343.4,974.3 1344.7,974.8 1346.1,974.9 1347.5,974.7 1348.8,974.5 1350.2,974.7 1351.5,975.0 1352.9,975.1 1354.3,975.1 1355.6,975.2 1357.0,975.5 1358.3,975.8 1359.7,976.1 1361.1,976.3 1362.4,976.3 1363.8,976.1 1365.1,975.8 1366.5,975.8 1367.9,975.8 1369.2,975.8 1370.6,976.0 1371.9,976.4 1373.3,977.0 1374.7,977.4 1376.0,977.5 1377.4,977.5 1378.7,977.6 1380.1,977.4 1381.5,977.3 1382.8,977.6 1384.2,978.0 1385.5,978.3 1386.9,978.6 1388.3,978.8 1389.6,979.1 1391.0,979.4 1392.3,979.6 1393.7,979.7 1395.1,979.7 1396.4,979.7 1397.8,979.7 1399.1,979.9 1400.5,980.3 1401.9,980.6 1403.2,980.7 1404.6,980.7 1405.9,980.6 1407.3,980.7 1408.7,981.0 1410.0,981.1 1411.4,980.9 1412.7,980.7 1414.1,981.1 1415.5,981.8 1416.8,982.3 1418.2,982.4 1419.5,982.2 1420.9,982.1 1422.3,982.1 1423.6,982.1 1425.0,982.2 1426.3,982.5 1427.7,982.8 1429.1,983.1 1430.4,983.0 1431.8,982.9 1433.1,983.0 1434.5,983.2 1435.9,983.6 1437.2,983.8 1438.6,983.9 1439.9,984.2 1441.3,984.5 1442.7,984.6 1444.0,984.2 1445.4,984.3 1446.7,984.8 1448.1,985.1 1449.5,985.0 1450.8,985.0 1452.2,985.2 1453.5,985.7 1454.9,986.2 1456.3,986.3 1457.6,986.7 1459.0,987.1 1460.3,987.2 1461.7,986.9 1463.1,986.5 1464.4,986.3 1465.8,986.2 1467.1,986.1 1468.5,985.9 1469.9,985.7 1471.2,985.9 1472.6,986.6 1473.9,987.5 1475.3,988.0 1476.7,988.1 1478.0,988.2 1479.4,988.6 1480.7,988.8 1482.1,988.9 1483.5,989.1 1484.8,989.3 1486.2,989.0 1487.5,988.6 1488.9,988.6 1490.3,989.1 1491.6,989.8 1493.0,990.3 1494.3,990.5 1495.7,990.7 1497.1,990.9 1498.4,990.9 1499.8,990.8 1501.1,990.8 1502.5,990.8 1503.9,990.6 1505.2,990.5 1506.6,990.3 1507.9,990.1 1509.3,990.2 1510.7,990.6 1512.0,991.0 1513.4,991.4 1514.7,992.0 1516.1,992.5 1517.5,992.6 1518.8,992.5 1520.2,992.4 1521.5,992.1 1522.9,991.9 1524.3,992.0 1525.6,992.3 1527.0,992.7 1528.3,992.7 1529.7,992.6 1531.1,992.5 1532.4,992.6 1533.8,992.6 1535.1,992.6 1536.5,992.6 1537.9,992.6 1539.2,992.8 1540.6,993.0 1541.9,993.2 1543.3,993.2 1544.7,993.2 1546.0,993.2 1547.4,993.5 1548.7,993.8 1550.1,994.1 1551.5,994.3 1552.8,994.7 1554.2,995.2 1555.5,995.6 1556.9,995.7 1558.3,995.7 1559.6,995.7 1561.0,995.9 1562.3,996.4 1563.7,997.1 1565.1,997.2 1566.4,997.0 1567.8,996.9 1569.1,997.2 1570.5,997.7 1571.9,997.9 1573.2,997.9 1574.6,998.1 1575.9,998.2 1577.3,998.1 1578.7,998.0 1580.0,997.9 1581.4,998.2 1582.7,998.6 1584.1,998.7 1585.5,998.6 1586.8,998.4 1588.2,998.2 1589.5,998.0 1590.9,998.0 1592.3,998.2 1593.6,998.4 1595.0,998.6 1596.3,998.6 1597.7,998.6 1599.1,998.7 1600.4,998.9 1601.8,999.3 1603.1,999.7 1604.5,999.9 1605.9,999.7 1607.2,999.4 1608.6,999.4 1609.9,999.5 1611.3,999.8 1612.7,999.9 1614.0,999.8 1615.4,1000.0 1616.7,1000.5 1618.1,1001.1 1619.5,1001.2 1620.8,1001.3 1622.2,1001.5 1623.5,1001.7 1624.9,1001.5 1626.3,1001.3 1627.6,1001.8 1629.0,1002.4 1630.3,1002.4 1631.7,1002.2 1633.1,1002.1 1634.4,1002.1 1635.8,1002.1 1637.1,1002.2 1638.5,1002.5 1639.9,1002.7 1641.2,1002.5 1642.6,1002.1 1643.9,1001.8 1645.3,1001.8 1646.7,1002.2 1648.0,1002.6 1649.4,1003.2 1650.7,1003.7 1652.1,1003.9 1653.5,1003.9 1654.8,1004.0 1656.2,1004.1 1657.5,1004.1 1658.9,1004.2 1660.3,1004.3 1661.6,1004.1 1663.0,1003.9 1664.3,1004.0 1665.7,1004.3 1667.1,1004.7 1668.4,1005.2 1669.8,1005.8 1671.1,1005.9 1672.5,1005.5 1673.9,1005.0 1675.2,1004.7 1676.6,1004.9 1677.9,1005.3 1679.3,1005.6 1680.7,1005.7 1682.0,1005.6 1683.4,1005.6 1684.7,1005.8 1686.1,1006.3 1687.5,1006.8 1688.8,1007.1 1690.2,1007.1 1691.5,1006.8 1692.9,1006.2 1694.3,1006.1 1695.6,1006.4 1697.0,1006.9 1698.3,1007.4 1699.7,1007.6 1701.1,1007.7 1702.4,1007.7 1703.8,1007.8 1705.1,1007.8 1706.5,1007.9 1707.9,1008.3 1709.2,1008.6 1710.6,1008.8 1711.9,1008.7 1713.3,1008.4 1714.7,1007.9 1716.0,1007.6 1717.4,1007.4 1718.7,1007.6 1720.1,1008.2 1721.5,1008.9 1722.8,1009.1 1724.2,1009.2 1725.5,1009.5 1726.9,1009.8 1728.3,1010.3 1729.6,1010.7 1731.0,1010.6 1732.3,1010.4 1733.7,1010.2 1735.1,1010.1 1736.4,1010.0 1737.8,1010.0 1739.1,1009.9 1740.5,1009.7 1741.9,1009.7 1743.2,1009.9 1744.6,1009.9 1745.9,1010.0 1747.3,1010.3 1748.7,1010.9 1750.0,1011.4 1751.4,1011.6 1752.7,1011.3 1754.1,1011.1 1755.5,1011.2 1756.8,1011.4 1758.2,1011.2 1759.5,1010.8 1760.9,1010.6 1762.3,1010.9 1763.6,1011.4 1765.0,1012.0 1766.3,1012.3 1767.7,1012.3 1769.1,1012.2 1770.4,1012.1 1771.8,1012.3 1773.1,1012.5 1774.5,1012.4 1775.9,1012.2 1777.2,1012.2 1778.6,1012.3 1779.9,1012.2 1781.3,1012.1 1782.7,1012.1 1784.0,1012.3 1785.4,1012.9 1786.7,1013.7 1788.1,1014.2 1789.5,1014.3 1790.8,1014.1 1792.2,1013.9 1793.5,1014.1 1794.9,1014.5 1796.3,1014.3 1797.6,1013.6 1799.0,1013.2 1800.3,1013.3 1801.7,1013.4 1803.1,1013.5 1804.4,1013.4 1805.8,1013.2 1807.1,1013.2 1808.5,1013.7 1809.9,1014.4 1811.2,1014.9 1812.6,1015.1 1813.9,1014.8 1815.3,1014.4 1816.7,1014.0 1818.0,1014.1 1819.4,1014.6 1820.7,1015.5 1822.1,1016.0 1823.5,1016.0 1824.8,1015.5 1826.2,1015.2 1827.5,1015.4 1828.9,1015.4 1830.3,1015.1 1831.6,1015.0 1833.0,1015.3 1834.3,1015.5 1835.7,1015.4 1837.1,1015.2 1838.4,1015.1 1839.8,1015.1 1841.1,1015.3 1842.5,1015.6 1843.9,1015.6 1845.2,1015.5 1846.6,1015.7 1847.9,1016.1 1849.3,1016.3 1850.7,1016.3 1852.0,1016.2 1853.4,1016.3 1854.7,1016.4 1856.1,1016.7 1857.5,1017.0 1858.8,1017.1 1860.2,1016.9 1861.5,1017.0 1862.9,1017.5 1864.3,1017.7 1865.6,1017.6 1867.0,1017.5 1868.3,1017.6 1869.7,1017.9 1871.1,1018.2 1872.4,1018.3 1873.8,1018.2 1875.1,1018.1 1876.5,1017.8 1877.9,1017.5 1879.2,1017.4 1880.6,1017.5 1881.9,1017.9 1883.3,1018.4 1884.7,1018.9 1886.0,1019.2 1887.4,1019.1 1888.7,1018.8 1890.1,1018.5 1891.5,1018.5 1892.8,1018.7 1894.2,1018.8 1895.5,1019.0 1896.9,1019.5 1898.3,1020.0 1899.6,1020.2 1901.0,1020.2 1902.3,1020.4 1903.7,1020.8 1905.1,1021.0 1906.4,1020.8 1907.8,1020.5 1909.1,1020.2 1910.5,1020.1 1911.9,1020.1 1913.2,1020.1 1914.6,1020.0 1915.9,1019.9 1917.3,1019.9 1918.7,1019.9 1920.0,1019.9 1921.4,1019.8 1922.7,1019.9 1924.1,1020.3 1925.5,1020.7 1926.8,1020.9 1928.2,1021.0 1929.5,1021.1 1930.9,1021.3 1932.3,1021.6 1933.6,1021.8 1935.0,1022.0 1936.3,1021.9 1937.7,1021.6 1939.1,1021.3 1940.4,1021.3 1941.8,1021.4 1943.1,1021.4 1944.5,1021.6 1945.9,1022.0 1947.2,1022.2 1948.6,1022.2 1949.9,1022.5 1951.3,1023.1 1952.7,1023.5 1954.0,1023.2 1955.4,1022.5 1956.7,1021.9 1958.1,1021.8 1959.5,1022.1 1960.8,1022.4 1962.2,1022.5 1963.5,1022.2 1964.9,1022.0 1966.3,1022.4 1967.6,1023.0 1969.0,1023.3 1970.3,1023.1 1971.7,1022.8 1973.1,1022.6 1974.4,1022.5 1975.8,1022.5 1977.1,1022.7 1978.5,1022.8" stroke="#82483c"/>
<path d="M74.5,1027.7 75.9,1027.8 77.2,1028.1 78.6,1028.4 79.9,1028.5 81.3,1028.6 82.7,1028.5 84.0,1028.2 85.4,1028.2 86.7,1028.6 88.1,1028.8 89.5,1028.7 90.8,1028.5 92.2,1028.4 93.5,1028.4 94.9,1028.3 96.3,1028.1 97.6,1027.7 99.0,1027.6 100.3,1027.7 101.7,1027.9 103.1,1027.9 104.4,1028.0 105.8,1028.6 107.1,1029.3 108.5,1029.9 109.9,1029.9 111.2,1029.4 112.6,1028.6 113.9,1027.9 115.3,1027.7 116.7,1027.8 118.0,1027.8 119.4,1027.6 120.7,1027.7 122.1,1028.1 123.5,1028.6 124.8,1028.7 126.2,1028.5 127.5,1028.4 128.9,1028.3 130.3,1028.1 131.6,1027.9 133.0,1028.1 134.3,1028.5 135.7,1029.0 137.1,1029.1 138.4,1029.2 139.8,1029.3 141.1,1029.2 142.5,1028.7 143.9,1028.2 145.2,1028.2 146.6,1028.7 147.9,1029.2 149.3,1029.3 150.7,1029.0 152.0,1028.4 153.4,1027.8 154.7,1027.4 156.1,1027.3 157.5,1027.5 158.8,1027.7 160.2,1027.9 161.5,1027.9 162.9,1028.0 164.3,1028.3 165.6,1028.4 167.0,1028.4 168.3,1028.5 169.7,1028.7 171.1,1028.8 172.4,1028.9 173.8,1029.0 175.1,1029.0 176.5,1028.9 177.9,1028.8 179.2,1028.9 180.6,1028.9 181.9,1028.6 183.3,1028.2 184.7,1028.0 186.0,1028.0 187.4,1028.2 188.7,1028.4 190.1,1028.5 191.5,1028.6 192.8,1028.7 194.2,1029.0 195.5,1029.3 196.9,1029.2 198.3,1028.8 199.6,1028.5 201.0,1028.4 202.3,1028.2 203.7,1028.0 205.1,1027.6 206.4,1027.3 207.8,1027.4 209.1,1028.0 210.5,1028.5 211.9,1028.5 213.2,1028.5 214.6,1028.4 215.9,1028.3 217.3,1028.1 218.7,1027.9 220.0,1027.7 221.4,1027.6 222.7,1027.7 224.1,1027.7 225.5,1027.7 226.8,1028.1 228.2,1028.4 229.5,1028.6 230.9,1028.4 232.3,1028.1 233.6,1027.9 235.0,1028.2 236.3,1028.8 237.7,1029.5 239.1,1029.5 240.4,1028.9 241.8,1028.6 243.1,1028.5 244.5,1028.5 245.9,1028.4 247.2,1028.6 248.6,1028.9 249.9,1028.6 251.3,1027.9 252.7,1027.4 254.0,1027.7 255.4,1028.2 256.7,1028.3 258.1,1028.1 259.5,1027.9 260.8,1028.0 262.2,1028.0 263.5,1027.7 264.9,1027.3 266.3,1026.8 267.6,1026.2 269.0,1025.6 270.3,1025.1 271.7,1024.7 273.1,1024.2 274.4,1023.5 275.8,1022.4 277.1,1021.4 278.5,1020.1 279.9,1018.2 281.2,1016.3 282.6,1013.9 283.9,1010.8 285.3,1007.2 286.7,1003.6 288.0,999.5 289.4,995.3 290.7,991.2 292.1,987.4 293.5,983.6 294.8,979.5 296.2,975.1 297.5,970.5 298.9,965.8 300.3,961.1 301.6,956.8 303.0,953.4 304.3,950.4 305.7,947.0 307.1,943.2 308.4,939.5 309.8,936.2 311.1,933.3 312.5,930.7 313.9,928.3 315.2,926.1 316.6,923.9 317.9,921.5 319.3,919.3 320.7,917.3 322.0,915.6 323.4,914.1 324.7,912.5 326.1,910.7 327.5,908.8 328.8,906.9 330.2,905.1 331.5,903.3 332.9,901.7 334.3,900.1 335.6,898.5 337.0,896.8 338.3,895.1 339.7,893.4 341.1,891.5 342.4,889.2 343.8,886.5 345.1,883.9 346.5,881.4 347.9,879.0 349.2,876.7 350.6,874.3 351.9,871.9 353.3,869.6 354.7,867.2 356.0,864.7 357.4,862.3 358.7,859.8 360.1,857.4 361.5,855.5 362.8,854.1 364.2,852.7 365.5,851.1 366.9,849.6 368.3,848.2 369.6,846.9 371.0,845.8 372.3,845.0 373.7,844.7 375.1,844.4 376.4,843.6 377.8,842.3 379.1,841.2 380.5,840.3 381.9,839.4 383.2,838.2 384.6,837.1 385.9,836.4 387.3,836.0 388.7,835.1 390.0,833.7 391.4,832.5 392.7,831.9 394.1,831.5 395.5,831.0 396.8,830.2 398.2,828.8 399.5,827.2 400.9,825.9 402.3,824.9 403.6,823.7 405.0,822.3 406.3,820.5 407.7,818.6 409.1,816.7 410.4,815.1 411.8,813.6 413.1,812.1 414.5,810.3 415.9,808.1 417.2,806.0 418.6,804.1 419.9,802.0 421.3,799.7 422.7,797.4 424.0,794.9 425.4,792.1 426.7,788.9 428.1,785.2 429.5,781.3 430.8,777.5 432.2,773.9 433.5,770.1 434.9,765.8 436.3,761.0 437.6,755.7 439.0,749.9 440.3,744.0 441.7,737.8 443.1,730.9 444.4,723.4 445.8,715.3 447.1,706.8 448.5,698.4 449.9,690.3 451.2,682.8 452.6,675.9 453.9,668.9 455.3,661.4 456.7,653.7 458.0,646.3 459.4,638.9 460.7,631.3 462.1,623.5 463.5,616.0 464.8,609.1 466.2,602.1 467.5,594.8 468.9,587.3 470.3,579.3 471.6,570.8 473.0,562.5 474.3,554.3 475.7,545.9 477.1,537.3 478.4,528.8 479.8,520.0 481.1,511.1 482.5,502.4 483.9,494.0 485.2,485.7 486.6,477.3 487.9,468.8 489.3,460.1 490.7,451.5 492.0,443.2 493.4,435.4 494.7,428.6 496.1,422.0 497.5,413.8 498.8,402.8 500.2,392.9 501.5,386.0 502.9,380.3 504.3,375.4 505.6,371.2 507.0,367.4 508.3,363.7 509.7,360.0 511.1,356.3 512.4,352.5 513.8,349.0 515.1,346.1 516.5,344.1 517.9,342.9 519.2,342.2 520.6,341.8 521.9,341.2 523.3,339.8 524.7,337.7 526.0,335.0 527.4,332.3 528.7,330.1 530.1,327.7 531.5,324.9 532.8,322.3 534.2,320.0 535.5,318.1 536.9,316.5 538.3,315.3 539.6,314.6 541.0,314.4 542.3,315.0 543.7,316.6 545.1,318.6 546.4,320.6 547.8,322.7 549.1,326.0 550.5,331.4 551.9,336.9 553.2,340.9 554.6,343.7 555.9,346.0 557.3,347.7 558.7,349.1 560.0,350.2 561.4,351.2 562.7,351.9 564.1,351.8 565.5,351.1 566.8,350.4 568.2,349.7 569.5,348.7 570.9,347.3 572.3,346.1 573.6,345.1 575.0,343.9 576.3,342.4 577.7,341.1 579.1,340.6 580.4,340.4 581.8,340.9 583.1,343.1 584.5,346.9 585.9,352.4 587.2,359.4 588.6,367.5 589.9,376.7 591.3,386.4 592.7,396.6 594.0,406.7 595.4,412.7 596.7,405.6 598.1,393.0 599.5,385.6 600.8,379.1 602.2,373.9 603.5,370.8 604.9,368.5 606.3,365.8 607.6,362.5 609.0,359.3 610.3,356.7 611.7,354.5 613.1,351.8 614.4,347.9 615.8,341.0 617.1,333.9 618.5,326.1 619.9,318.5 621.2,318.8 622.6,331.8 623.9,345.7 625.3,358.5 626.7,361.8 628.0,358.9 629.4,357.7 630.7,357.2 632.1,356.9 633.5,357.3 634.8,359.5 636.2,362.8 637.5,365.9 638.9,368.3 640.3,370.6 641.6,372.7 643.0,374.7 644.3,377.1 645.7,380.1 647.1,383.6 648.4,387.1 649.8,390.5 651.1,394.1 652.5,397.8 653.9,401.1 655.2,404.3 656.6,408.0 657.9,412.1 659.3,416.1 660.7,419.8 662.0,423.4 663.4,427.4 664.7,431.8 666.1,436.5 667.5,441.0 668.8,445.5 670.2,450.0 671.5,454.4 672.9,458.7 674.3,463.0 675.6,467.5 677.0,472.0 678.3,476.1 679.7,480.0 681.1,484.0 682.4,487.9 683.8,491.5 685.1,495.3 686.5,499.2 687.9,503.2 689.2,506.8 690.6,510.3 691.9,514.0 693.3,518.1 694.7,522.3 696.0,526.2 697.4,530.0 698.7,533.8 700.1,537.9 701.5,542.2 702.8,546.4 704.2,550.0 705.5,553.1 706.9,556.1 708.3,559.5 709.6,563.3 711.0,567.0 712.3,570.4 713.7,573.2 715.1,575.7 716.4,578.2 717.8,580.7 719.1,582.9 720.5,584.6 721.9,586.1 723.2,587.7 724.6,589.2 725.9,590.7 727.3,592.0 728.7,593.4 730.0,595.1 731.4,596.6 732.7,598.0 734.1,599.4 735.5,600.8 736.8,602.3 738.2,603.9 739.5,605.7 740.9,607.6 742.3,609.3 743.6,610.9 745.0,612.5 746.3,614.6 747.7,617.0 749.1,619.5 750.4,621.6 751.8,623.4 753.1,624.9 754.5,626.2 755.9,627.6 757.2,629.3 758.6,631.2 759.9,633.3 761.3,635.9 762.7,638.8 764.0,641.4 765.4,643.6 766.7,645.8 768.1,648.2 769.5,650.8 770.8,653.1 772.2,655.1 773.5,657.1 774.9,659.0 776.3,661.0 777.6,663.1 779.0,665.8 780.3,668.8 781.7,672.0 783.1,675.1 784.4,677.9 785.8,680.7 787.1,683.6 788.5,686.5 789.9,689.3 791.2,692.2 792.6,695.1 793.9,697.7 795.3,700.1 796.7,702.5 798.0,704.9 799.4,707.4 800.7,710.0 802.1,712.7 803.5,715.1 804.8,716.9 806.2,718.3 807.5,720.3 808.9,722.7 810.3,724.9 811.6,726.9 813.0,728.7 814.3,730.5 815.7,732.1 817.1,733.5 818.4,734.5 819.8,735.2 821.1,735.9 822.5,737.0 823.9,738.6 825.2,740.4 826.6,741.7 827.9,742.2 829.3,742.6 830.7,743.4 832.0,744.6 833.4,745.9 834.7,746.9 836.1,747.5 837.5,748.1 838.8,749.0 840.2,750.1 841.5,751.2 842.9,752.2 844.3,752.8 845.6,753.3 847.0,754.3 848.3,755.8 849.7,757.4 851.1,758.5 852.4,759.3 853.8,760.1 855.1,761.3 856.5,762.4 857.9,763.4 859.2,764.4 860.6,765.3 861.9,766.4 863.3,767.7 864.7,769.0 866.0,770.5 867.4,772.2 868.7,774.1 870.1,776.0 871.5,777.9 872.8,779.6 874.2,781.4 875.5,783.5 876.9,785.5 878.3,787.1 879.6,788.7 881.0,790.5 882.3,792.5 883.7,794.3 885.1,796.1 886.4,797.9 887.8,799.8 889.1,801.5 890.5,802.8 891.9,803.8 893.2,805.1 894.6,807.0 895.9,809.5 897.3,811.8 898.7,813.6 900.0,815.1 901.4,816.3 902.7,817.4 904.1,818.3 905.5,819.4 906.8,820.9 908.2,822.8 909.5,824.8 910.9,826.4 912.3,827.6 913.6,828.6 915.0,829.5 916.3,830.3 917.7,831.2 919.1,832.4 920.4,833.8 921.8,835.4 923.1,836.9 924.5,838.3 925.9,839.6 927.2,840.7 928.6,841.8 929.9,842.7 931.3,843.6 932.7,844.6 934.0,845.5 935.4,846.2 936.7,847.1 938.1,848.2 939.5,849.4 940.8,850.5 942.2,851.4 943.5,852.1 944.9,852.8 946.3,853.5 947.6,854.0 949.0,854.5 950.3,855.2 951.7,856.1 953.1,856.7 954.4,857.2 955.8,857.6 957.1,857.9 958.5,858.3 959.9,859.0 961.2,859.8 962.6,860.4 963.9,860.8 965.3,861.3 966.7,862.1 968.0,863.2 969.4,864.0 970.7,864.3 972.1,864.8 973.5,865.5 974.8,866.1 976.2,866.5 977.5,867.2 978.9,868.0 980.3,868.7 981.6,869.3 983.0,869.9 984.3,870.4 985.7,871.1 987.1,872.0 988.4,873.0 989.8,874.1 991.1,874.7 992.5,875.3 993.9,876.0 995.2,876.8 996.6,877.4 997.9,877.7 999.3,878.0 1000.7,878.3 1002.0,878.5 1003.4,878.9 1004.7,879.3 1006.1,879.6 1007.5,879.6 1008.8,879.7 1010.2,880.1 1011.5,880.8 1012.9,881.3 1014.3,881.5 1015.6,881.7 1017.0,882.1 1018.3,882.7 1019.7,883.2 1021.1,883.6 1022.4,884.1 1023.8,884.9 1025.1,885.6 1026.5,886.4 1027.9,887.4 1029.2,888.4 1030.6,889.1 1031.9,889.5 1033.3,889.9 1034.7,890.3 1036.0,891.0 1037.4,892.1 1038.7,893.2 1040.1,894.0 1041.5,894.6 1042.8,895.2 1044.2,895.7 1045.5,896.2 1046.9,896.8 1048.3,897.3 1049.6,898.0 1051.0,898.8 1052.3,899.5 1053.7,900.1 1055.1,900.8 1056.4,901.6 1057.8,902.2 1059.1,902.6 1060.5,903.1 1061.9,903.9 1063.2,904.7 1064.6,905.5 1065.9,906.3 1067.3,906.9 1068.7,907.3 1070.0,907.7 1071.4,908.3 1072.7,909.2 1074.1,910.3 1075.5,911.1 1076.8,911.5 1078.2,911.5 1079.5,911.6 1080.9,911.6 1082.3,911.8 1083.6,912.0 1085.0,912.4 1086.3,912.9 1087.7,913.3 1089.1,913.4 1090.4,913.3 1091.8,913.3 1093.1,913.4 1094.5,913.5 1095.9,913.8 1097.2,914.3 1098.6,914.5 1099.9,914.4 1101.3,914.5 1102.7,915.1 1104.0,915.8 1105.4,916.1 1106.7,916.3 1108.1,916.5 1109.5,916.8 1110.8,917.2 1112.2,917.5 1113.5,917.7 1114.9,917.6 1116.3,917.5 1117.6,917.7 1119.0,918.0 1120.3,918.2 1121.7,918.4 1123.1,918.7 1124.4,919.0 1125.8,919.4 1127.1,919.5 1128.5,919.8 1129.9,920.3 1131.2,920.8 1132.6,921.0 1133.9,921.0 1135.3,921.2 1136.7,921.8 1138.0,922.4 1139.4,922.8 1140.7,922.7 1142.1,922.5 1143.5,922.7 1144.8,923.4 1146.2,924.3 1147.5,925.1 1148.9,925.5 1150.3,925.5 1151.6,925.4 1153.0,925.6 1154.3,926.1 1155.7,926.7 1157.1,927.1 1158.4,927.3 1159.8,927.5 1161.1,927.6 1162.5,927.7 1163.9,927.9 1165.2,928.0 1166.6,927.9 1167.9,928.1 1169.3,928.6 1170.7,929.2 1172.0,929.6 1173.4,929.8 1174.7,930.0 1176.1,930.4 1177.5,930.7 1178.8,930.7 1180.2,930.8 1181.5,931.2 1182.9,931.9 1184.3,932.3 1185.6,932.5 1187.0,932.7 1188.3,932.9 1189.7,932.8 1191.1,932.8 1192.4,932.9 1193.8,933.4 1195.1,934.0 1196.5,934.7 1197.9,935.1 1199.2,935.3 1200.6,935.4 1201.9,935.7 1203.3,936.3 1204.7,936.7 1206.0,937.0 1207.4,937.3 1208.7,937.6 1210.1,937.6 1211.5,937.3 1212.8,936.9 1214.2,937.0 1215.5,937.6 1216.9,938.1 1218.3,938.6 1219.6,939.0 1221.0,939.1 1222.3,939.0 1223.7,939.4 1225.1,940.0 1226.4,940.2 1227.8,940.0 1229.1,939.9 1230.5,939.9 1231.9,939.9 1233.2,940.0 1234.6,940.5 1235.9,941.3 1237.3,942.1 1238.7,942.6 1240.0,942.8 1241.4,942.9 1242.7,942.9 1244.1,942.8 1245.5,942.7 1246.8,942.9 1248.2,943.1 1249.5,943.4 1250.9,943.8 1252.3,944.4 1253.6,944.5 1255.0,944.3 1256.3,944.3 1257.7,944.5 1259.1,944.8 1260.4,945.0 1261.8,945.4 1263.1,946.0 1264.5,946.6 1265.9,947.2 1267.2,947.5 1268.6,947.6 1269.9,947.8 1271.3,948.0 1272.7,947.7 1274.0,947.2 1275.4,947.0 1276.7,947.0 1278.1,947.2 1279.5,947.4 1280.8,947.6 1282.2,947.7 1283.5,947.8 1284.9,947.9 1286.3,948.1 1287.6,948.4 1289.0,948.5 1290.3,948.4 1291.7,948.4 1293.1,948.6 1294.4,948.7 1295.8,948.9 1297.1,949.2 1298.5,949.2 1299.9,949.0 1301.2,949.1 1302.6,949.6 1303.9,950.3 1305.3,950.7 1306.7,950.9 1308.0,951.0 1309.4,951.0 1310.7,951.1 1312.1,951.4 1313.5,951.9 1314.8,952.2 1316.2,952.4 1317.5,952.7 1318.9,952.8 1320.3,952.7 1321.6,952.8 1323.0,952.9 1324.3,952.9 1325.7,952.9 1327.1,953.0 1328.4,953.2 1329.8,953.5 1331.1,953.7 1332.5,953.6 1333.9,953.5 1335.2,953.7 1336.6,954.1 1337.9,954.6 1339.3,955.2 1340.7,955.5 1342.0,955.5 1343.4,955.4 1344.7,955.5 1346.1,955.6 1347.5,955.8 1348.8,956.0 1350.2,956.2 1351.5,956.3 1352.9,956.4 1354.3,956.4 1355.6,956.5 1357.0,956.7 1358.3,957.0 1359.7,957.4 1361.1,957.4 1362.4,957.4 1363.8,957.5 1365.1,957.4 1366.5,957.5 1367.9,958.3 1369.2,959.4 1370.6,960.1 1371.9,960.4 1373.3,960.3 1374.7,960.2 1376.0,960.3 1377.4,960.8 1378.7,961.3 1380.1,961.3 1381.5,960.9 1382.8,960.5 1384.2,960.7 1385.5,961.1 1386.9,961.6 1388.3,962.0 1389.6,962.3 1391.0,962.6 1392.3,963.0 1393.7,963.3 1395.1,963.8 1396.4,964.3 1397.8,964.3 1399.1,964.2 1400.5,964.4 1401.9,964.7 1403.2,964.5 1404.6,964.2 1405.9,964.2 1407.3,964.7 1408.7,965.4 1410.0,965.7 1411.4,965.9 1412.7,966.1 1414.1,966.3 1415.5,966.4 1416.8,966.6 1418.2,966.6 1419.5,966.9 1420.9,967.7 1422.3,968.3 1423.6,968.5 1425.0,968.3 1426.3,968.3 1427.7,968.8 1429.1,969.4 1430.4,969.6 1431.8,969.5 1433.1,969.3 1434.5,969.3 1435.9,969.0 1437.2,968.6 1438.6,968.4 1439.9,968.8 1441.3,969.5 1442.7,969.9 1444.0,970.1 1445.4,970.2 1446.7,970.5 1448.1,970.8 1449.5,971.1 1450.8,971.3 1452.2,971.3 1453.5,971.4 1454.9,971.5 1456.3,971.8 1457.6,972.2 1459.0,972.4 1460.3,972.4 1461.7,972.3 1463.1,972.2 1464.4,972.3 1465.8,972.5 1467.1,972.6 1468.5,972.5 1469.9,972.7 1471.2,973.1 1472.6,973.7 1473.9,974.1 1475.3,974.1 1476.7,973.7 1478.0,973.3 1479.4,973.2 1480.7,973.4 1482.1,974.0 1483.5,974.7 1484.8,975.0 1486.2,974.9 1487.5,974.8 1488.9,974.8 1490.3,975.1 1491.6,975.6 1493.0,976.2 1494.3,976.6 1495.7,976.6 1497.1,976.7 1498.4,976.8 1499.8,977.0 1501.1,977.1 1502.5,977.1 1503.9,977.2 1505.2,977.3 1506.6,977.7 1507.9,978.3 1509.3,978.8 1510.7,979.0 1512.0,978.6 1513.4,977.9 1514.7,977.7 1516.1,978.1 1517.5,978.7 1518.8,979.1 1520.2,979.2 1521.5,979.4 1522.9,980.0 1524.3,980.8 1525.6,981.4 1527.0,981.8 1528.3,982.1 1529.7,982.1 1531.1,982.0 1532.4,981.8 1533.8,982.0 1535.1,982.7 1536.5,983.3 1537.9,983.5 1539.2,983.3 1540.6,982.9 1541.9,982.8 1543.3,983.2 1544.7,983.7 1546.0,983.8 1547.4,983.6 1548.7,983.7 1550.1,984.3 1551.5,984.7 1552.8,985.0 1554.2,985.5 1555.5,986.1 1556.9,986.6 1558.3,986.9 1559.6,987.1 1561.0,987.4 1562.3,987.9 1563.7,988.2 1565.1,988.1 1566.4,987.6 1567.8,987.4 1569.1,987.6 1570.5,987.9 1571.9,988.2 1573.2,988.5 1574.6,988.9 1575.9,989.1 1577.3,989.3 1578.7,989.4 1580.0,989.5 1581.4,989.7 1582.7,990.1 1584.1,990.5 1585.5,990.7 1586.8,990.9 1588.2,991.1 1589.5,991.0 1590.9,990.7 1592.3,990.4 1593.6,990.2 1595.0,990.5 1596.3,990.9 1597.7,991.4 1599.1,991.6 1600.4,991.5 1601.8,991.8 1603.1,992.3 1604.5,992.6 1605.9,992.3 1607.2,991.8 1608.6,991.8 1609.9,992.2 1611.3,992.8 1612.7,993.1 1614.0,993.2 1615.4,993.1 1616.7,993.0 1618.1,992.9 1619.5,992.8 1620.8,992.8 1622.2,992.9 1623.5,992.9 1624.9,992.8 1626.3,992.7 1627.6,992.9 1629.0,993.3 1630.3,993.5 1631.7,993.5 1633.1,993.6 1634.4,994.0 1635.8,994.4 1637.1,994.5 1638.5,994.6 1639.9,994.6 1641.2,994.6 1642.6,994.7 1643.9,994.9 1645.3,995.2 1646.7,995.3 1648.0,995.3 1649.4,995.6 1650.7,996.1 1652.1,996.3 1653.5,996.0 1654.8,995.8 1656.2,995.8 1657.5,996.0 1658.9,996.0 1660.3,995.9 1661.6,995.9 1663.0,996.3 1664.3,996.9 1665.7,997.3 1667.1,997.2 1668.4,997.2 1669.8,997.1 1671.1,996.9 1672.5,996.9 1673.9,997.2 1675.2,997.5 1676.6,997.6 1677.9,997.6 1679.3,997.4 1680.7,997.1 1682.0,997.4 1683.4,998.0 1684.7,998.4 1686.1,998.3 1687.5,998.2 1688.8,998.2 1690.2,998.0 1691.5,998.0 1692.9,998.3 1694.3,998.9 1695.6,999.6 1697.0,999.6 1698.3,999.0 1699.7,998.4 1701.1,998.4 1702.4,998.6 1703.8,999.0 1705.1,999.5 1706.5,999.5 1707.9,999.1 1709.2,998.9 1710.6,999.4 1711.9,1000.2 1713.3,1000.4 1714.7,1000.1 1716.0,1000.1 1717.4,1000.8 1718.7,1001.5 1720.1,1001.9 1721.5,1002.0 1722.8,1002.0 1724.2,1002.0 1725.5,1002.2 1726.9,1002.4 1728.3,1002.2 1729.6,1001.8 1731.0,1001.6 1732.3,1001.9 1733.7,1002.4 1735.1,1002.9 1736.4,1003.3 1737.8,1003.9 1739.1,1004.2 1740.5,1003.8 1741.9,1003.3 1743.2,1003.0 1744.6,1003.0 1745.9,1003.1 1747.3,1003.3 1748.7,1003.8 1750.0,1004.3 1751.4,1004.7 1752.7,1005.2 1754.1,1005.8 1755.5,1006.1 1756.8,1006.1 1758.2,1006.1 1759.5,1006.3 1760.9,1006.7 1762.3,1006.9 1763.6,1006.7 1765.0,1006.5 1766.3,1006.8 1767.7,1007.3 1769.1,1007.4 1770.4,1007.3 1771.8,1007.1 1773.1,1007.0 1774.5,1006.9 1775.9,1006.9 1777.2,1007.1 1778.6,1007.3 1779.9,1007.6 1781.3,1007.9 1782.7,1008.3 1784.0,1008.7 1785.4,1009.1 1786.7,1009.4 1788.1,1009.6 1789.5,1009.6 1790.8,1009.4 1792.2,1009.2 1793.5,1009.1 1794.9,1009.0 1796.3,1009.2 1797.6,1009.5 1799.0,1009.7 1800.3,1009.7 1801.7,1009.8 1803.1,1010.0 1804.4,1010.1 1805.8,1010.3 1807.1,1010.4 1808.5,1010.4 1809.9,1010.0 1811.2,1009.6 1812.6,1009.4 1813.9,1009.7 1815.3,1010.3 1816.7,1010.8 1818.0,1010.8 1819.4,1010.4 1820.7,1010.5 1822.1,1011.2 1823.5,1011.8 1824.8,1012.1 1826.2,1012.2 1827.5,1012.4 1828.9,1012.6 1830.3,1012.7 1831.6,1012.3 1833.0,1011.9 1834.3,1011.7 1835.7,1011.8 1837.1,1011.9 1838.4,1012.0 1839.8,1012.1 1841.1,1012.3 1842.5,1012.5 1843.9,1012.4 1845.2,1012.4 1846.6,1012.7 1847.9,1013.4 1849.3,1014.1 1850.7,1014.3 1852.0,1014.1 1853.4,1013.6 1854.7,1013.1 1856.1,1012.9 1857.5,1012.9 1858.8,1013.0 1860.2,1013.4 1861.5,1013.8 1862.9,1013.9 1864.3,1014.1 1865.6,1014.4 1867.0,1014.4 1868.3,1014.1 1869.7,1014.1 1871.1,1014.3 1872.4,1014.6 1873.8,1014.9 1875.1,1014.9 1876.5,1015.0 1877.9,1015.0 1879.2,1014.8 1880.6,1014.8 1881.9,1014.9 1883.3,1014.8 1884.7,1014.7 1886.0,1014.9 1887.4,1015.3 1888.7,1015.8 1890.1,1016.3 1891.5,1016.5 1892.8,1016.4 1894.2,1016.3 1895.5,1016.2 1896.9,1016.3 1898.3,1016.4 1899.6,1016.8 1901.0,1017.0 1902.3,1017.0 1903.7,1017.1 1905.1,1017.6 1906.4,1017.9 1907.8,1017.6 1909.1,1017.1 1910.5,1017.1 1911.9,1017.3 1913.2,1017.5 1914.6,1017.6 1915.9,1017.7 1917.3,1017.7 1918.7,1017.7 1920.0,1017.8 1921.4,1018.1 1922.7,1018.4 1924.1,1018.4 1925.5,1018.2 1926.8,1018.1 1928.2,1018.2 1929.5,1018.6 1930.9,1018.9 1932.3,1018.9 1933.6,1018.8 1935.0,1018.8 1936.3,1019.0 1937.7,1019.3 1939.1,1019.3 1940.4,1018.9 1941.8,1018.9 1943.1,1019.1 1944.5,1019.3 1945.9,1019.5 1947.2,1019.9 1948.6,1020.5 1949.9,1021.2 1951.3,1021.2 1952.7,1020.7 1954.0,1020.2 1955.4,1020.2 1956.7,1020.4 1958.1,1020.6 1959.5,1020.6 1960.8,1020.4 1962.2,1020.5 1963.5,1020.7 1964.9,1021.0 1966.3,1021.1 1967.6,1020.9 1969.0,1020.7 1970.3,1020.4 1971.7,1020.1 1973.1,1020.2 1974.4,1020.9 1975.8,1021.7 1977.1,1022.3 1978.5,1022.6" stroke="#e56dc4"/>
<path d="M74.5,1027.9 75.9,1027.9 77.2,1028.1 78.6,1028.8 79.9,1029.5 81.3,1030.0 82.7,1030.1 84.0,1029.7 85.4,1029.1 86.7,1028.5 88.1,1028.2 89.5,1028.2 90.8,1028.2 92.2,1028.1 93.5,1028.0 94.9,1028.0 96.3,1028.2 97.6,1028.4 99.0,1028.4 100.3,1028.4 101.7,1028.6 103.1,1028.8 104.4,1029.1 105.8,1029.2 107.1,1028.8 108.5,1028.1 109.9,1027.9 111.2,1028.3 112.6,1028.7 113.9,1028.7 115.3,1028.6 116.7,1028.4 118.0,1028.3 119.4,1028.1 120.7,1027.6 122.1,1027.3 123.5,1027.7 124.8,1028.4 126.2,1028.9 127.5,1029.2 128.9,1029.6 130.3,1029.7 131.6,1029.5 133.0,1029.1 134.3,1028.8 135.7,1028.5 137.1,1028.4 138.4,1028.5 139.8,1029.0 141.1,1029.3 142.5,1029.2 143.9,1028.7 145.2,1028.5 146.6,1028.6 147.9,1028.7 149.3,1028.7 150.7,1028.7 152.0,1029.0 153.4,1029.2 154.7,1029.1 156.1,1028.6 157.5,1028.1 158.8,1027.9 160.2,1028.2 161.5,1028.3 162.9,1028.1 164.3,1027.8 165.6,1027.5 167.0,1027.2 168.3,1027.2 169.7,1027.6 171.1,1028.4 172.4,1029.0 173.8,1029.1 175.1,1028.9 176.5,1028.8 177.9,1028.6 179.2,1028.5 180.6,1028.6 181.9,1029.0 183.3,1029.2 184.7,1028.8 186.0,1028.6 187.4,1029.1 188.7,1029.7 190.1,1029.9 191.5,1030.0 192.8,1029.7 194.2,1029.1 195.5,1028.5 196.9,1027.9 198.3,1027.5 199.6,1027.3 201.0,1027.5 202.3,1028.0 203.7,1028.3 205.1,1028.5 206.4,1028.5 207.8,1028.4 209.1,1028.4 210.5,1028.4 211.9,1028.3 213.2,1028.3 214.6,1028.1 215.9,1027.8 217.3,1027.6 218.7,1028.0 220.0,1028.8 221.4,1029.4 222.7,1029.7 224.1,1029.5 225.5,1029.4 226.8,1029.3 228.2,1029.2 229.5,1029.0 230.9,1028.8 232.3,1028.8 233.6,1028.9 235.0,1028.9 236.3,1028.6 237.7,1028.4 239.1,1028.7 240.4,1029.1 241.8,1029.0 243.1,1028.4 244.5,1027.9 245.9,1028.0 247.2,1028.2 248.6,1028.0 249.9,1027.8 251.3,1027.8 252.7,1027.9 254.0,1028.3 255.4,1028.6 256.7,1028.4 258.1,1028.0 259.5,1027.9 260.8,1028.1 262.2,1028.4 263.5,1028.6 264.9,1028.8 266.3,1028.6 267.6,1028.5 269.0,1028.6 270.3,1028.7 271.7,1028.4 273.1,1028.0 274.4,1027.6 275.8,1027.2 277.1,1026.9 278.5,1027.1 279.9,1027.4 281.2,1027.2 282.6,1026.4 283.9,1025.7 285.3,1025.3 286.7,1024.8 288.0,1024.0 289.4,1022.9 290.7,1021.6 292.1,1020.2 293.5,1018.4 294.8,1016.1 296.2,1013.3 297.5,1010.5 298.9,1007.9 300.3,1005.3 301.6,1002.5 303.0,999.2 304.3,995.8 305.7,992.0 307.1,987.7 308.4,983.3 309.8,979.2 311.1,975.9 312.5,973.2 313.9,970.4 315.2,967.3 316.6,964.0 317.9,960.4 319.3,956.7 320.7,953.2 322.0,950.4 323.4,947.8 324.7,944.8 326.1,941.3 327.5,938.2 328.8,935.3 330.2,932.2 331.5,928.8 332.9,925.4 334.3,921.8 335.6,918.0 337.0,914.6 338.3,911.6 339.7,909.0 341.1,906.3 342.4,903.2 343.8,899.8 345.1,896.6 346.5,893.8 347.9,890.8 349.2,887.6 350.6,884.4 351.9,881.7 353.3,879.7 354.7,878.1 356.0,876.3 357.4,874.3 358.7,872.0 360.1,869.8 361.5,867.9 362.8,866.2 364.2,864.3 365.5,862.3 366.9,860.6 368.3,858.9 369.6,857.1 371.0,855.1 372.3,853.4 373.7,852.0 375.1,850.5 376.4,848.7 377.8,846.7 379.1,844.9 380.5,843.3 381.9,842.0 383.2,840.8 384.6,839.7 385.9,838.5 387.3,837.3 388.7,835.8 390.0,833.8 391.4,831.8 392.7,830.1 394.1,828.6 395.5,826.9 396.8,825.2 398.2,823.4 399.5,821.4 400.9,819.4 402.3,818.0 403.6,816.8 405.0,815.2 406.3,813.2 407.7,811.3 409.1,809.4 410.4,807.5 411.8,805.3 413.1,803.0 414.5,800.4 415.9,797.4 417.2,794.5 418.6,791.7 419.9,788.9 421.3,786.1 422.7,783.1 424.0,779.4 425.4,775.0 426.7,770.5 428.1,765.9 429.5,761.1 430.8,756.4 432.2,752.0 433.5,747.2 434.9,741.8 436.3,736.1 437.6,730.1 439.0,723.8 440.3,717.5 441.7,711.8 443.1,707.0 444.4,702.0 445.8,695.8 447.1,689.1 448.5,682.1 449.9,674.8 451.2,666.7 452.6,658.2 453.9,649.5 455.3,640.4 456.7,630.7 458.0,620.6 459.4,610.4 460.7,600.2 462.1,589.3 463.5,577.8 464.8,566.3 466.2,555.2 467.5,544.5 468.9,533.9 470.3,523.6 471.6,513.4 473.0,503.3 474.3,493.4 475.7,483.7 477.1,474.0 478.4,464.3 479.8,454.9 481.1,445.1 482.5,434.9 483.9,424.4 485.2,414.1 486.6,404.0 487.9,394.0 489.3,384.1 490.7,374.8 492.0,366.1 493.4,358.3 494.7,351.5 496.1,345.5 497.5,339.9 498.8,334.4 500.2,328.9 501.5,323.4 502.9,318.2 504.3,313.3 505.6,308.6 507.0,304.3 508.3,300.5 509.7,296.9 511.1,293.0 512.4,288.8 513.8,284.9 515.1,282.3 516.5,280.5 517.9,279.1 519.2,277.8 520.6,276.0 521.9,273.7 523.3,271.5 524.7,269.9 526.0,268.5 527.4,266.9 528.7,264.3 530.1,261.0 531.5,257.6 532.8,254.4 534.2,251.0 535.5,247.9 536.9,245.9 538.3,245.1 539.6,245.0 541.0,245.0 542.3,245.1 543.7,245.8 545.1,247.3 546.4,249.5 547.8,252.6 549.1,256.6 550.5,261.2 551.9,266.4 553.2,272.5 554.6,277.1 555.9,279.9 557.3,281.8 558.7,283.3 560.0,285.0 561.4,286.4 562.7,286.8 564.1,286.0 565.5,285.0 566.8,284.2 568.2,283.9 569.5,284.0 570.9,283.9 572.3,283.2 573.6,282.0 575.0,279.5 576.3,276.9 577.7,275.1 579.1,274.0 580.4,273.2 581.8,273.3 583.1,275.2 584.5,278.7 585.9,284.2 587.2,291.1 588.6,298.8 589.9,307.4 591.3,317.1 592.7,330.8 594.0,347.0 595.4,353.8 596.7,344.0 598.1,329.6 599.5,322.6 600.8,317.8 602.2,314.2 603.5,311.1 604.9,308.1 606.3,305.6 607.6,303.8 609.0,302.6 610.3,301.9 611.7,300.7 613.1,297.8 614.4,292.2 615.8,282.3 617.1,270.3 618.5,259.9 619.9,251.5 621.2,250.8 622.6,263.6 623.9,280.7 625.3,299.6 626.7,301.1 628.0,298.4 629.4,296.6 630.7,295.3 632.1,294.7 633.5,295.6 634.8,298.5 636.2,302.4 637.5,306.3 638.9,310.0 640.3,313.0 641.6,315.3 643.0,317.5 644.3,320.2 645.7,323.3 647.1,326.6 648.4,330.0 649.8,333.2 651.1,336.4 652.5,339.9 653.9,343.7 655.2,347.6 656.6,351.5 657.9,355.4 659.3,359.4 660.7,363.8 662.0,368.6 663.4,373.6 664.7,378.6 666.1,383.9 667.5,389.3 668.8,394.7 670.2,400.2 671.5,405.7 672.9,411.0 674.3,416.0 675.6,420.8 677.0,425.7 678.3,430.6 679.7,435.3 681.1,440.1 682.4,444.8 683.8,449.3 685.1,453.7 686.5,458.0 687.9,462.2 689.2,466.6 690.6,471.2 691.9,475.4 693.3,479.2 694.7,482.8 696.0,486.5 697.4,490.4 698.7,494.7 700.1,499.3 701.5,504.0 702.8,508.1 704.2,511.6 705.5,515.0 706.9,518.8 708.3,522.4 709.6,525.5 711.0,528.0 712.3,530.5 713.7,533.2 715.1,536.2 716.4,538.9 717.8,541.1 719.1,543.0 720.5,544.8 721.9,546.6 723.2,548.4 724.6,550.3 725.9,552.1 727.3,553.9 728.7,555.5 730.0,556.7 731.4,557.6 732.7,558.9 734.1,560.4 735.5,561.8 736.8,563.2 738.2,564.7 739.5,566.1 740.9,567.2 742.3,568.4 743.6,569.8 745.0,571.5 746.3,573.6 747.7,575.8 749.1,578.2 750.4,580.9 751.8,584.0 753.1,587.2 754.5,590.3 755.9,593.1 757.2,595.8 758.6,598.6 759.9,601.3 761.3,603.9 762.7,605.9 764.0,607.9 765.4,610.2 766.7,612.8 768.1,615.2 769.5,617.3 770.8,619.5 772.2,621.8 773.5,624.1 774.9,626.5 776.3,629.0 777.6,631.6 779.0,634.3 780.3,637.1 781.7,640.2 783.1,643.1 784.4,645.6 785.8,648.1 787.1,651.6 788.5,656.0 789.9,660.1 791.2,663.4 792.6,666.4 793.9,669.7 795.3,673.0 796.7,676.1 798.0,678.6 799.4,680.8 800.7,683.2 802.1,685.6 803.5,688.1 804.8,690.5 806.2,692.8 807.5,694.9 808.9,697.3 810.3,699.8 811.6,701.8 813.0,702.9 814.3,703.7 815.7,705.0 817.1,707.0 818.4,709.6 819.8,711.8 821.1,713.3 822.5,714.4 823.9,715.7 825.2,716.9 826.6,717.9 827.9,718.8 829.3,719.5 830.7,720.1 832.0,721.0 833.4,722.2 834.7,723.4 836.1,724.2 837.5,725.1 838.8,726.4 840.2,727.9 841.5,729.7 842.9,731.4 844.3,732.8 845.6,733.9 847.0,734.7 848.3,736.0 849.7,737.6 851.1,738.9 852.4,740.1 853.8,741.5 855.1,743.1 856.5,744.3 857.9,745.2 859.2,746.2 860.6,747.6 861.9,749.2 863.3,751.0 864.7,752.6 866.0,754.0 867.4,755.6 868.7,757.5 870.1,759.6 871.5,761.3 872.8,762.5 874.2,763.8 875.5,765.4 876.9,767.4 878.3,769.3 879.6,770.9 881.0,772.6 882.3,774.6 883.7,776.8 885.1,778.6 886.4,780.0 887.8,781.5 889.1,783.5 890.5,786.2 891.9,788.6 893.2,790.2 894.6,791.3 895.9,792.4 897.3,793.8 898.7,795.7 900.0,798.0 901.4,800.3 902.7,802.3 904.1,804.1 905.5,805.9 906.8,807.7 908.2,809.2 909.5,810.8 910.9,812.8 912.3,815.0 913.6,817.1 915.0,818.8 916.3,820.2 917.7,821.8 919.1,823.6 920.4,825.3 921.8,826.7 923.1,828.0 924.5,829.3 925.9,830.3 927.2,831.1 928.6,832.2 929.9,833.5 931.3,834.9 932.7,836.2 934.0,837.2 935.4,837.7 936.7,838.1 938.1,838.6 939.5,839.5 940.8,840.5 942.2,841.4 943.5,842.1 944.9,842.8 946.3,843.7 947.6,844.8 949.0,845.8 950.3,846.7 951.7,847.4 953.1,847.7 954.4,847.8 955.8,848.4 957.1,849.4 958.5,850.6 959.9,851.5 961.2,851.9 962.6,851.8 963.9,851.6 965.3,851.9 966.7,852.6 968.0,853.5 969.4,854.3 970.7,855.4 972.1,856.5 973.5,857.6 974.8,858.4 976.2,858.9 977.5,859.2 978.9,859.6 980.3,860.3 981.6,861.1 983.0,862.0 984.3,862.7 985.7,863.4 987.1,864.5 988.4,865.8 989.8,866.7 991.1,867.2 992.5,867.7 993.9,868.1 995.2,868.3 996.6,868.6 997.9,869.0 999.3,869.4 1000.7,870.1 1002.0,870.9 1003.4,871.7 1004.7,872.4 1006.1,873.2 1007.5,874.0 1008.8,874.6 1010.2,875.2 1011.5,876.0 1012.9,877.2 1014.3,878.4 1015.6,879.5 1017.0,880.0 1018.3,880.4 1019.7,880.7 1021.1,881.0 1022.4,881.5 1023.8,882.2 1025.1,882.7 1026.5,883.0 1027.9,883.5 1029.2,884.4 1030.6,885.3 1031.9,886.1 1033.3,886.7 1034.7,887.1 1036.0,887.4 1037.4,888.0 1038.7,888.8 1040.1,889.7 1041.5,890.6 1042.8,891.2 1044.2,891.4 1045.5,891.9 1046.9,892.8 1048.3,893.9 1049.6,895.2 1051.0,896.4 1052.3,897.1 1053.7,897.4 1055.1,897.6 1056.4,897.9 1057.8,898.2 1059.1,898.3 1060.5,898.8 1061.9,899.8 1063.2,900.9 1064.6,901.6 1065.9,901.9 1067.3,902.3 1068.7,902.8 1070.0,903.2 1071.4,903.7 1072.7,904.1 1074.1,904.4 1075.5,904.7 1076.8,905.0 1078.2,905.3 1079.5,905.6 1080.9,906.1 1082.3,906.6 1083.6,906.5 1085.0,905.9 1086.3,905.7 1087.7,906.2 1089.1,907.3 1090.4,908.2 1091.8,908.4 1093.1,908.6 1094.5,909.1 1095.9,910.0 1097.2,910.7 1098.6,911.4 1099.9,912.0 1101.3,912.2 1102.7,912.0 1104.0,911.3 1105.4,910.9 1106.7,911.0 1108.1,911.7 1109.5,912.6 1110.8,913.1 1112.2,913.5 1113.5,914.0 1114.9,914.4 1116.3,914.5 1117.6,914.6 1119.0,914.5 1120.3,914.2 1121.7,914.2 1123.1,914.5 1124.4,914.8 1125.8,915.1 1127.1,915.6 1128.5,916.1 1129.9,916.3 1131.2,916.4 1132.6,916.5 1133.9,916.8 1135.3,917.1 1136.7,917.4 1138.0,917.6 1139.4,917.6 1140.7,917.4 1142.1,917.5 1143.5,918.0 1144.8,918.5 1146.2,918.6 1147.5,918.6 1148.9,918.9 1150.3,919.3 1151.6,919.6 1153.0,919.8 1154.3,920.2 1155.7,920.8 1157.1,921.2 1158.4,921.6 1159.8,922.1 1161.1,922.6 1162.5,922.8 1163.9,922.9 1165.2,923.0 1166.6,922.9 1167.9,922.9 1169.3,923.2 1170.7,923.5 1172.0,923.6 1173.4,923.8 1174.7,924.2 1176.1,924.8 1177.5,925.4 1178.8,926.0 1180.2,926.4 1181.5,926.4 1182.9,926.3 1184.3,926.5 1185.6,927.1 1187.0,927.5 1188.3,927.6 1189.7,927.9 1191.1,928.4 1192.4,929.0 1193.8,929.4 1195.1,929.6 1196.5,929.4 1197.9,929.2 1199.2,929.3 1200.6,929.9 1201.9,930.6 1203.3,931.0 1204.7,931.3 1206.0,931.7 1207.4,932.2 1208.7,932.7 1210.1,933.0 1211.5,932.8 1212.8,932.5 1214.2,932.5 1215.5,932.9 1216.9,933.6 1218.3,934.1 1219.6,934.3 1221.0,934.6 1222.3,935.0 1223.7,935.0 1225.1,934.5 1226.4,933.9 1227.8,933.8 1229.1,934.1 1230.5,934.6 1231.9,935.2 1233.2,935.7 1234.6,936.0 1235.9,936.3 1237.3,936.7 1238.7,937.1 1240.0,937.3 1241.4,937.2 1242.7,937.2 1244.1,937.7 1245.5,938.2 1246.8,938.2 1248.2,937.9 1249.5,937.7 1250.9,937.8 1252.3,938.0 1253.6,938.4 1255.0,938.9 1256.3,939.1 1257.7,939.0 1259.1,938.8 1260.4,939.1 1261.8,939.7 1263.1,940.4 1264.5,940.7 1265.9,940.6 1267.2,940.5 1268.6,940.6 1269.9,941.0 1271.3,941.7 1272.7,942.4 1274.0,942.8 1275.4,942.7 1276.7,942.5 1278.1,942.4 1279.5,942.0 1280.8,941.7 1282.2,942.0 1283.5,942.6 1284.9,943.0 1286.3,943.3 1287.6,943.7 1289.0,944.0 1290.3,943.9 1291.7,943.8 1293.1,944.0 1294.4,944.5 1295.8,945.1 1297.1,945.1 1298.5,944.7 1299.9,944.4 1301.2,944.7 1302.6,945.3 1303.9,945.7 1305.3,945.9 1306.7,946.0 1308.0,946.0 1309.4,945.8 1310.7,945.7 1312.1,945.9 1313.5,946.3 1314.8,946.6 1316.2,946.8 1317.5,947.1 1318.9,947.4 1320.3,947.5 1321.6,947.4 1323.0,947.2 1324.3,947.0 1325.7,947.0 1327.1,947.3 1328.4,947.8 1329.8,948.2 1331.1,948.4 1332.5,948.7 1333.9,949.1 1335.2,949.5 1336.6,949.6 1337.9,949.5 1339.3,949.2 1340.7,949.3 1342.0,949.8 1343.4,950.5 1344.7,951.0 1346.1,951.3 1347.5,951.5 1348.8,951.5 1350.2,951.5 1351.5,951.7 1352.9,952.1 1354.3,952.6 1355.6,952.9 1357.0,952.9 1358.3,952.7 1359.7,952.5 1361.1,952.4 1362.4,952.4 1363.8,952.7 1365.1,953.3 1366.5,953.8 1367.9,954.0 1369.2,954.1 1370.6,954.4 1371.9,954.8 1373.3,955.3 1374.7,955.6 1376.0,955.6 1377.4,955.7 1378.7,955.9 1380.1,955.9 1381.5,955.7 1382.8,955.8 1384.2,956.2 1385.5,956.9 1386.9,957.3 1388.3,957.5 1389.6,957.7 1391.0,958.0 1392.3,958.3 1393.7,958.5 1395.1,958.5 1396.4,958.4 1397.8,958.1 1399.1,957.7 1400.5,957.5 1401.9,957.5 1403.2,957.9 1404.6,958.7 1405.9,959.5 1407.3,960.1 1408.7,960.2 1410.0,960.2 1411.4,960.3 1412.7,960.6 1414.1,960.8 1415.5,961.0 1416.8,961.0 1418.2,961.1 1419.5,961.5 1420.9,962.0 1422.3,962.5 1423.6,962.9 1425.0,963.0 1426.3,963.0 1427.7,962.8 1429.1,963.0 1430.4,963.5 1431.8,964.1 1433.1,964.6 1434.5,965.0 1435.9,965.1 1437.2,965.1 1438.6,965.4 1439.9,965.9 1441.3,966.1 1442.7,965.8 1444.0,965.7 1445.4,965.9 1446.7,966.4 1448.1,966.9 1449.5,967.2 1450.8,967.4 1452.2,967.7 1453.5,968.0 1454.9,968.0 1456.3,967.8 1457.6,967.7 1459.0,967.9 1460.3,968.3 1461.7,968.9 1463.1,969.0 1464.4,968.9 1465.8,968.7 1467.1,968.5 1468.5,968.8 1469.9,969.7 1471.2,970.2 1472.6,970.1 1473.9,970.1 1475.3,970.2 1476.7,970.3 1478.0,970.4 1479.4,970.5 1480.7,970.7 1482.1,971.0 1483.5,971.2 1484.8,971.2 1486.2,971.2 1487.5,971.2 1488.9,971.4 1490.3,971.6 1491.6,971.7 1493.0,972.0 1494.3,972.5 1495.7,972.8 1497.1,973.1 1498.4,973.0 1499.8,972.9 1501.1,972.9 1502.5,973.0 1503.9,973.2 1505.2,973.5 1506.6,973.8 1507.9,973.8 1509.3,973.8 1510.7,974.0 1512.0,974.3 1513.4,974.7 1514.7,975.0 1516.1,975.3 1517.5,975.7 1518.8,976.1 1520.2,976.3 1521.5,976.4 1522.9,976.6 1524.3,976.7 1525.6,976.8 1527.0,976.7 1528.3,976.6 1529.7,976.7 1531.1,977.1 1532.4,977.4 1533.8,977.7 1535.1,978.4 1536.5,979.1 1537.9,979.7 1539.2,979.9 1540.6,979.8 1541.9,979.6 1543.3,979.3 1544.7,979.2 1546.0,979.4 1547.4,979.7 1548.7,979.8 1550.1,979.9 1551.5,980.3 1552.8,980.8 1554.2,981.1 1555.5,981.2 1556.9,981.6 1558.3,982.0 1559.6,981.9 1561.0,981.7 1562.3,982.0 1563.7,982.7 1565.1,983.0 1566.4,982.9 1567.8,982.7 1569.1,982.8 1570.5,983.1 1571.9,983.5 1573.2,983.9 1574.6,984.3 1575.9,984.7 1577.3,984.9 1578.7,984.9 1580.0,985.1 1581.4,985.2 1582.7,985.3 1584.1,985.4 1585.5,985.6 1586.8,986.0 1588.2,986.3 1589.5,986.3 1590.9,986.1 1592.3,985.7 1593.6,985.7 1595.0,986.1 1596.3,986.7 1597.7,987.0 1599.1,986.9 1600.4,986.7 1601.8,986.8 1603.1,987.1 1604.5,987.6 1605.9,987.8 1607.2,987.7 1608.6,987.5 1609.9,987.4 1611.3,987.3 1612.7,987.0 1614.0,986.7 1615.4,986.8 1616.7,987.4 1618.1,988.1 1619.5,988.6 1620.8,988.9 1622.2,989.1 1623.5,989.1 1624.9,989.3 1626.3,989.3 1627.6,989.3 1629.0,989.2 1630.3,988.9 1631.7,988.8 1633.1,989.1 1634.4,989.3 1635.8,989.2 1637.1,989.1 1638.5,989.6 1639.9,990.5 1641.2,991.3 1642.6,991.3 1643.9,990.8 1645.3,990.3 1646.7,990.2 1648.0,990.4 1649.4,990.7 1650.7,990.9 1652.1,991.0 1653.5,991.1 1654.8,991.2 1656.2,991.6 1657.5,992.0 1658.9,992.0 1660.3,991.8 1661.6,991.8 1663.0,992.2 1664.3,992.7 1665.7,993.2 1667.1,993.3 1668.4,993.2 1669.8,993.3 1671.1,993.7 1672.5,994.1 1673.9,994.0 1675.2,993.6 1676.6,993.2 1677.9,993.1 1679.3,993.4 1680.7,993.6 1682.0,993.8 1683.4,994.1 1684.7,994.6 1686.1,994.9 1687.5,994.9 1688.8,994.9 1690.2,994.8 1691.5,994.8 1692.9,994.9 1694.3,995.0 1695.6,995.0 1697.0,994.9 1698.3,995.0 1699.7,995.2 1701.1,995.6 1702.4,995.9 1703.8,996.1 1705.1,996.1 1706.5,996.2 1707.9,996.4 1709.2,996.5 1710.6,996.3 1711.9,996.4 1713.3,996.5 1714.7,996.5 1716.0,996.7 1717.4,997.0 1718.7,997.2 1720.1,997.6 1721.5,997.7 1722.8,997.4 1724.2,996.9 1725.5,996.7 1726.9,997.1 1728.3,998.0 1729.6,999.0 1731.0,999.4 1732.3,999.5 1733.7,999.8 1735.1,999.9 1736.4,999.9 1737.8,999.8 1739.1,999.6 1740.5,999.2 1741.9,998.9 1743.2,999.2 1744.6,999.7 1745.9,1000.0 1747.3,1000.4 1748.7,1000.7 1750.0,1000.9 1751.4,1001.1 1752.7,1001.2 1754.1,1001.1 1755.5,1001.1 1756.8,1001.2 1758.2,1001.2 1759.5,1001.4 1760.9,1002.0 1762.3,1002.6 1763.6,1003.0 1765.0,1002.9 1766.3,1002.6 1767.7,1002.3 1769.1,1002.4 1770.4,1003.2 1771.8,1004.4 1773.1,1005.2 1774.5,1005.3 1775.9,1005.3 1777.2,1005.2 1778.6,1004.9 1779.9,1004.7 1781.3,1005.2 1782.7,1005.9 1784.0,1006.4 1785.4,1006.3 1786.7,1006.1 1788.1,1005.9 1789.5,1005.8 1790.8,1005.7 1792.2,1005.9 1793.5,1006.4 1794.9,1007.0 1796.3,1007.6 1797.6,1008.1 1799.0,1008.2 1800.3,1007.9 1801.7,1007.8 1803.1,1008.0 1804.4,1008.3 1805.8,1008.7 1807.1,1008.9 1808.5,1009.2 1809.9,1009.3 1811.2,1009.2 1812.6,1009.3 1813.9,1009.8 1815.3,1010.1 1816.7,1010.0 1818.0,1009.8 1819.4,1009.7 1820.7,1009.7 1822.1,1009.9 1823.5,1010.0 1824.8,1010.3 1826.2,1010.5 1827.5,1010.2 1828.9,1009.8 1830.3,1009.7 1831.6,1009.7 1833.0,1009.9 1834.3,1010.1 1835.7,1010.4 1837.1,1010.5 1838.4,1010.4 1839.8,1010.4 1841.1,1010.8 1842.5,1011.2 1843.9,1011.5 1845.2,1011.8 1846.6,1012.0 1847.9,1011.9 1849.3,1011.8 1850.7,1011.7 1852.0,1011.8 1853.4,1012.1 1854.7,1012.6 1856.1,1012.9 1857.5,1012.8 1858.8,1012.5 1860.2,1012.1 1861.5,1012.1 1862.9,1012.6 1864.3,1013.2 1865.6,1013.3 1867.0,1013.1 1868.3,1012.9 1869.7,1013.1 1871.1,1013.3 1872.4,1013.1 1873.8,1013.0 1875.1,1013.6 1876.5,1014.3 1877.9,1014.6 1879.2,1014.3 1880.6,1013.9 1881.9,1014.0 1883.3,1014.3 1884.7,1014.5 1886.0,1014.6 1887.4,1014.7 1888.7,1014.9 1890.1,1015.2 1891.5,1015.7 1892.8,1016.0 1894.2,1015.9 1895.5,1015.5 1896.9,1015.2 1898.3,1015.0 1899.6,1014.8 1901.0,1014.6 1902.3,1014.7 1903.7,1014.9 1905.1,1014.7 1906.4,1014.4 1907.8,1014.5 1909.1,1015.2 1910.5,1015.8 1911.9,1016.1 1913.2,1016.2 1914.6,1016.3 1915.9,1016.3 1917.3,1016.5 1918.7,1016.8 1920.0,1017.3 1921.4,1017.5 1922.7,1017.3 1924.1,1016.9 1925.5,1016.6 1926.8,1016.5 1928.2,1016.6 1929.5,1016.9 1930.9,1017.4 1932.3,1017.8 1933.6,1018.1 1935.0,1018.3 1936.3,1018.4 1937.7,1018.5 1939.1,1018.6 1940.4,1018.7 1941.8,1018.7 1943.1,1018.5 1944.5,1018.1 1945.9,1017.8 1947.2,1018.2 1948.6,1018.8 1949.9,1019.1 1951.3,1019.1 1952.7,1019.0 1954.0,1019.3 1955.4,1019.5 1956.7,1019.2 1958.1,1018.8 1959.5,1018.5 1960.8,1018.3 1962.2,1018.2 1963.5,1018.5 1964.9,1018.8 1966.3,1019.2 1967.6,1019.4 1969.0,1019.6 1970.3,1020.0 1971.7,1020.3 1973.1,1019.9 1974.4,1019.2 1975.8,1019.0 1977.1,1019.6 1978.5,1020.3" stroke="#747474"/>
<path d="M74.5,1027.9 75.9,1027.9 77.2,1027.8 78.6,1027.6 79.9,1027.5 81.3,1027.5 82.7,1027.6 84.0,1027.8 85.4,1027.9 86.7,1027.8 88.1,1027.7 89.5,1027.8 90.8,1027.9 92.2,1027.7 93.5,1027.5 94.9,1027.6 96.3,1027.8 97.6,1027.9 99.0,1028.1 100.3,1028.3 101.7,1028.3 103.1,1028.2 104.4,1028.4 105.8,1028.9 107.1,1029.0 108.5,1028.5 109.9,1027.9 111.2,1027.7 112.6,1027.9 113.9,1027.9 115.3,1027.9 116.7,1028.2 118.0,1028.7 119.4,1029.1 120.7,1029.2 122.1,1029.0 123.5,1028.6 124.8,1028.4 126.2,1028.5 127.5,1028.7 128.9,1028.8 130.3,1028.7 131.6,1028.6 133.0,1028.5 134.3,1028.3 135.7,1028.0 137.1,1028.0 138.4,1028.2 139.8,1028.2 141.1,1027.9 142.5,1027.6 143.9,1027.3 145.2,1027.0 146.6,1026.9 147.9,1027.2 149.3,1027.5 150.7,1027.9 152.0,1028.1 153.4,1028.1 154.7,1027.9 156.1,1027.6 157.5,1027.4 158.8,1027.5 160.2,1027.7 161.5,1027.8 162.9,1027.7 164.3,1027.6 165.6,1027.5 167.0,1027.6 168.3,1027.9 169.7,1028.0 171.1,1027.6 172.4,1027.4 173.8,1027.6 175.1,1028.0 176.5,1028.2 177.9,1028.2 179.2,1028.1 180.6,1027.9 181.9,1027.6 183.3,1027.4 184.7,1027.8 186.0,1028.3 187.4,1028.3 188.7,1028.1 190.1,1027.9 191.5,1027.9 192.8,1028.2 194.2,1028.6 195.5,1028.7 196.9,1028.3 198.3,1027.6 199.6,1027.1 201.0,1026.8 202.3,1026.9 203.7,1027.2 205.1,1027.6 206.4,1028.0 207.8,1028.1 209.1,1027.7 210.5,1027.5 211.9,1027.6 213.2,1027.9 214.6,1027.9 215.9,1027.7 217.3,1027.5 218.7,1027.5 220.0,1027.3 221.4,1026.9 222.7,1026.5 224.1,1026.6 225.5,1027.1 226.8,1027.9 228.2,1028.8 229.5,1029.3 230.9,1029.4 232.3,1029.1 233.6,1028.7 235.0,1028.4 236.3,1028.3 237.7,1028.2 239.1,1027.9 240.4,1027.7 241.8,1027.9 243.1,1028.1 244.5,1028.1 245.9,1027.8 247.2,1027.6 248.6,1027.4 249.9,1027.4 251.3,1027.4 252.7,1027.2 254.0,1027.1 255.4,1027.5 256.7,1028.0 258.1,1028.2 259.5,1028.2 260.8,1028.0 262.2,1027.8 263.5,1027.6 264.9,1027.4 266.3,1027.4 267.6,1027.7 269.0,1028.3 270.3,1028.7 271.7,1028.9 273.1,1029.0 274.4,1029.7 275.8,1031.2 277.1,1034.4 278.5,1038.3 279.9,1042.3 281.2,1047.5 282.6,1052.9 283.9,1057.5 285.3,1060.3 286.7,1061.5 288.0,1061.9 289.4,1061.6 290.7,1060.7 292.1,1059.1 293.5,1056.0 294.8,1051.5 296.2,1046.7 297.5,1042.6 298.9,1039.1 300.3,1035.5 301.6,1032.3 303.0,1029.8 304.3,1027.5 305.7,1025.2 307.1,1022.5 308.4,1019.7 309.8,1016.6 311.1,1013.4 312.5,1010.1 313.9,1006.6 315.2,1003.1 316.6,999.5 317.9,996.0 319.3,992.5 320.7,989.1 322.0,985.5 323.4,981.8 324.7,978.2 326.1,974.6 327.5,971.1 328.8,967.6 330.2,964.3 331.5,961.1 332.9,957.7 334.3,953.9 335.6,950.3 337.0,947.0 338.3,943.8 339.7,940.1 341.1,936.0 342.4,931.8 343.8,927.8 345.1,924.1 346.5,920.3 347.9,916.3 349.2,912.1 350.6,907.8 351.9,903.5 353.3,899.0 354.7,894.7 356.0,890.8 357.4,887.2 358.7,883.6 360.1,879.9 361.5,876.2 362.8,872.6 364.2,869.2 365.5,866.3 366.9,864.0 368.3,861.9 369.6,859.6 371.0,857.0 372.3,854.6 373.7,852.3 375.1,850.3 376.4,848.5 377.8,846.7 379.1,844.8 380.5,842.8 381.9,841.0 383.2,839.3 384.6,837.3 385.9,835.3 387.3,833.4 388.7,831.7 390.0,830.3 391.4,828.9 392.7,827.4 394.1,825.4 395.5,823.3 396.8,821.5 398.2,820.2 399.5,818.8 400.9,817.0 402.3,814.9 403.6,812.6 405.0,810.4 406.3,808.1 407.7,805.6 409.1,803.2 410.4,801.0 411.8,798.6 413.1,796.0 414.5,793.0 415.9,789.6 417.2,785.9 418.6,782.3 419.9,779.2 421.3,776.2 422.7,772.6 424.0,767.9 425.4,762.8 426.7,757.8 428.1,752.7 429.5,747.2 430.8,741.3 432.2,735.2 433.5,729.1 434.9,723.1 436.3,717.2 437.6,711.1 439.0,704.5 440.3,697.2 441.7,689.2 443.1,680.7 444.4,671.6 445.8,661.7 447.1,651.1 448.5,640.3 449.9,629.7 451.2,619.1 452.6,608.3 453.9,597.2 455.3,586.1 456.7,574.9 458.0,563.7 459.4,552.8 460.7,542.6 462.1,532.5 463.5,522.4 464.8,512.2 466.2,502.0 467.5,492.1 468.9,483.2 470.3,474.8 471.6,466.0 473.0,456.0 474.3,444.4 475.7,431.8 477.1,418.8 478.4,405.8 479.8,392.2 481.1,378.6 482.5,365.8 483.9,354.9 485.2,345.8 486.6,337.2 487.9,328.8 489.3,320.9 490.7,313.1 492.0,304.9 493.4,296.4 494.7,287.7 496.1,279.1 497.5,270.8 498.8,262.7 500.2,255.0 501.5,248.0 502.9,241.5 504.3,235.3 505.6,229.2 507.0,222.8 508.3,216.0 509.7,208.8 511.1,201.4 512.4,194.4 513.8,188.3 515.1,183.1 516.5,178.6 517.9,174.2 519.2,170.1 520.6,166.5 521.9,163.3 523.3,160.2 524.7,157.1 526.0,154.1 527.4,151.2 528.7,148.2 530.1,145.0 531.5,141.5 532.8,137.9 534.2,134.0 535.5,129.7 536.9,125.7 538.3,123.0 539.6,122.0 541.0,122.0 542.3,122.6 543.7,123.7 545.1,124.9 546.4,126.2 547.8,128.4 549.1,132.6 550.5,139.1 551.9,145.6 553.2,150.5 554.6,153.7 555.9,156.6 557.3,158.8 558.7,160.4 560.0,161.0 561.4,160.7 562.7,160.3 564.1,160.0 565.5,159.2 566.8,157.7 568.2,154.9 569.5,151.3 570.9,148.0 572.3,146.0 573.6,144.3 575.0,141.6 576.3,134.1 577.7,128.1 579.1,124.8 580.4,123.4 581.8,124.4 583.1,127.2 584.5,130.9 585.9,135.4 587.2,141.1 588.6,148.6 589.9,158.8 591.3,171.0 592.7,182.9 594.0,196.4 595.4,204.2 596.7,198.0 598.1,185.3 599.5,174.3 600.8,163.4 602.2,154.0 603.5,146.5 604.9,140.2 606.3,134.2 607.6,128.1 609.0,122.7 610.3,117.5 611.7,109.9 613.1,98.1 614.4,84.5 615.8,70.5 617.1,56.1 618.5,45.0 619.9,39.6 621.2,39.8 622.6,48.5 623.9,64.5 625.3,91.2 626.7,94.6 628.0,92.2 629.4,87.5 630.7,80.7 632.1,76.4 633.5,74.3 634.8,75.6 636.2,78.6 637.5,81.7 638.9,84.7 640.3,86.1 641.6,86.2 643.0,86.2 644.3,87.0 645.7,88.4 647.1,90.4 648.4,92.7 649.8,95.3 651.1,98.6 652.5,102.7 653.9,106.5 655.2,109.5 656.6,111.9 657.9,114.4 659.3,117.3 660.7,121.1 662.0,126.1 663.4,131.9 664.7,137.8 666.1,143.2 667.5,147.9 668.8,152.4 670.2,156.9 671.5,161.4 672.9,165.9 674.3,170.7 675.6,175.6 677.0,180.0 678.3,184.0 679.7,188.1 681.1,192.6 682.4,197.3 683.8,202.3 685.1,207.3 686.5,212.3 687.9,217.2 689.2,222.1 690.6,227.2 691.9,232.5 693.3,237.6 694.7,242.3 696.0,247.3 697.4,252.3 698.7,257.0 700.1,261.2 701.5,265.2 702.8,268.8 704.2,272.3 705.5,275.8 706.9,279.6 708.3,283.7 709.6,288.1 711.0,292.7 712.3,296.6 713.7,299.8 715.1,302.4 716.4,304.9 717.8,307.6 719.1,310.1 720.5,311.9 721.9,313.4 723.2,315.0 724.6,316.6 725.9,318.0 727.3,319.2 728.7,320.3 730.0,321.6 731.4,323.0 732.7,324.2 734.1,324.8 735.5,325.3 736.8,325.8 738.2,326.2 739.5,326.5 740.9,327.1 742.3,328.3 743.6,329.9 745.0,331.7 746.3,333.8 747.7,335.8 749.1,337.6 750.4,339.7 751.8,342.4 753.1,345.5 754.5,348.7 755.9,351.5 757.2,353.4 758.6,354.6 759.9,356.0 761.3,358.4 762.7,362.2 764.0,366.5 765.4,370.6 766.7,373.6 768.1,376.2 769.5,378.6 770.8,380.9 772.2,383.4 773.5,386.1 774.9,389.2 776.3,392.7 777.6,396.7 779.0,400.8 780.3,405.0 781.7,409.1 783.1,413.3 784.4,417.7 785.8,422.4 787.1,426.8 788.5,431.1 789.9,435.3 791.2,439.4 792.6,443.5 793.9,447.5 795.3,451.7 796.7,455.9 798.0,460.1 799.4,464.0 800.7,467.2 802.1,470.3 803.5,473.2 804.8,476.2 806.2,479.1 807.5,481.8 808.9,484.6 810.3,487.6 811.6,490.9 813.0,494.4 814.3,497.5 815.7,500.1 817.1,502.4 818.4,504.5 819.8,506.6 821.1,508.8 822.5,510.6 823.9,512.1 825.2,513.5 826.6,514.9 827.9,516.2 829.3,516.9 830.7,517.5 832.0,518.3 833.4,519.4 834.7,520.4 836.1,521.2 837.5,521.9 838.8,522.8 840.2,524.2 841.5,525.9 842.9,527.3 844.3,528.1 845.6,528.7 847.0,529.7 848.3,531.3 849.7,532.9 851.1,534.1 852.4,535.2 853.8,536.4 855.1,537.8 856.5,539.4 857.9,541.1 859.2,543.3 860.6,546.0 861.9,548.7 863.3,551.0 864.7,553.1 866.0,555.3 867.4,557.8 868.7,560.5 870.1,563.0 871.5,565.3 872.8,567.8 874.2,570.8 875.5,573.9 876.9,576.6 878.3,579.1 879.6,581.5 881.0,584.0 882.3,587.0 883.7,590.7 885.1,594.5 886.4,597.9 887.8,601.3 889.1,604.9 890.5,608.4 891.9,611.3 893.2,613.9 894.6,616.6 895.9,619.5 897.3,622.3 898.7,624.8 900.0,627.3 901.4,630.3 902.7,633.5 904.1,636.7 905.5,640.0 906.8,643.2 908.2,645.9 909.5,648.4 910.9,651.3 912.3,654.4 913.6,657.4 915.0,660.0 916.3,662.3 917.7,664.7 919.1,667.0 920.4,669.3 921.8,671.5 923.1,673.5 924.5,675.2 925.9,677.0 927.2,679.4 928.6,682.1 929.9,684.5 931.3,686.6 932.7,688.3 934.0,689.9 935.4,691.8 936.7,693.8 938.1,695.5 939.5,697.0 940.8,698.3 942.2,699.4 943.5,700.3 944.9,701.3 946.3,702.4 947.6,703.6 949.0,704.7 950.3,705.8 951.7,706.9 953.1,708.2 954.4,709.4 955.8,710.4 957.1,711.1 958.5,711.5 959.9,711.8 961.2,712.3 962.6,713.2 963.9,714.3 965.3,715.4 966.7,716.7 968.0,717.8 969.4,719.0 970.7,720.4 972.1,721.8 973.5,723.0 974.8,723.9 976.2,724.7 977.5,725.6 978.9,726.4 980.3,727.2 981.6,728.4 983.0,730.1 984.3,731.7 985.7,733.2 987.1,734.8 988.4,736.7 989.8,738.4 991.1,739.8 992.5,741.2 993.9,742.8 995.2,744.2 996.6,745.3 997.9,746.5 999.3,748.2 1000.7,750.0 1002.0,751.2 1003.4,751.9 1004.7,753.0 1006.1,754.6 1007.5,756.7 1008.8,759.0 1010.2,761.3 1011.5,763.3 1012.9,764.7 1014.3,766.0 1015.6,767.1 1017.0,768.1 1018.3,769.4 1019.7,771.2 1021.1,772.9 1022.4,774.6 1023.8,776.4 1025.1,778.1 1026.5,779.5 1027.9,780.9 1029.2,782.5 1030.6,784.1 1031.9,785.7 1033.3,787.4 1034.7,789.0 1036.0,790.4 1037.4,791.3 1038.7,791.9 1040.1,792.9 1041.5,794.3 1042.8,795.4 1044.2,796.3 1045.5,797.0 1046.9,797.9 1048.3,798.9 1049.6,799.9 1051.0,801.0 1052.3,802.1 1053.7,803.1 1055.1,804.0 1056.4,805.1 1057.8,806.2 1059.1,807.2 1060.5,808.3 1061.9,809.3 1063.2,810.1 1064.6,810.8 1065.9,811.3 1067.3,812.0 1068.7,813.1 1070.0,814.0 1071.4,814.5 1072.7,815.0 1074.1,816.0 1075.5,817.3 1076.8,818.5 1078.2,819.5 1079.5,820.1 1080.9,820.5 1082.3,821.1 1083.6,822.1 1085.0,822.9 1086.3,823.4 1087.7,823.8 1089.1,824.4 1090.4,825.4 1091.8,826.5 1093.1,827.3 1094.5,827.8 1095.9,828.1 1097.2,828.2 1098.6,828.5 1099.9,829.0 1101.3,829.7 1102.7,830.4 1104.0,830.9 1105.4,831.2 1106.7,831.5 1108.1,832.0 1109.5,832.2 1110.8,832.0 1112.2,831.9 1113.5,832.0 1114.9,832.5 1116.3,833.4 1117.6,834.4 1119.0,835.2 1120.3,835.7 1121.7,836.2 1123.1,836.8 1124.4,837.0 1125.8,836.9 1127.1,836.6 1128.5,836.5 1129.9,836.8 1131.2,837.4 1132.6,838.0 1133.9,838.6 1135.3,839.4 1136.7,840.2 1138.0,840.8 1139.4,841.4 1140.7,842.3 1142.1,843.5 1143.5,844.4 1144.8,844.9 1146.2,845.3 1147.5,845.9 1148.9,846.1 1150.3,846.1 1151.6,846.5 1153.0,847.5 1154.3,848.7 1155.7,849.6 1157.1,850.2 1158.4,850.5 1159.8,850.8 1161.1,851.2 1162.5,851.5 1163.9,851.7 1165.2,851.7 1166.6,852.1 1167.9,852.7 1169.3,853.4 1170.7,853.8 1172.0,854.3 1173.4,855.1 1174.7,855.8 1176.1,856.2 1177.5,856.6 1178.8,857.2 1180.2,858.2 1181.5,859.2 1182.9,860.1 1184.3,860.9 1185.6,861.4 1187.0,861.7 1188.3,862.0 1189.7,862.6 1191.1,863.2 1192.4,863.7 1193.8,864.1 1195.1,864.7 1196.5,865.4 1197.9,866.0 1199.2,866.7 1200.6,867.3 1201.9,867.8 1203.3,868.1 1204.7,868.3 1206.0,868.5 1207.4,869.0 1208.7,869.9 1210.1,870.9 1211.5,871.7 1212.8,872.0 1214.2,872.3 1215.5,873.0 1216.9,873.8 1218.3,874.3 1219.6,874.6 1221.0,875.0 1222.3,875.4 1223.7,875.9 1225.1,876.5 1226.4,877.0 1227.8,877.7 1229.1,878.5 1230.5,879.1 1231.9,879.4 1233.2,879.9 1234.6,880.8 1235.9,881.3 1237.3,881.3 1238.7,881.5 1240.0,882.2 1241.4,883.0 1242.7,883.5 1244.1,883.7 1245.5,883.6 1246.8,883.4 1248.2,883.6 1249.5,884.5 1250.9,885.2 1252.3,885.6 1253.6,886.0 1255.0,886.4 1256.3,886.7 1257.7,886.8 1259.1,887.0 1260.4,887.5 1261.8,888.2 1263.1,889.0 1264.5,889.6 1265.9,889.7 1267.2,889.8 1268.6,890.4 1269.9,891.1 1271.3,891.6 1272.7,891.8 1274.0,891.9 1275.4,892.0 1276.7,892.1 1278.1,892.3 1279.5,892.5 1280.8,892.6 1282.2,892.6 1283.5,892.8 1284.9,893.5 1286.3,894.3 1287.6,894.8 1289.0,895.1 1290.3,895.3 1291.7,895.6 1293.1,896.1 1294.4,896.8 1295.8,897.4 1297.1,897.8 1298.5,897.8 1299.9,897.9 1301.2,898.1 1302.6,898.1 1303.9,898.4 1305.3,899.0 1306.7,899.7 1308.0,900.2 1309.4,900.4 1310.7,900.7 1312.1,900.9 1313.5,901.1 1314.8,901.5 1316.2,902.1 1317.5,902.8 1318.9,903.2 1320.3,903.5 1321.6,904.2 1323.0,905.0 1324.3,905.2 1325.7,905.0 1327.1,905.0 1328.4,905.4 1329.8,906.0 1331.1,906.6 1332.5,907.0 1333.9,907.0 1335.2,906.9 1336.6,906.8 1337.9,907.1 1339.3,907.8 1340.7,908.8 1342.0,910.0 1343.4,910.9 1344.7,911.2 1346.1,911.2 1347.5,911.4 1348.8,911.6 1350.2,912.1 1351.5,912.7 1352.9,913.0 1354.3,913.0 1355.6,912.9 1357.0,913.0 1358.3,913.4 1359.7,914.1 1361.1,914.7 1362.4,915.1 1363.8,915.3 1365.1,915.5 1366.5,915.7 1367.9,915.8 1369.2,915.8 1370.6,916.3 1371.9,917.3 1373.3,918.2 1374.7,918.6 1376.0,918.6 1377.4,918.8 1378.7,918.9 1380.1,918.8 1381.5,918.8 1382.8,919.0 1384.2,919.2 1385.5,919.7 1386.9,920.3 1388.3,921.0 1389.6,921.7 1391.0,922.5 1392.3,923.2 1393.7,923.7 1395.1,924.3 1396.4,924.8 1397.8,925.2 1399.1,925.2 1400.5,924.9 1401.9,924.9 1403.2,925.2 1404.6,925.8 1405.9,926.4 1407.3,927.1 1408.7,927.8 1410.0,928.4 1411.4,928.8 1412.7,928.9 1414.1,928.8 1415.5,928.6 1416.8,928.8 1418.2,929.4 1419.5,930.0 1420.9,930.3 1422.3,930.7 1423.6,931.2 1425.0,931.6 1426.3,931.8 1427.7,932.0 1429.1,932.1 1430.4,932.2 1431.8,932.5 1433.1,933.0 1434.5,933.5 1435.9,934.0 1437.2,934.2 1438.6,934.5 1439.9,935.1 1441.3,935.7 1442.7,936.1 1444.0,936.4 1445.4,936.7 1446.7,936.9 1448.1,936.9 1449.5,936.9 1450.8,937.1 1452.2,937.2 1453.5,937.2 1454.9,937.3 1456.3,938.0 1457.6,938.8 1459.0,939.4 1460.3,939.6 1461.7,939.8 1463.1,939.9 1464.4,940.1 1465.8,940.5 1467.1,940.9 1468.5,941.0 1469.9,941.0 1471.2,941.0 1472.6,941.2 1473.9,941.5 1475.3,942.0 1476.7,942.3 1478.0,942.6 1479.4,943.0 1480.7,943.6 1482.1,943.9 1483.5,944.0 1484.8,944.0 1486.2,943.9 1487.5,943.5 1488.9,943.4 1490.3,943.9 1491.6,944.7 1493.0,945.1 1494.3,945.3 1495.7,945.5 1497.1,946.0 1498.4,946.6 1499.8,947.3 1501.1,947.8 1502.5,947.8 1503.9,947.7 1505.2,947.6 1506.6,947.8 1507.9,948.1 1509.3,948.6 1510.7,949.1 1512.0,949.6 1513.4,950.0 1514.7,950.4 1516.1,950.8 1517.5,951.2 1518.8,951.7 1520.2,952.2 1521.5,952.6 1522.9,952.9 1524.3,953.1 1525.6,953.0 1527.0,953.0 1528.3,953.4 1529.7,953.8 1531.1,954.1 1532.4,954.5 1533.8,954.8 1535.1,955.0 1536.5,955.2 1537.9,955.3 1539.2,955.3 1540.6,955.4 1541.9,955.7 1543.3,956.2 1544.7,956.8 1546.0,957.4 1547.4,957.9 1548.7,958.2 1550.1,958.1 1551.5,958.0 1552.8,958.5 1554.2,959.4 1555.5,960.3 1556.9,960.8 1558.3,961.0 1559.6,961.0 1561.0,961.0 1562.3,961.4 1563.7,962.0 1565.1,962.4 1566.4,962.6 1567.8,962.7 1569.1,962.8 1570.5,963.1 1571.9,963.4 1573.2,963.9 1574.6,964.6 1575.9,965.4 1577.3,965.7 1578.7,965.7 1580.0,965.6 1581.4,965.7 1582.7,965.8 1584.1,965.8 1585.5,965.7 1586.8,965.8 1588.2,966.2 1589.5,966.4 1590.9,966.6 1592.3,967.0 1593.6,967.7 1595.0,968.3 1596.3,968.9 1597.7,969.3 1599.1,969.6 1600.4,969.6 1601.8,969.3 1603.1,969.0 1604.5,969.0 1605.9,969.4 1607.2,970.1 1608.6,970.7 1609.9,971.4 1611.3,971.8 1612.7,971.7 1614.0,971.4 1615.4,971.2 1616.7,971.2 1618.1,971.6 1619.5,972.1 1620.8,972.5 1622.2,973.0 1623.5,973.6 1624.9,973.9 1626.3,974.0 1627.6,974.1 1629.0,974.0 1630.3,973.8 1631.7,973.8 1633.1,974.0 1634.4,974.3 1635.8,974.2 1637.1,974.1 1638.5,974.4 1639.9,975.2 1641.2,976.2 1642.6,976.9 1643.9,977.4 1645.3,977.5 1646.7,977.4 1648.0,977.1 1649.4,976.9 1650.7,976.9 1652.1,977.1 1653.5,977.4 1654.8,977.9 1656.2,978.4 1657.5,978.5 1658.9,978.4 1660.3,978.4 1661.6,978.9 1663.0,979.2 1664.3,979.2 1665.7,979.3 1667.1,979.6 1668.4,979.8 1669.8,979.7 1671.1,979.7 1672.5,980.1 1673.9,980.8 1675.2,981.4 1676.6,981.7 1677.9,981.7 1679.3,981.9 1680.7,982.5 1682.0,983.1 1683.4,983.1 1684.7,982.8 1686.1,982.8 1687.5,983.3 1688.8,983.9 1690.2,984.1 1691.5,983.9 1692.9,983.7 1694.3,983.7 1695.6,984.0 1697.0,984.1 1698.3,984.0 1699.7,984.0 1701.1,984.1 1702.4,984.3 1703.8,984.9 1705.1,985.6 1706.5,986.2 1707.9,986.4 1709.2,986.4 1710.6,986.6 1711.9,987.0 1713.3,987.4 1714.7,987.5 1716.0,987.2 1717.4,986.9 1718.7,986.7 1720.1,986.8 1721.5,987.1 1722.8,987.5 1724.2,988.0 1725.5,988.5 1726.9,988.4 1728.3,988.0 1729.6,988.0 1731.0,988.5 1732.3,989.2 1733.7,989.7 1735.1,990.0 1736.4,990.2 1737.8,990.7 1739.1,991.2 1740.5,991.6 1741.9,991.6 1743.2,991.5 1744.6,991.3 1745.9,991.1 1747.3,991.2 1748.7,991.5 1750.0,991.8 1751.4,992.0 1752.7,992.1 1754.1,992.2 1755.5,992.3 1756.8,992.8 1758.2,993.4 1759.5,993.7 1760.9,993.6 1762.3,993.4 1763.6,993.4 1765.0,993.9 1766.3,994.4 1767.7,994.7 1769.1,995.2 1770.4,995.6 1771.8,995.6 1773.1,995.4 1774.5,995.1 1775.9,995.1 1777.2,995.6 1778.6,996.1 1779.9,996.2 1781.3,996.0 1782.7,995.8 1784.0,996.0 1785.4,996.1 1786.7,996.2 1788.1,996.8 1789.5,997.6 1790.8,997.8 1792.2,997.7 1793.5,997.9 1794.9,998.3 1796.3,998.5 1797.6,998.4 1799.0,998.5 1800.3,998.9 1801.7,999.2 1803.1,999.5 1804.4,999.6 1805.8,999.7 1807.1,999.8 1808.5,999.8 1809.9,999.8 1811.2,999.7 1812.6,999.8 1813.9,999.9 1815.3,1000.3 1816.7,1001.0 1818.0,1001.8 1819.4,1002.2 1820.7,1002.2 1822.1,1002.1 1823.5,1002.2 1824.8,1002.3 1826.2,1002.3 1827.5,1002.1 1828.9,1002.2 1830.3,1002.3 1831.6,1002.4 1833.0,1002.5 1834.3,1002.4 1835.7,1002.0 1837.1,1001.7 1838.4,1001.8 1839.8,1002.1 1841.1,1002.1 1842.5,1002.0 1843.9,1002.1 1845.2,1002.6 1846.6,1003.0 1847.9,1003.2 1849.3,1003.2 1850.7,1003.3 1852.0,1003.7 1853.4,1004.1 1854.7,1004.4 1856.1,1004.5 1857.5,1004.5 1858.8,1004.6 1860.2,1004.8 1861.5,1004.9 1862.9,1004.9 1864.3,1004.8 1865.6,1004.8 1867.0,1005.1 1868.3,1005.7 1869.7,1006.5 1871.1,1007.0 1872.4,1006.9 1873.8,1006.7 1875.1,1006.7 1876.5,1006.9 1877.9,1007.1 1879.2,1007.4 1880.6,1007.7 1881.9,1007.8 1883.3,1007.5 1884.7,1006.9 1886.0,1006.6 1887.4,1006.4 1888.7,1006.1 1890.1,1006.2 1891.5,1006.6 1892.8,1006.9 1894.2,1007.0 1895.5,1007.3 1896.9,1007.8 1898.3,1008.3 1899.6,1008.3 1901.0,1008.2 1902.3,1008.3 1903.7,1008.6 1905.1,1009.1 1906.4,1009.5 1907.8,1009.7 1909.1,1009.6 1910.5,1009.4 1911.9,1009.1 1913.2,1008.9 1914.6,1009.0 1915.9,1009.4 1917.3,1009.8 1918.7,1010.2 1920.0,1010.4 1921.4,1010.5 1922.7,1010.5 1924.1,1010.5 1925.5,1010.4 1926.8,1010.4 1928.2,1010.7 1929.5,1011.0 1930.9,1011.3 1932.3,1011.3 1933.6,1011.2 1935.0,1011.4 1936.3,1011.6 1937.7,1011.5 1939.1,1011.5 1940.4,1011.6 1941.8,1012.0 1943.1,1012.3 1944.5,1012.2 1945.9,1012.1 1947.2,1012.2 1948.6,1012.5 1949.9,1012.4 1951.3,1012.1 1952.7,1011.9 1954.0,1012.1 1955.4,1012.3 1956.7,1012.3 1958.1,1012.2 1959.5,1012.1 1960.8,1012.4 1962.2,1013.1 1963.5,1013.8 1964.9,1014.3 1966.3,1014.4 1967.6,1014.0 1969.0,1013.6 1970.3,1013.4 1971.7,1013.5 1973.1,1013.7 1974.4,1014.1 1975.8,1014.4 1977.1,1014.6 1978.5,1014.7" stroke="#ff0000"/>
<path d="M74.5,1030.4 75.9,1030.3 77.2,1030.1 78.6,1029.9 79.9,1029.8 81.3,1029.7 82.7,1029.5 84.0,1029.2 85.4,1029.0 86.7,1028.9 88.1,1028.9 89.5,1028.9 90.8,1029.0 92.2,1029.3 93.5,1029.4 94.9,1029.3 96.3,1028.8 97.6,1028.2 99.0,1027.9 100.3,1028.3 101.7,1029.1 103.1,1029.7 104.4,1029.9 105.8,1030.0 107.1,1030.2 108.5,1030.1 109.9,1029.8 111.2,1029.3 112.6,1028.7 113.9,1028.3 115.3,1028.3 116.7,1028.7 118.0,1029.1 119.4,1029.2 120.7,1029.0 122.1,1028.8 123.5,1028.7 124.8,1028.8 126.2,1029.1 127.5,1029.2 128.9,1029.0 130.3,1028.8 131.6,1028.9 133.0,1029.0 134.3,1028.9 135.7,1028.9 137.1,1029.2 138.4,1029.5 139.8,1029.5 141.1,1029.4 142.5,1029.5 143.9,1029.7 145.2,1029.9 146.6,1029.8 147.9,1029.3 149.3,1028.6 150.7,1028.4 152.0,1028.6 153.4,1028.9 154.7,1029.4 156.1,1029.8 157.5,1030.1 158.8,1030.1 160.2,1029.6 161.5,1029.1 162.9,1029.0 164.3,1029.1 165.6,1029.3 167.0,1029.3 168.3,1029.3 169.7,1029.4 171.1,1029.5 172.4,1029.2 173.8,1028.7 175.1,1028.5 176.5,1028.8 177.9,1028.9 179.2,1028.8 180.6,1028.7 181.9,1029.0 183.3,1029.3 184.7,1029.6 186.0,1029.7 187.4,1029.8 188.7,1029.8 190.1,1029.6 191.5,1029.4 192.8,1029.2 194.2,1028.9 195.5,1028.5 196.9,1028.5 198.3,1028.7 199.6,1029.0 201.0,1029.0 202.3,1028.9 203.7,1028.9 205.1,1028.8 206.4,1028.7 207.8,1028.6 209.1,1028.5 210.5,1028.6 211.9,1029.0 213.2,1029.3 214.6,1029.4 215.9,1029.5 217.3,1029.6 218.7,1029.7 220.0,1029.6 221.4,1029.2 222.7,1028.6 224.1,1028.3 225.5,1028.4 226.8,1028.6 228.2,1028.6 229.5,1028.9 230.9,1029.5 232.3,1029.8 233.6,1029.4 235.0,1028.7 236.3,1028.3 237.7,1028.0 239.1,1027.7 240.4,1027.9 241.8,1028.6 243.1,1029.0 244.5,1028.9 245.9,1028.8 247.2,1028.8 248.6,1028.8 249.9,1028.9 251.3,1029.0 252.7,1028.8 254.0,1028.4 255.4,1028.1 256.7,1027.8 258.1,1027.7 259.5,1027.7 260.8,1027.5 262.2,1027.2 263.5,1026.7 264.9,1025.5 266.3,1024.1 267.6,1022.7 269.0,1021.6 270.3,1020.3 271.7,1018.2 273.1,1015.7 274.4,1012.8 275.8,1009.5 277.1,1005.8 278.5,1001.8 279.9,996.6 281.2,989.9 282.6,982.6 283.9,975.3 285.3,968.3 286.7,961.5 288.0,954.8 289.4,948.6 290.7,943.0 292.1,938.0 293.5,933.6 294.8,929.6 296.2,926.1 297.5,922.8 298.9,919.9 300.3,917.5 301.6,915.6 303.0,914.0 304.3,912.8 305.7,912.0 307.1,911.4 308.4,911.1 309.8,911.5 311.1,912.5 312.5,913.9 313.9,915.5 315.2,917.5 316.6,919.5 317.9,921.5 319.3,923.6 320.7,925.9 322.0,928.3 323.4,930.8 324.7,933.0 326.1,935.2 327.5,937.6 328.8,940.0 330.2,942.3 331.5,944.2 332.9,945.9 334.3,947.2 335.6,948.8 337.0,950.6 338.3,952.3 339.7,953.9 341.1,955.8 342.4,957.9 343.8,959.8 345.1,961.4 346.5,963.0 347.9,964.4 349.2,965.7 350.6,966.7 351.9,967.5 353.3,968.6 354.7,970.2 356.0,971.8 357.4,973.1 358.7,973.9 360.1,974.4 361.5,975.4 362.8,976.9 364.2,978.2 365.5,979.2 366.9,980.3 368.3,981.6 369.6,983.1 371.0,984.8 372.3,986.4 373.7,987.3 375.1,987.8 376.4,988.2 377.8,988.8 379.1,989.6 380.5,990.3 381.9,991.0 383.2,992.1 384.6,993.3 385.9,994.0 387.3,994.6 388.7,995.6 390.0,996.9 391.4,997.7 392.7,998.1 394.1,998.6 395.5,999.1 396.8,999.4 398.2,999.7 399.5,1000.2 400.9,1000.9 402.3,1001.5 403.6,1002.3 405.0,1003.3 406.3,1004.5 407.7,1005.3 409.1,1005.9 410.4,1006.4 411.8,1006.5 413.1,1006.6 414.5,1007.1 415.9,1007.6 417.2,1007.9 418.6,1008.2 419.9,1009.1 421.3,1010.1 422.7,1010.8 424.0,1010.9 425.4,1010.8 426.7,1010.6 428.1,1010.6 429.5,1011.0 430.8,1011.7 432.2,1012.6 433.5,1013.7 434.9,1014.7 436.3,1015.5 437.6,1015.8 439.0,1015.7 440.3,1015.6 441.7,1015.8 443.1,1016.0 444.4,1016.4 445.8,1016.8 447.1,1017.3 448.5,1017.8 449.9,1017.9 451.2,1017.6 452.6,1017.5 453.9,1017.8 455.3,1018.4 456.7,1018.9 458.0,1019.4 459.4,1020.0 460.7,1020.4 462.1,1020.3 463.5,1019.7 464.8,1019.0 466.2,1018.5 467.5,1018.8 468.9,1019.5 470.3,1020.1 471.6,1020.3 473.0,1020.1 474.3,1019.8 475.7,1019.8 477.1,1020.2 478.4,1020.7 479.8,1021.1 481.1,1021.4 482.5,1021.8 483.9,1022.2 485.2,1022.6 486.6,1022.8 487.9,1022.6 489.3,1022.2 490.7,1021.9 492.0,1021.9 493.4,1022.3 494.7,1022.6 496.1,1022.9 497.5,1023.0 498.8,1023.1 500.2,1023.1 501.5,1023.0 502.9,1022.9 504.3,1023.0 505.6,1023.1 507.0,1023.1 508.3,1023.2 509.7,1023.3 511.1,1023.0 512.4,1022.7 513.8,1022.9 515.1,1023.5 516.5,1024.1 517.9,1024.6 519.2,1024.7 520.6,1024.5 521.9,1024.1 523.3,1023.8 524.7,1023.7 526.0,1023.8 527.4,1023.8 528.7,1023.8 530.1,1024.0 531.5,1024.0 532.8,1023.7 534.2,1023.2 535.5,1023.0 536.9,1023.4 538.3,1024.0 539.6,1024.6 541.0,1025.2 542.3,1025.6 543.7,1025.5 545.1,1025.2 546.4,1025.1 547.8,1025.2 549.1,1025.3 550.5,1025.3 551.9,1025.3 553.2,1025.3 554.6,1025.1 555.9,1024.5 557.3,1024.3 558.7,1024.7 560.0,1025.1 561.4,1025.2 562.7,1025.5 564.1,1025.6 565.5,1025.1 566.8,1024.6 568.2,1024.6 569.5,1024.7 570.9,1024.8 572.3,1024.8 573.6,1024.9 575.0,1025.0 576.3,1024.9 577.7,1024.8 579.1,1024.7 580.4,1024.7 581.8,1024.8 583.1,1024.9 584.5,1024.7 585.9,1024.4 587.2,1024.2 588.6,1024.3 589.9,1024.8 591.3,1025.3 592.7,1025.4 594.0,1024.9 595.4,1024.4 596.7,1024.2 598.1,1024.4 599.5,1024.8 600.8,1025.2 602.2,1025.4 603.5,1025.4 604.9,1025.4 606.3,1025.5 607.6,1025.5 609.0,1025.5 610.3,1025.7 611.7,1025.8 613.1,1025.7 614.4,1025.5 615.8,1025.4 617.1,1025.4 618.5,1025.3 619.9,1025.0 621.2,1024.8 622.6,1024.9 623.9,1025.3 625.3,1025.6 626.7,1025.7 628.0,1025.5 629.4,1025.1 630.7,1024.9 632.1,1025.0 633.5,1025.0 634.8,1025.0 636.2,1024.9 637.5,1024.9 638.9,1025.4 640.3,1025.7 641.6,1025.5 643.0,1025.1 644.3,1025.0 645.7,1025.0 647.1,1025.0 648.4,1024.9 649.8,1024.6 651.1,1024.4 652.5,1024.6 653.9,1024.7 655.2,1024.8 656.6,1024.9 657.9,1025.1 659.3,1025.1 660.7,1025.0 662.0,1025.0 663.4,1025.1 664.7,1025.0 666.1,1024.8 667.5,1024.5 668.8,1024.6 670.2,1024.9 671.5,1025.4 672.9,1025.9 674.3,1026.0 675.6,1025.8 677.0,1025.5 678.3,1025.2 679.7,1025.0 681.1,1024.8 682.4,1024.7 683.8,1024.7 685.1,1025.0 686.5,1025.5 687.9,1025.8 689.2,1025.7 690.6,1025.5 691.9,1025.3 693.3,1025.5 694.7,1025.8 696.0,1026.2 697.4,1026.0 698.7,1025.4 700.1,1025.0 701.5,1025.0 702.8,1025.0 704.2,1024.9 705.5,1024.6 706.9,1024.6 708.3,1024.8 709.6,1024.7 711.0,1024.4 712.3,1024.4 713.7,1025.0 715.1,1025.3 716.4,1025.1 717.8,1024.7 719.1,1024.5 720.5,1024.6 721.9,1024.7 723.2,1024.7 724.6,1024.7 725.9,1024.6 727.3,1024.3 728.7,1024.0 730.0,1023.9 731.4,1023.9 732.7,1024.0 734.1,1024.2 735.5,1024.4 736.8,1024.6 738.2,1024.6 739.5,1024.4 740.9,1024.3 742.3,1024.0 743.6,1023.8 745.0,1023.6 746.3,1023.5 747.7,1023.3 749.1,1023.2 750.4,1023.1 751.8,1023.2 753.1,1023.6 754.5,1024.0 755.9,1024.4 757.2,1024.5 758.6,1024.2 759.9,1023.7 761.3,1023.4 762.7,1023.3 764.0,1023.4 765.4,1023.4 766.7,1023.4 768.1,1023.2 769.5,1023.1 770.8,1023.0 772.2,1022.9 773.5,1022.9 774.9,1023.1 776.3,1023.3 777.6,1023.5 779.0,1023.2 780.3,1022.7 781.7,1022.2 783.1,1022.1 784.4,1022.0 785.8,1021.8 787.1,1021.4 788.5,1021.2 789.9,1021.3 791.2,1021.4 792.6,1021.5 793.9,1021.7 795.3,1022.0 796.7,1021.9 798.0,1021.4 799.4,1021.0 800.7,1021.0 802.1,1021.4 803.5,1021.4 804.8,1021.2 806.2,1020.7 807.5,1020.1 808.9,1019.9 810.3,1020.3 811.6,1020.7 813.0,1020.8 814.3,1020.9 815.7,1020.9 817.1,1020.8 818.4,1020.5 819.8,1020.2 821.1,1020.2 822.5,1020.5 823.9,1020.7 825.2,1020.7 826.6,1020.4 827.9,1020.2 829.3,1020.5 830.7,1021.1 832.0,1021.5 833.4,1021.4 834.7,1020.8 836.1,1020.2 837.5,1020.0 838.8,1020.1 840.2,1020.2 841.5,1020.2 842.9,1020.3 844.3,1020.2 845.6,1020.0 847.0,1019.8 848.3,1019.7 849.7,1019.6 851.1,1019.6 852.4,1019.5 853.8,1019.3 855.1,1019.0 856.5,1018.8 857.9,1019.0 859.2,1019.6 860.6,1020.0 861.9,1019.9 863.3,1019.4 864.7,1019.1 866.0,1019.2 867.4,1019.4 868.7,1019.2 870.1,1018.7 871.5,1018.3 872.8,1018.4 874.2,1018.9 875.5,1019.3 876.9,1019.6 878.3,1019.7 879.6,1019.7 881.0,1019.7 882.3,1019.3 883.7,1018.5 885.1,1017.8 886.4,1017.7 887.8,1018.2 889.1,1018.8 890.5,1019.2 891.9,1019.2 893.2,1019.1 894.6,1019.0 895.9,1019.1 897.3,1019.2 898.7,1019.0 900.0,1018.3 901.4,1017.9 902.7,1017.9 904.1,1018.1 905.5,1018.1 906.8,1018.0 908.2,1017.8 909.5,1017.6 910.9,1017.4 912.3,1017.2 913.6,1017.3 915.0,1017.7 916.3,1018.1 917.7,1018.1 919.1,1017.8 920.4,1017.5 921.8,1017.7 923.1,1017.9 924.5,1017.8 925.9,1017.4 927.2,1017.2 928.6,1017.4 929.9,1017.6 931.3,1017.6 932.7,1017.4 934.0,1017.3 935.4,1017.3 936.7,1017.2 938.1,1017.4 939.5,1017.8 940.8,1018.1 942.2,1018.2 943.5,1018.2 944.9,1018.0 946.3,1017.8 947.6,1017.7 949.0,1017.4 950.3,1016.8 951.7,1016.4 953.1,1016.7 954.4,1017.3 955.8,1017.5 957.1,1017.4 958.5,1017.2 959.9,1017.2 961.2,1016.8 962.6,1016.4 963.9,1016.2 965.3,1016.5 966.7,1016.7 968.0,1016.7 969.4,1016.6 970.7,1016.5 972.1,1016.8 973.5,1017.4 974.8,1017.7 976.2,1017.4 977.5,1017.2 978.9,1017.5 980.3,1017.9 981.6,1017.7 983.0,1017.0 984.3,1016.4 985.7,1016.3 987.1,1016.4 988.4,1016.4 989.8,1016.2 991.1,1016.2 992.5,1016.4 993.9,1016.4 995.2,1016.3 996.6,1015.9 997.9,1015.8 999.3,1016.0 1000.7,1016.3 1002.0,1016.3 1003.4,1016.4 1004.7,1016.5 1006.1,1016.4 1007.5,1016.3 1008.8,1016.2 1010.2,1016.3 1011.5,1016.3 1012.9,1016.2 1014.3,1015.9 1015.6,1015.8 1017.0,1016.0 1018.3,1016.1 1019.7,1016.1 1021.1,1016.0 1022.4,1016.1 1023.8,1016.5 1025.1,1016.8 1026.5,1017.1 1027.9,1017.1 1029.2,1016.8 1030.6,1016.4 1031.9,1016.0 1033.3,1015.8 1034.7,1016.0 1036.0,1016.3 1037.4,1016.3 1038.7,1016.1 1040.1,1015.8 1041.5,1015.7 1042.8,1015.9 1044.2,1016.0 1045.5,1015.7 1046.9,1015.5 1048.3,1015.9 1049.6,1016.6 1051.0,1016.9 1052.3,1016.8 1053.7,1016.4 1055.1,1016.1 1056.4,1016.0 1057.8,1015.8 1059.1,1015.6 1060.5,1015.4 1061.9,1015.4 1063.2,1015.4 1064.6,1015.3 1065.9,1015.4 1067.3,1015.6 1068.7,1015.7 1070.0,1015.5 1071.4,1015.2 1072.7,1014.9 1074.1,1014.9 1075.5,1015.4 1076.8,1016.0 1078.2,1016.3 1079.5,1016.3 1080.9,1016.5 1082.3,1016.9 1083.6,1017.0 1085.0,1016.9 1086.3,1016.9 1087.7,1016.8 1089.1,1016.3 1090.4,1015.9 1091.8,1016.0 1093.1,1016.6 1094.5,1017.1 1095.9,1017.2 1097.2,1017.2 1098.6,1016.9 1099.9,1016.3 1101.3,1016.3 1102.7,1016.7 1104.0,1016.9 1105.4,1016.7 1106.7,1016.5 1108.1,1016.5 1109.5,1016.6 1110.8,1016.4 1112.2,1015.9 1113.5,1015.6 1114.9,1016.0 1116.3,1016.3 1117.6,1016.2 1119.0,1015.8 1120.3,1015.6 1121.7,1015.4 1123.1,1015.2 1124.4,1015.1 1125.8,1015.3 1127.1,1015.9 1128.5,1016.6 1129.9,1016.8 1131.2,1016.9 1132.6,1016.8 1133.9,1016.3 1135.3,1015.9 1136.7,1015.8 1138.0,1016.0 1139.4,1016.2 1140.7,1016.3 1142.1,1016.2 1143.5,1016.2 1144.8,1016.3 1146.2,1016.1 1147.5,1015.9 1148.9,1016.0 1150.3,1016.1 1151.6,1016.3 1153.0,1016.5 1154.3,1016.4 1155.7,1016.3 1157.1,1016.0 1158.4,1015.9 1159.8,1016.0 1161.1,1016.3 1162.5,1016.5 1163.9,1016.4 1165.2,1016.2 1166.6,1016.1 1167.9,1016.3 1169.3,1016.3 1170.7,1016.1 1172.0,1015.8 1173.4,1015.6 1174.7,1015.4 1176.1,1015.6 1177.5,1016.3 1178.8,1017.0 1180.2,1017.3 1181.5,1017.1 1182.9,1016.8 1184.3,1016.6 1185.6,1016.4 1187.0,1016.1 1188.3,1015.7 1189.7,1015.6 1191.1,1016.2 1192.4,1016.8 1193.8,1016.9 1195.1,1016.7 1196.5,1016.6 1197.9,1016.1 1199.2,1015.6 1200.6,1015.5 1201.9,1015.8 1203.3,1016.2 1204.7,1016.4 1206.0,1016.6 1207.4,1016.4 1208.7,1015.9 1210.1,1015.5 1211.5,1015.5 1212.8,1015.7 1214.2,1016.0 1215.5,1016.2 1216.9,1016.5 1218.3,1017.1 1219.6,1017.8 1221.0,1018.3 1222.3,1018.4 1223.7,1018.2 1225.1,1018.0 1226.4,1018.1 1227.8,1018.1 1229.1,1017.7 1230.5,1016.9 1231.9,1016.2 1233.2,1016.2 1234.6,1016.7 1235.9,1017.1 1237.3,1017.2 1238.7,1017.1 1240.0,1016.9 1241.4,1016.9 1242.7,1017.3 1244.1,1017.5 1245.5,1017.8 1246.8,1017.9 1248.2,1017.7 1249.5,1017.2 1250.9,1016.8 1252.3,1016.6 1253.6,1016.8 1255.0,1017.0 1256.3,1017.4 1257.7,1018.1 1259.1,1018.5 1260.4,1018.6 1261.8,1018.5 1263.1,1018.3 1264.5,1018.1 1265.9,1017.9 1267.2,1017.4 1268.6,1016.9 1269.9,1016.8 1271.3,1017.2 1272.7,1017.7 1274.0,1018.0 1275.4,1017.8 1276.7,1017.7 1278.1,1018.0 1279.5,1018.7 1280.8,1019.1 1282.2,1018.7 1283.5,1018.2 1284.9,1017.8 1286.3,1017.4 1287.6,1017.2 1289.0,1017.2 1290.3,1017.5 1291.7,1017.6 1293.1,1017.4 1294.4,1017.1 1295.8,1017.0 1297.1,1017.4 1298.5,1017.9 1299.9,1018.2 1301.2,1018.1 1302.6,1017.9 1303.9,1017.7 1305.3,1017.7 1306.7,1017.7 1308.0,1017.7 1309.4,1017.7 1310.7,1018.0 1312.1,1018.3 1313.5,1018.3 1314.8,1018.2 1316.2,1018.3 1317.5,1018.3 1318.9,1018.2 1320.3,1018.1 1321.6,1018.3 1323.0,1018.6 1324.3,1018.6 1325.7,1018.5 1327.1,1018.2 1328.4,1017.9 1329.8,1017.6 1331.1,1017.5 1332.5,1017.9 1333.9,1018.3 1335.2,1018.3 1336.6,1018.4 1337.9,1018.6 1339.3,1018.8 1340.7,1018.8 1342.0,1018.9 1343.4,1018.9 1344.7,1018.7 1346.1,1018.8 1347.5,1018.9 1348.8,1018.8 1350.2,1018.7 1351.5,1018.7 1352.9,1018.8 1354.3,1018.9 1355.6,1019.1 1357.0,1019.5 1358.3,1019.7 1359.7,1019.7 1361.1,1019.6 1362.4,1019.6 1363.8,1019.5 1365.1,1019.2 1366.5,1018.9 1367.9,1018.8 1369.2,1018.7 1370.6,1018.3 1371.9,1018.0 1373.3,1017.9 1374.7,1017.9 1376.0,1017.9 1377.4,1018.1 1378.7,1018.5 1380.1,1018.6 1381.5,1018.5 1382.8,1018.3 1384.2,1018.2 1385.5,1018.5 1386.9,1019.0 1388.3,1019.6 1389.6,1019.8 1391.0,1019.9 1392.3,1020.0 1393.7,1020.1 1395.1,1020.0 1396.4,1019.6 1397.8,1019.1 1399.1,1018.5 1400.5,1018.5 1401.9,1019.0 1403.2,1019.6 1404.6,1019.6 1405.9,1019.4 1407.3,1019.2 1408.7,1019.1 1410.0,1019.1 1411.4,1019.2 1412.7,1019.5 1414.1,1019.8 1415.5,1020.0 1416.8,1020.2 1418.2,1020.3 1419.5,1020.4 1420.9,1020.4 1422.3,1020.3 1423.6,1020.2 1425.0,1020.1 1426.3,1019.8 1427.7,1019.3 1429.1,1018.8 1430.4,1018.7 1431.8,1019.1 1433.1,1019.7 1434.5,1020.2 1435.9,1020.4 1437.2,1020.2 1438.6,1020.1 1439.9,1020.1 1441.3,1019.9 1442.7,1019.8 1444.0,1020.0 1445.4,1020.6 1446.7,1021.2 1448.1,1021.4 1449.5,1021.1 1450.8,1021.0 1452.2,1020.9 1453.5,1020.7 1454.9,1020.5 1456.3,1020.5 1457.6,1020.6 1459.0,1020.6 1460.3,1020.6 1461.7,1020.9 1463.1,1021.4 1464.4,1021.6 1465.8,1021.3 1467.1,1020.9 1468.5,1020.8 1469.9,1020.7 1471.2,1020.5 1472.6,1020.4 1473.9,1020.2 1475.3,1020.2 1476.7,1020.3 1478.0,1020.4 1479.4,1020.4 1480.7,1020.4 1482.1,1020.4 1483.5,1020.4 1484.8,1020.4 1486.2,1020.8 1487.5,1021.2 1488.9,1021.4 1490.3,1021.2 1491.6,1021.1 1493.0,1021.4 1494.3,1021.7 1495.7,1021.4 1497.1,1021.0 1498.4,1020.6 1499.8,1020.4 1501.1,1020.2 1502.5,1020.1 1503.9,1020.2 1505.2,1020.4 1506.6,1021.0 1507.9,1021.5 1509.3,1021.4 1510.7,1020.8 1512.0,1020.3 1513.4,1019.9 1514.7,1019.9 1516.1,1020.1 1517.5,1020.5 1518.8,1020.9 1520.2,1021.2 1521.5,1021.4 1522.9,1021.7 1524.3,1022.1 1525.6,1022.3 1527.0,1022.4 1528.3,1022.5 1529.7,1022.3 1531.1,1021.8 1532.4,1021.4 1533.8,1021.3 1535.1,1021.6 1536.5,1022.1 1537.9,1022.1 1539.2,1021.7 1540.6,1021.4 1541.9,1021.4 1543.3,1021.6 1544.7,1021.8 1546.0,1022.0 1547.4,1022.1 1548.7,1022.1 1550.1,1022.0 1551.5,1022.1 1552.8,1022.2 1554.2,1022.3 1555.5,1022.4 1556.9,1022.5 1558.3,1022.5 1559.6,1022.4 1561.0,1022.4 1562.3,1022.6 1563.7,1022.7 1565.1,1022.6 1566.4,1022.2 1567.8,1022.0 1569.1,1022.1 1570.5,1022.3 1571.9,1022.1 1573.2,1021.8 1574.6,1021.6 1575.9,1021.6 1577.3,1021.8 1578.7,1021.7 1580.0,1021.6 1581.4,1021.9 1582.7,1022.4 1584.1,1022.9 1585.5,1023.3 1586.8,1023.5 1588.2,1023.3 1589.5,1022.8 1590.9,1022.4 1592.3,1022.2 1593.6,1022.1 1595.0,1022.0 1596.3,1021.9 1597.7,1021.8 1599.1,1021.5 1600.4,1021.6 1601.8,1022.2 1603.1,1022.7 1604.5,1022.9 1605.9,1022.8 1607.2,1022.8 1608.6,1022.9 1609.9,1023.1 1611.3,1023.1 1612.7,1023.1 1614.0,1023.1 1615.4,1023.0 1616.7,1022.9 1618.1,1023.0 1619.5,1023.3 1620.8,1023.7 1622.2,1023.8 1623.5,1023.7 1624.9,1023.2 1626.3,1022.8 1627.6,1023.0 1629.0,1023.3 1630.3,1023.2 1631.7,1022.9 1633.1,1022.5 1634.4,1022.3 1635.8,1022.3 1637.1,1022.8 1638.5,1023.4 1639.9,1023.8 1641.2,1023.8 1642.6,1023.3 1643.9,1022.8 1645.3,1022.6 1646.7,1022.9 1648.0,1023.0 1649.4,1022.7 1650.7,1022.6 1652.1,1022.8 1653.5,1023.0 1654.8,1022.8 1656.2,1022.7 1657.5,1023.1 1658.9,1023.7 1660.3,1023.9 1661.6,1023.8 1663.0,1023.5 1664.3,1023.3 1665.7,1023.1 1667.1,1022.9 1668.4,1022.7 1669.8,1022.7 1671.1,1023.0 1672.5,1023.1 1673.9,1023.2 1675.2,1023.2 1676.6,1023.6 1677.9,1024.0 1679.3,1024.0 1680.7,1023.5 1682.0,1023.1 1683.4,1023.2 1684.7,1023.6 1686.1,1023.6 1687.5,1023.4 1688.8,1023.4 1690.2,1023.3 1691.5,1023.2 1692.9,1023.2 1694.3,1023.6 1695.6,1024.3 1697.0,1024.5 1698.3,1024.3 1699.7,1024.2 1701.1,1024.1 1702.4,1023.9 1703.8,1023.7 1705.1,1024.0 1706.5,1024.5 1707.9,1024.7 1709.2,1024.5 1710.6,1024.4 1711.9,1024.4 1713.3,1024.6 1714.7,1024.5 1716.0,1024.1 1717.4,1023.7 1718.7,1023.4 1720.1,1023.0 1721.5,1023.0 1722.8,1023.5 1724.2,1024.0 1725.5,1024.1 1726.9,1024.1 1728.3,1024.1 1729.6,1024.1 1731.0,1024.0 1732.3,1024.1 1733.7,1024.2 1735.1,1024.0 1736.4,1023.8 1737.8,1023.7 1739.1,1024.1 1740.5,1024.7 1741.9,1025.1 1743.2,1025.0 1744.6,1024.6 1745.9,1024.3 1747.3,1024.2 1748.7,1024.2 1750.0,1024.0 1751.4,1023.5 1752.7,1023.2 1754.1,1023.4 1755.5,1023.8 1756.8,1024.3 1758.2,1024.4 1759.5,1024.2 1760.9,1024.1 1762.3,1024.3 1763.6,1024.4 1765.0,1024.6 1766.3,1024.7 1767.7,1024.8 1769.1,1025.0 1770.4,1025.3 1771.8,1025.3 1773.1,1025.1 1774.5,1025.0 1775.9,1025.0 1777.2,1024.8 1778.6,1024.6 1779.9,1024.7 1781.3,1024.9 1782.7,1025.0 1784.0,1025.0 1785.4,1025.1 1786.7,1025.2 1788.1,1025.5 1789.5,1025.8 1790.8,1025.9 1792.2,1025.6 1793.5,1025.4 1794.9,1025.5 1796.3,1025.7 1797.6,1025.7 1799.0,1025.6 1800.3,1025.5 1801.7,1025.4 1803.1,1025.3 1804.4,1025.3 1805.8,1025.1 1807.1,1025.0 1808.5,1025.1 1809.9,1025.3 1811.2,1025.4 1812.6,1025.6 1813.9,1025.8 1815.3,1026.0 1816.7,1026.1 1818.0,1026.1 1819.4,1026.0 1820.7,1025.9 1822.1,1026.0 1823.5,1026.2 1824.8,1026.4 1826.2,1026.7 1827.5,1026.6 1828.9,1026.2 1830.3,1025.7 1831.6,1025.6 1833.0,1025.6 1834.3,1025.7 1835.7,1025.9 1837.1,1026.2 1838.4,1026.4 1839.8,1026.5 1841.1,1026.4 1842.5,1026.6 1843.9,1026.8 1845.2,1026.8 1846.6,1026.5 1847.9,1026.0 1849.3,1025.4 1850.7,1025.0 1852.0,1025.2 1853.4,1025.9 1854.7,1026.6 1856.1,1027.0 1857.5,1027.0 1858.8,1026.7 1860.2,1026.8 1861.5,1027.0 1862.9,1026.7 1864.3,1026.3 1865.6,1026.1 1867.0,1026.0 1868.3,1026.1 1869.7,1026.2 1871.1,1026.3 1872.4,1026.2 1873.8,1026.2 1875.1,1026.3 1876.5,1026.4 1877.9,1026.3 1879.2,1026.1 1880.6,1026.0 1881.9,1026.0 1883.3,1026.0 1884.7,1026.1 1886.0,1026.2 1887.4,1026.4 1888.7,1026.7 1890.1,1026.9 1891.5,1026.9 1892.8,1026.8 1894.2,1026.6 1895.5,1026.6 1896.9,1026.7 1898.3,1026.7 1899.6,1026.8 1901.0,1026.6 1902.3,1026.1 1903.7,1025.8 1905.1,1025.8 1906.4,1025.8 1907.8,1025.5 1909.1,1025.4 1910.5,1025.6 1911.9,1026.0 1913.2,1026.2 1914.6,1026.1 1915.9,1026.1 1917.3,1026.2 1918.7,1026.3 1920.0,1026.5 1921.4,1026.7 1922.7,1026.6 1924.1,1026.3 1925.5,1026.3 1926.8,1026.6 1928.2,1026.8 1929.5,1026.9 1930.9,1026.9 1932.3,1026.8 1933.6,1026.8 1935.0,1027.3 1936.3,1027.9 1937.7,1028.4 1939.1,1028.2 1940.4,1027.6 1941.8,1026.9 1943.1,1026.5 1944.5,1026.6 1945.9,1026.9 1947.2,1027.1 1948.6,1027.1 1949.9,1027.4 1951.3,1027.7 1952.7,1027.8 1954.0,1027.6 1955.4,1027.6 1956.7,1027.7 1958.1,1027.4 1959.5,1026.9 1960.8,1026.8 1962.2,1027.3 1963.5,1028.0 1964.9,1028.5 1966.3,1028.7 1967.6,1028.5 1969.0,1028.1 1970.3,1027.8 1971.7,1027.9 1973.1,1028.0 1974.4,1028.0 1975.8,1027.9 1977.1,1027.7 1978.5,1027.6" stroke="#b6b70f"/>
</g>
<line x1="596" y1="1031.0" x2="596" y2="191" stroke="#000" stroke-width="3" stroke-dasharray="7.6 5.2"/>
<path d="M73.9,1031.0 v4.5 M346.0,1031.0 v4.5 M618.1,1031.0 v4.5 M890.3,1031.0 v4.5 M1162.4,1031.0 v4.5 M1434.6,1031.0 v4.5 M1706.8,1031.0 v4.5 M1978.9,1031.0 v4.5 M74.5,1031.3 h-4.5 M74.5,914.0 h-4.5 M74.5,796.7 h-4.5 M74.5,679.5 h-4.5 M74.5,562.2 h-4.5 M74.5,444.9 h-4.5 M74.5,327.6 h-4.5 M74.5,210.3 h-4.5 M74.5,93.1 h-4.5" stroke="#666" stroke-width="1.4" fill="none"/>
<g font-family="'DejaVu Sans', 'Liberation Sans', sans-serif" font-weight="bold" fill="#000">
<text x="73.9" y="1069.5" font-size="36" text-anchor="middle">250</text>
<text x="346.0" y="1069.5" font-size="36" text-anchor="middle">300</text>
<text x="618.1" y="1069.5" font-size="36" text-anchor="middle">350</text>
<text x="890.3" y="1069.5" font-size="36" text-anchor="middle">400</text>
<text x="1162.4" y="1069.5" font-size="36" text-anchor="middle">450</text>
<text x="1434.6" y="1069.5" font-size="36" text-anchor="middle">500</text>
<text x="1706.8" y="1069.5" font-size="36" text-anchor="middle">550</text>
<text x="1978.9" y="1069.5" font-size="36" text-anchor="middle">600</text>
<text x="65" y="1024.4" font-size="36" text-anchor="end">0</text>
<text x="65" y="906.8" font-size="36" text-anchor="end">2</text>
<text x="65" y="789.2" font-size="36" text-anchor="end">4</text>
<text x="65" y="671.6" font-size="36" text-anchor="end">6</text>
<text x="65" y="554.0" font-size="36" text-anchor="end">8</text>
<text x="65" y="436.4" font-size="36" text-anchor="end">10</text>
<text x="65" y="318.8" font-size="36" text-anchor="end">12</text>
<text x="65" y="201.2" font-size="36" text-anchor="end">14</text>
<text x="65" y="83.6" font-size="36" text-anchor="end">16</text>
<text x="597" y="1008" font-size="35.5">346</text>
<text x="1029" y="1111" font-size="36.8" text-anchor="middle"><tspan font-style="italic">λ</tspan>, nm</text>
<text x="91" y="32" font-size="30.6">I, rel. un.</text>
<line x1="1638.5" y1="86.3" x2="1717" y2="86.3" stroke="#0c6cb8" stroke-width="5.2"/>
<text x="1743.5" y="99.5" font-size="36.6">1 ppm</text>
<line x1="1638.5" y1="139.9" x2="1717" y2="139.9" stroke="#ff7400" stroke-width="5.2"/>
<text x="1743.5" y="153.1" font-size="36.6">2 ppm</text>
<line x1="1638.5" y1="193.5" x2="1717" y2="193.5" stroke="#1a981a" stroke-width="5.2"/>
<text x="1743.5" y="206.7" font-size="36.6">8 ppm</text>
<line x1="1638.5" y1="247.1" x2="1717" y2="247.1" stroke="#d41012" stroke-width="5.2"/>
<text x="1743.5" y="260.3" font-size="36.6">12 ppm</text>
<line x1="1638.5" y1="300.7" x2="1717" y2="300.7" stroke="#8f5cc0" stroke-width="5.2"/>
<text x="1743.5" y="313.9" font-size="36.6">16 ppm</text>
<line x1="1638.5" y1="354.3" x2="1717" y2="354.3" stroke="#82483c" stroke-width="5.2"/>
<text x="1743.5" y="367.5" font-size="36.6">21 ppm</text>
<line x1="1638.5" y1="407.9" x2="1717" y2="407.9" stroke="#e56dc4" stroke-width="5.2"/>
<text x="1743.5" y="421.1" font-size="36.6">29 ppm</text>
<line x1="1638.5" y1="461.5" x2="1717" y2="461.5" stroke="#747474" stroke-width="5.2"/>
<text x="1743.5" y="474.7" font-size="36.6">35 ppm</text>
<line x1="1638.5" y1="515.1" x2="1717" y2="515.1" stroke="#ff0000" stroke-width="5.2"/>
<text x="1743.5" y="528.3" font-size="36.6">42 ppm</text>
<line x1="1638.5" y1="568.7" x2="1717" y2="568.7" stroke="#b6b70f" stroke-width="5.2"/>
<text x="1743.5" y="581.9" font-size="36.6">sea water</text>
</g>
</svg>
</body></html>
